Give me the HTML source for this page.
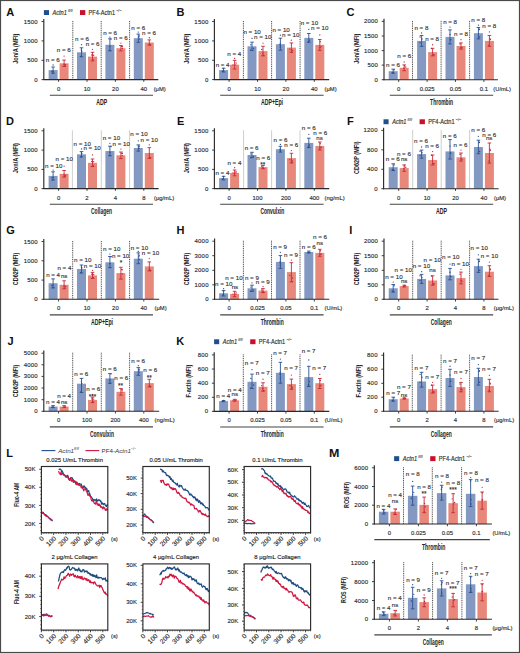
<!DOCTYPE html>
<html><head><meta charset="utf-8"><style>
html,body{margin:0;padding:0;background:#fff;}
svg{display:block;font-family:"Liberation Sans", sans-serif;}
</style></head><body>
<svg width="520" height="653" viewBox="0 0 520 653">
<rect x="0" y="0" width="520" height="653" fill="#fff"/>
<line x1="72.8" y1="21" x2="72.8" y2="79.6" stroke="#333" stroke-width="0.9" stroke-dasharray="1,0.8"/>
<line x1="101.2" y1="21" x2="101.2" y2="79.6" stroke="#333" stroke-width="0.9" stroke-dasharray="1,0.8"/>
<line x1="129.6" y1="21" x2="129.6" y2="79.6" stroke="#333" stroke-width="0.9" stroke-dasharray="1,0.8"/>
<rect x="48.6" y="70.1" width="9" height="9.5" fill="#8499c2"/>
<line x1="53.1" y1="67" x2="53.1" y2="73.2" stroke="#2a5193" stroke-width="0.9"/>
<line x1="51.3" y1="67" x2="54.9" y2="67" stroke="#2a5193" stroke-width="0.9"/>
<line x1="51.3" y1="73.2" x2="54.9" y2="73.2" stroke="#2a5193" stroke-width="0.9"/>
<circle cx="51.88" cy="71.57" r="0.7" fill="#2a5193"/>
<circle cx="52.68" cy="73.13" r="0.7" fill="#2a5193"/>
<circle cx="53.03" cy="71.27" r="0.7" fill="#2a5193"/>
<rect x="59.6" y="63.3" width="9" height="16.3" fill="#e8887a"/>
<line x1="64.1" y1="60.1" x2="64.1" y2="66.5" stroke="#c8283a" stroke-width="0.9"/>
<line x1="62.3" y1="60.1" x2="65.9" y2="60.1" stroke="#c8283a" stroke-width="0.9"/>
<line x1="62.3" y1="66.5" x2="65.9" y2="66.5" stroke="#c8283a" stroke-width="0.9"/>
<circle cx="65.03" cy="65.81" r="0.7" fill="#c8283a"/>
<circle cx="65.59" cy="64.69" r="0.7" fill="#c8283a"/>
<circle cx="64.11" cy="64.27" r="0.7" fill="#c8283a"/>
<rect x="77" y="52.3" width="9" height="27.3" fill="#8499c2"/>
<line x1="81.5" y1="47.8" x2="81.5" y2="56.8" stroke="#2a5193" stroke-width="0.9"/>
<line x1="79.7" y1="47.8" x2="83.3" y2="47.8" stroke="#2a5193" stroke-width="0.9"/>
<line x1="79.7" y1="56.8" x2="83.3" y2="56.8" stroke="#2a5193" stroke-width="0.9"/>
<circle cx="81.32" cy="50" r="0.7" fill="#2a5193"/>
<circle cx="81.84" cy="51.13" r="0.7" fill="#2a5193"/>
<circle cx="80.63" cy="56.39" r="0.7" fill="#2a5193"/>
<rect x="88" y="56.6" width="9" height="23" fill="#e8887a"/>
<line x1="92.5" y1="52.3" x2="92.5" y2="60.9" stroke="#c8283a" stroke-width="0.9"/>
<line x1="90.7" y1="52.3" x2="94.3" y2="52.3" stroke="#c8283a" stroke-width="0.9"/>
<line x1="90.7" y1="60.9" x2="94.3" y2="60.9" stroke="#c8283a" stroke-width="0.9"/>
<circle cx="93.65" cy="55.29" r="0.7" fill="#c8283a"/>
<circle cx="93.2" cy="59.62" r="0.7" fill="#c8283a"/>
<circle cx="91.74" cy="55" r="0.7" fill="#c8283a"/>
<rect x="105.4" y="44.8" width="9" height="34.8" fill="#8499c2"/>
<line x1="109.9" y1="38.8" x2="109.9" y2="50.8" stroke="#2a5193" stroke-width="0.9"/>
<line x1="108.1" y1="38.8" x2="111.7" y2="38.8" stroke="#2a5193" stroke-width="0.9"/>
<line x1="108.1" y1="50.8" x2="111.7" y2="50.8" stroke="#2a5193" stroke-width="0.9"/>
<circle cx="110.02" cy="50.46" r="0.7" fill="#2a5193"/>
<circle cx="110.98" cy="39.12" r="0.7" fill="#2a5193"/>
<circle cx="109.95" cy="46.6" r="0.7" fill="#2a5193"/>
<rect x="116.4" y="48.2" width="9" height="31.4" fill="#e8887a"/>
<line x1="120.9" y1="45.5" x2="120.9" y2="50.9" stroke="#c8283a" stroke-width="0.9"/>
<line x1="119.1" y1="45.5" x2="122.7" y2="45.5" stroke="#c8283a" stroke-width="0.9"/>
<line x1="119.1" y1="50.9" x2="122.7" y2="50.9" stroke="#c8283a" stroke-width="0.9"/>
<circle cx="121.67" cy="46.52" r="0.7" fill="#c8283a"/>
<circle cx="122.33" cy="48.43" r="0.7" fill="#c8283a"/>
<circle cx="122.34" cy="46.67" r="0.7" fill="#c8283a"/>
<rect x="133.8" y="38.2" width="9" height="41.4" fill="#8499c2"/>
<line x1="138.3" y1="34.1" x2="138.3" y2="42.3" stroke="#2a5193" stroke-width="0.9"/>
<line x1="136.5" y1="34.1" x2="140.1" y2="34.1" stroke="#2a5193" stroke-width="0.9"/>
<line x1="136.5" y1="42.3" x2="140.1" y2="42.3" stroke="#2a5193" stroke-width="0.9"/>
<circle cx="139.2" cy="35.88" r="0.7" fill="#2a5193"/>
<circle cx="139.23" cy="38.97" r="0.7" fill="#2a5193"/>
<circle cx="138.95" cy="36.95" r="0.7" fill="#2a5193"/>
<rect x="144.8" y="42.5" width="9" height="37.1" fill="#e8887a"/>
<line x1="149.3" y1="39.9" x2="149.3" y2="45.1" stroke="#c8283a" stroke-width="0.9"/>
<line x1="147.5" y1="39.9" x2="151.1" y2="39.9" stroke="#c8283a" stroke-width="0.9"/>
<line x1="147.5" y1="45.1" x2="151.1" y2="45.1" stroke="#c8283a" stroke-width="0.9"/>
<circle cx="150.09" cy="44.84" r="0.7" fill="#c8283a"/>
<circle cx="149.56" cy="44.47" r="0.7" fill="#c8283a"/>
<circle cx="150.68" cy="44.85" r="0.7" fill="#c8283a"/>
<text x="52.8" y="62.4" font-size="6.2" text-anchor="middle" fill="#333" stroke="#333" stroke-width="0.14">n = 6</text>
<circle cx="53.1" cy="65" r="0.65" fill="#2a5193"/>
<text x="63.8" y="51.5" font-size="6.2" text-anchor="middle" fill="#333" stroke="#333" stroke-width="0.14">n = 6</text>
<circle cx="64.1" cy="56.1" r="0.65" fill="#c8283a"/>
<text x="82" y="41" font-size="6.2" text-anchor="middle" fill="#333" stroke="#333" stroke-width="0.14">n = 6</text>
<circle cx="81.5" cy="44.7" r="0.65" fill="#2a5193"/>
<text x="92.6" y="45.7" font-size="6.2" text-anchor="middle" fill="#333" stroke="#333" stroke-width="0.14">n = 6</text>
<circle cx="92.5" cy="49.3" r="0.65" fill="#c8283a"/>
<text x="110.1" y="35" font-size="6.2" text-anchor="middle" fill="#333" stroke="#333" stroke-width="0.14">n = 6</text>
<circle cx="109.9" cy="37.2" r="0.65" fill="#2a5193"/>
<text x="120.7" y="40" font-size="6.2" text-anchor="middle" fill="#333" stroke="#333" stroke-width="0.14">n = 6</text>
<circle cx="120.9" cy="43.05" r="0.65" fill="#c8283a"/>
<text x="138.3" y="29.5" font-size="6.2" text-anchor="middle" fill="#333" stroke="#333" stroke-width="0.14">n = 6</text>
<circle cx="138.3" cy="32.1" r="0.65" fill="#2a5193"/>
<text x="149" y="35" font-size="6.2" text-anchor="middle" fill="#333" stroke="#333" stroke-width="0.14">n = 6</text>
<circle cx="149.3" cy="37.75" r="0.65" fill="#c8283a"/>
<line x1="43.8" y1="18.9" x2="43.8" y2="80.1" stroke="#2b2b2b" stroke-width="1.15"/>
<line x1="43.3" y1="79.6" x2="158.3" y2="79.6" stroke="#2b2b2b" stroke-width="1.1"/>
<line x1="41.5" y1="21.5" x2="43.8" y2="21.5" stroke="#2b2b2b" stroke-width="0.9"/>
<text x="37.9" y="23.5" font-size="6" text-anchor="end" fill="#2a2a2a" stroke="#2a2a2a" stroke-width="0.14" letter-spacing="0.2">1500</text>
<line x1="41.5" y1="40.9" x2="43.8" y2="40.9" stroke="#2b2b2b" stroke-width="0.9"/>
<text x="37.9" y="42.9" font-size="6" text-anchor="end" fill="#2a2a2a" stroke="#2a2a2a" stroke-width="0.14" letter-spacing="0.2">1000</text>
<line x1="41.5" y1="60.3" x2="43.8" y2="60.3" stroke="#2b2b2b" stroke-width="0.9"/>
<text x="37.9" y="62.3" font-size="6" text-anchor="end" fill="#2a2a2a" stroke="#2a2a2a" stroke-width="0.14" letter-spacing="0.2">500</text>
<line x1="41.5" y1="79.6" x2="43.8" y2="79.6" stroke="#2b2b2b" stroke-width="0.9"/>
<text x="37.9" y="81.6" font-size="6" text-anchor="end" fill="#2a2a2a" stroke="#2a2a2a" stroke-width="0.14" letter-spacing="0.2">0</text>
<line x1="58.6" y1="79.6" x2="58.6" y2="81.8" stroke="#2b2b2b" stroke-width="0.9"/>
<line x1="87" y1="79.6" x2="87" y2="81.8" stroke="#2b2b2b" stroke-width="0.9"/>
<line x1="115.4" y1="79.6" x2="115.4" y2="81.8" stroke="#2b2b2b" stroke-width="0.9"/>
<line x1="143.8" y1="79.6" x2="143.8" y2="81.8" stroke="#2b2b2b" stroke-width="0.9"/>
<text x="58.6" y="90.6" font-size="5.9" text-anchor="middle" fill="#2a2a2a" stroke="#2a2a2a" stroke-width="0.14">0</text>
<text x="87" y="90.6" font-size="5.9" text-anchor="middle" fill="#2a2a2a" stroke="#2a2a2a" stroke-width="0.14">10</text>
<text x="115.4" y="90.6" font-size="5.9" text-anchor="middle" fill="#2a2a2a" stroke="#2a2a2a" stroke-width="0.14">20</text>
<text x="143.8" y="90.6" font-size="5.9" text-anchor="middle" fill="#2a2a2a" stroke="#2a2a2a" stroke-width="0.14">40</text>
<text x="153.7" y="90.6" font-size="5.8" text-anchor="start" fill="#2a2a2a" stroke="#2a2a2a" stroke-width="0.14">(μM)</text>
<line x1="49.8" y1="95.2" x2="153" y2="95.2" stroke="#444" stroke-width="1.1"/>
<text x="101.8" y="105.2" font-size="8.6" text-anchor="middle" fill="#222" font-weight="bold" textLength="11" lengthAdjust="spacingAndGlyphs">ADP</text>
<text x="0" y="0" font-size="7.0" font-weight="bold" text-anchor="middle" fill="#222" textLength="30.2" lengthAdjust="spacingAndGlyphs" transform="translate(18,48.75) rotate(-90)">Jon/A (MFI)</text>
<text x="6.3" y="15.9" font-size="11" text-anchor="start" fill="#111" font-weight="bold">A</text>
<line x1="243.4" y1="21" x2="243.4" y2="79.6" stroke="#333" stroke-width="0.9" stroke-dasharray="1,0.8"/>
<line x1="271.6" y1="21" x2="271.6" y2="79.6" stroke="#333" stroke-width="0.9" stroke-dasharray="1,0.8"/>
<line x1="300.1" y1="21" x2="300.1" y2="79.6" stroke="#333" stroke-width="0.9" stroke-dasharray="1,0.8"/>
<rect x="219.1" y="70.1" width="9" height="9.5" fill="#8499c2"/>
<line x1="223.6" y1="68.2" x2="223.6" y2="72" stroke="#2a5193" stroke-width="0.9"/>
<line x1="221.8" y1="68.2" x2="225.4" y2="68.2" stroke="#2a5193" stroke-width="0.9"/>
<line x1="221.8" y1="72" x2="225.4" y2="72" stroke="#2a5193" stroke-width="0.9"/>
<circle cx="222.33" cy="71.36" r="0.7" fill="#2a5193"/>
<circle cx="223.48" cy="68.4" r="0.7" fill="#2a5193"/>
<circle cx="223.37" cy="70.48" r="0.7" fill="#2a5193"/>
<rect x="230.1" y="64.7" width="9" height="14.9" fill="#e8887a"/>
<line x1="234.6" y1="60.4" x2="234.6" y2="69" stroke="#c8283a" stroke-width="0.9"/>
<line x1="232.8" y1="60.4" x2="236.4" y2="60.4" stroke="#c8283a" stroke-width="0.9"/>
<line x1="232.8" y1="69" x2="236.4" y2="69" stroke="#c8283a" stroke-width="0.9"/>
<circle cx="236.08" cy="62.97" r="0.7" fill="#c8283a"/>
<circle cx="233.02" cy="64.89" r="0.7" fill="#c8283a"/>
<circle cx="235.82" cy="64.84" r="0.7" fill="#c8283a"/>
<rect x="247.5" y="46.3" width="9" height="33.3" fill="#8499c2"/>
<line x1="252" y1="42.2" x2="252" y2="50.4" stroke="#2a5193" stroke-width="0.9"/>
<line x1="250.2" y1="42.2" x2="253.8" y2="42.2" stroke="#2a5193" stroke-width="0.9"/>
<line x1="250.2" y1="50.4" x2="253.8" y2="50.4" stroke="#2a5193" stroke-width="0.9"/>
<circle cx="250.93" cy="44.72" r="0.7" fill="#2a5193"/>
<circle cx="250.73" cy="50.15" r="0.7" fill="#2a5193"/>
<circle cx="253.51" cy="48.39" r="0.7" fill="#2a5193"/>
<rect x="258.5" y="51.1" width="9" height="28.5" fill="#e8887a"/>
<line x1="263" y1="46.3" x2="263" y2="55.9" stroke="#c8283a" stroke-width="0.9"/>
<line x1="261.2" y1="46.3" x2="264.8" y2="46.3" stroke="#c8283a" stroke-width="0.9"/>
<line x1="261.2" y1="55.9" x2="264.8" y2="55.9" stroke="#c8283a" stroke-width="0.9"/>
<circle cx="263.72" cy="55.42" r="0.7" fill="#c8283a"/>
<circle cx="261.72" cy="49.53" r="0.7" fill="#c8283a"/>
<circle cx="262.78" cy="53.1" r="0.7" fill="#c8283a"/>
<rect x="275.9" y="44.2" width="9" height="35.4" fill="#8499c2"/>
<line x1="280.4" y1="38.2" x2="280.4" y2="50.2" stroke="#2a5193" stroke-width="0.9"/>
<line x1="278.6" y1="38.2" x2="282.2" y2="38.2" stroke="#2a5193" stroke-width="0.9"/>
<line x1="278.6" y1="50.2" x2="282.2" y2="50.2" stroke="#2a5193" stroke-width="0.9"/>
<circle cx="280.15" cy="44.02" r="0.7" fill="#2a5193"/>
<circle cx="280.07" cy="45.01" r="0.7" fill="#2a5193"/>
<circle cx="280.35" cy="47.23" r="0.7" fill="#2a5193"/>
<rect x="286.9" y="47.6" width="9" height="32" fill="#e8887a"/>
<line x1="291.4" y1="42.9" x2="291.4" y2="52.3" stroke="#c8283a" stroke-width="0.9"/>
<line x1="289.6" y1="42.9" x2="293.2" y2="42.9" stroke="#c8283a" stroke-width="0.9"/>
<line x1="289.6" y1="52.3" x2="293.2" y2="52.3" stroke="#c8283a" stroke-width="0.9"/>
<circle cx="289.81" cy="49.14" r="0.7" fill="#c8283a"/>
<circle cx="292.34" cy="50.4" r="0.7" fill="#c8283a"/>
<circle cx="292.04" cy="52.17" r="0.7" fill="#c8283a"/>
<rect x="304.3" y="37.9" width="9" height="41.7" fill="#8499c2"/>
<line x1="308.8" y1="33.5" x2="308.8" y2="42.3" stroke="#2a5193" stroke-width="0.9"/>
<line x1="307" y1="33.5" x2="310.6" y2="33.5" stroke="#2a5193" stroke-width="0.9"/>
<line x1="307" y1="42.3" x2="310.6" y2="42.3" stroke="#2a5193" stroke-width="0.9"/>
<circle cx="308.39" cy="41.93" r="0.7" fill="#2a5193"/>
<circle cx="308.52" cy="41.39" r="0.7" fill="#2a5193"/>
<circle cx="309.45" cy="40.16" r="0.7" fill="#2a5193"/>
<rect x="315.3" y="44.9" width="9" height="34.7" fill="#e8887a"/>
<line x1="319.8" y1="39.5" x2="319.8" y2="50.3" stroke="#c8283a" stroke-width="0.9"/>
<line x1="318" y1="39.5" x2="321.6" y2="39.5" stroke="#c8283a" stroke-width="0.9"/>
<line x1="318" y1="50.3" x2="321.6" y2="50.3" stroke="#c8283a" stroke-width="0.9"/>
<circle cx="320.29" cy="41.67" r="0.7" fill="#c8283a"/>
<circle cx="320.14" cy="47.56" r="0.7" fill="#c8283a"/>
<circle cx="321.22" cy="46.62" r="0.7" fill="#c8283a"/>
<text x="222.6" y="66.5" font-size="6.2" text-anchor="middle" fill="#333" stroke="#333" stroke-width="0.14">n = 4</text>
<text x="234.2" y="55.8" font-size="6.2" text-anchor="middle" fill="#333" stroke="#333" stroke-width="0.14">n = 4</text>
<circle cx="234.6" cy="58.4" r="0.65" fill="#c8283a"/>
<text x="252.1" y="34.1" font-size="6.2" text-anchor="middle" fill="#333" stroke="#333" stroke-width="0.14">n = 10</text>
<circle cx="252" cy="38.45" r="0.65" fill="#2a5193"/>
<text x="262.8" y="39.3" font-size="6.2" text-anchor="middle" fill="#333" stroke="#333" stroke-width="0.14">n = 10</text>
<circle cx="263" cy="43.1" r="0.65" fill="#c8283a"/>
<text x="281.1" y="31.5" font-size="6.2" text-anchor="middle" fill="#333" stroke="#333" stroke-width="0.14">n = 10</text>
<circle cx="280.4" cy="35.15" r="0.65" fill="#2a5193"/>
<text x="290.8" y="36.8" font-size="6.2" text-anchor="middle" fill="#333" stroke="#333" stroke-width="0.14">n = 10</text>
<circle cx="291.4" cy="40.15" r="0.65" fill="#c8283a"/>
<text x="309.4" y="24.7" font-size="6.2" text-anchor="middle" fill="#333" stroke="#333" stroke-width="0.14">n = 10</text>
<circle cx="308.8" cy="29.4" r="0.65" fill="#2a5193"/>
<text x="319.8" y="29.8" font-size="6.2" text-anchor="middle" fill="#333" stroke="#333" stroke-width="0.14">n = 10</text>
<circle cx="319.8" cy="34.95" r="0.65" fill="#c8283a"/>
<line x1="214.4" y1="18.9" x2="214.4" y2="80.1" stroke="#2b2b2b" stroke-width="1.15"/>
<line x1="213.9" y1="79.6" x2="329.2" y2="79.6" stroke="#2b2b2b" stroke-width="1.1"/>
<line x1="212.1" y1="21.5" x2="214.4" y2="21.5" stroke="#2b2b2b" stroke-width="0.9"/>
<text x="208.5" y="23.5" font-size="6" text-anchor="end" fill="#2a2a2a" stroke="#2a2a2a" stroke-width="0.14" letter-spacing="0.2">1500</text>
<line x1="212.1" y1="40.9" x2="214.4" y2="40.9" stroke="#2b2b2b" stroke-width="0.9"/>
<text x="208.5" y="42.9" font-size="6" text-anchor="end" fill="#2a2a2a" stroke="#2a2a2a" stroke-width="0.14" letter-spacing="0.2">1000</text>
<line x1="212.1" y1="60.3" x2="214.4" y2="60.3" stroke="#2b2b2b" stroke-width="0.9"/>
<text x="208.5" y="62.3" font-size="6" text-anchor="end" fill="#2a2a2a" stroke="#2a2a2a" stroke-width="0.14" letter-spacing="0.2">500</text>
<line x1="212.1" y1="79.6" x2="214.4" y2="79.6" stroke="#2b2b2b" stroke-width="0.9"/>
<text x="208.5" y="81.6" font-size="6" text-anchor="end" fill="#2a2a2a" stroke="#2a2a2a" stroke-width="0.14" letter-spacing="0.2">0</text>
<line x1="229.1" y1="79.6" x2="229.1" y2="81.8" stroke="#2b2b2b" stroke-width="0.9"/>
<line x1="257.5" y1="79.6" x2="257.5" y2="81.8" stroke="#2b2b2b" stroke-width="0.9"/>
<line x1="285.9" y1="79.6" x2="285.9" y2="81.8" stroke="#2b2b2b" stroke-width="0.9"/>
<line x1="314.3" y1="79.6" x2="314.3" y2="81.8" stroke="#2b2b2b" stroke-width="0.9"/>
<text x="229.1" y="90.6" font-size="5.9" text-anchor="middle" fill="#2a2a2a" stroke="#2a2a2a" stroke-width="0.14">0</text>
<text x="257.5" y="90.6" font-size="5.9" text-anchor="middle" fill="#2a2a2a" stroke="#2a2a2a" stroke-width="0.14">10</text>
<text x="285.9" y="90.6" font-size="5.9" text-anchor="middle" fill="#2a2a2a" stroke="#2a2a2a" stroke-width="0.14">20</text>
<text x="314.3" y="90.6" font-size="5.9" text-anchor="middle" fill="#2a2a2a" stroke="#2a2a2a" stroke-width="0.14">40</text>
<text x="324.6" y="90.6" font-size="5.8" text-anchor="start" fill="#2a2a2a" stroke="#2a2a2a" stroke-width="0.14">(μM)</text>
<line x1="220.2" y1="95.2" x2="323.6" y2="95.2" stroke="#444" stroke-width="1.1"/>
<text x="272" y="105.2" font-size="8.6" text-anchor="middle" fill="#222" font-weight="bold" textLength="22" lengthAdjust="spacingAndGlyphs">ADP+Epi</text>
<text x="0" y="0" font-size="7.0" font-weight="bold" text-anchor="middle" fill="#222" textLength="30.2" lengthAdjust="spacingAndGlyphs" transform="translate(188.5,48.75) rotate(-90)">Jon/A (MFI)</text>
<text x="176.6" y="15.9" font-size="11" text-anchor="start" fill="#111" font-weight="bold">B</text>
<line x1="412.5" y1="20.9" x2="412.5" y2="79.7" stroke="#333" stroke-width="0.9" stroke-dasharray="1,0.8"/>
<line x1="441.1" y1="20.9" x2="441.1" y2="79.7" stroke="#333" stroke-width="0.9" stroke-dasharray="1,0.8"/>
<line x1="469.6" y1="20.9" x2="469.6" y2="79.7" stroke="#333" stroke-width="0.9" stroke-dasharray="1,0.8"/>
<rect x="388.7" y="71.2" width="9" height="8.5" fill="#8499c2"/>
<line x1="393.2" y1="69.2" x2="393.2" y2="73.2" stroke="#2a5193" stroke-width="0.9"/>
<line x1="391.4" y1="69.2" x2="395" y2="69.2" stroke="#2a5193" stroke-width="0.9"/>
<line x1="391.4" y1="73.2" x2="395" y2="73.2" stroke="#2a5193" stroke-width="0.9"/>
<circle cx="392.36" cy="72.57" r="0.7" fill="#2a5193"/>
<circle cx="394.09" cy="69.86" r="0.7" fill="#2a5193"/>
<circle cx="393.2" cy="72.83" r="0.7" fill="#2a5193"/>
<rect x="399.7" y="67.8" width="9" height="11.9" fill="#e8887a"/>
<line x1="404.2" y1="64.9" x2="404.2" y2="70.7" stroke="#c8283a" stroke-width="0.9"/>
<line x1="402.4" y1="64.9" x2="406" y2="64.9" stroke="#c8283a" stroke-width="0.9"/>
<line x1="402.4" y1="70.7" x2="406" y2="70.7" stroke="#c8283a" stroke-width="0.9"/>
<circle cx="405.71" cy="67.04" r="0.7" fill="#c8283a"/>
<circle cx="403.64" cy="68.31" r="0.7" fill="#c8283a"/>
<circle cx="404.39" cy="65.67" r="0.7" fill="#c8283a"/>
<rect x="417.1" y="40.9" width="9" height="38.8" fill="#8499c2"/>
<line x1="421.6" y1="35.5" x2="421.6" y2="46.3" stroke="#2a5193" stroke-width="0.9"/>
<line x1="419.8" y1="35.5" x2="423.4" y2="35.5" stroke="#2a5193" stroke-width="0.9"/>
<line x1="419.8" y1="46.3" x2="423.4" y2="46.3" stroke="#2a5193" stroke-width="0.9"/>
<circle cx="420.06" cy="37.04" r="0.7" fill="#2a5193"/>
<circle cx="420.01" cy="42.73" r="0.7" fill="#2a5193"/>
<circle cx="421.96" cy="39.07" r="0.7" fill="#2a5193"/>
<rect x="428.1" y="52.1" width="9" height="27.6" fill="#e8887a"/>
<line x1="432.6" y1="48.3" x2="432.6" y2="55.9" stroke="#c8283a" stroke-width="0.9"/>
<line x1="430.8" y1="48.3" x2="434.4" y2="48.3" stroke="#c8283a" stroke-width="0.9"/>
<line x1="430.8" y1="55.9" x2="434.4" y2="55.9" stroke="#c8283a" stroke-width="0.9"/>
<circle cx="431.56" cy="48.5" r="0.7" fill="#c8283a"/>
<circle cx="434.16" cy="54.84" r="0.7" fill="#c8283a"/>
<circle cx="433.57" cy="54.88" r="0.7" fill="#c8283a"/>
<rect x="445.5" y="36.9" width="9" height="42.8" fill="#8499c2"/>
<line x1="450" y1="29.9" x2="450" y2="43.9" stroke="#2a5193" stroke-width="0.9"/>
<line x1="448.2" y1="29.9" x2="451.8" y2="29.9" stroke="#2a5193" stroke-width="0.9"/>
<line x1="448.2" y1="43.9" x2="451.8" y2="43.9" stroke="#2a5193" stroke-width="0.9"/>
<circle cx="450.61" cy="39.77" r="0.7" fill="#2a5193"/>
<circle cx="449.95" cy="34.57" r="0.7" fill="#2a5193"/>
<circle cx="450.7" cy="39.7" r="0.7" fill="#2a5193"/>
<rect x="456.5" y="46" width="9" height="33.7" fill="#e8887a"/>
<line x1="461" y1="42.9" x2="461" y2="49.1" stroke="#c8283a" stroke-width="0.9"/>
<line x1="459.2" y1="42.9" x2="462.8" y2="42.9" stroke="#c8283a" stroke-width="0.9"/>
<line x1="459.2" y1="49.1" x2="462.8" y2="49.1" stroke="#c8283a" stroke-width="0.9"/>
<circle cx="460" cy="44" r="0.7" fill="#c8283a"/>
<circle cx="462.05" cy="47.76" r="0.7" fill="#c8283a"/>
<circle cx="461.07" cy="47.37" r="0.7" fill="#c8283a"/>
<rect x="473.9" y="33.2" width="9" height="46.5" fill="#8499c2"/>
<line x1="478.4" y1="27.5" x2="478.4" y2="38.9" stroke="#2a5193" stroke-width="0.9"/>
<line x1="476.6" y1="27.5" x2="480.2" y2="27.5" stroke="#2a5193" stroke-width="0.9"/>
<line x1="476.6" y1="38.9" x2="480.2" y2="38.9" stroke="#2a5193" stroke-width="0.9"/>
<circle cx="479.22" cy="29.44" r="0.7" fill="#2a5193"/>
<circle cx="479.37" cy="29.14" r="0.7" fill="#2a5193"/>
<circle cx="479.61" cy="36.99" r="0.7" fill="#2a5193"/>
<rect x="484.9" y="40.9" width="9" height="38.8" fill="#e8887a"/>
<line x1="489.4" y1="35.5" x2="489.4" y2="46.3" stroke="#c8283a" stroke-width="0.9"/>
<line x1="487.6" y1="35.5" x2="491.2" y2="35.5" stroke="#c8283a" stroke-width="0.9"/>
<line x1="487.6" y1="46.3" x2="491.2" y2="46.3" stroke="#c8283a" stroke-width="0.9"/>
<circle cx="489" cy="45.2" r="0.7" fill="#c8283a"/>
<circle cx="490.38" cy="39.49" r="0.7" fill="#c8283a"/>
<circle cx="490.04" cy="38.85" r="0.7" fill="#c8283a"/>
<text x="393" y="67.2" font-size="6.2" text-anchor="middle" fill="#333" stroke="#333" stroke-width="0.14">n = 6</text>
<text x="404.2" y="58.4" font-size="6.2" text-anchor="middle" fill="#333" stroke="#333" stroke-width="0.14">n = 6</text>
<circle cx="404.2" cy="61.95" r="0.65" fill="#c8283a"/>
<text x="421.4" y="29.9" font-size="6.2" text-anchor="middle" fill="#333" stroke="#333" stroke-width="0.14">n = 8</text>
<circle cx="421.6" cy="33" r="0.65" fill="#2a5193"/>
<text x="432.1" y="40.6" font-size="6.2" text-anchor="middle" fill="#333" stroke="#333" stroke-width="0.14">n = 8</text>
<circle cx="432.6" cy="44.75" r="0.65" fill="#c8283a"/>
<text x="450.1" y="23.7" font-size="6.2" text-anchor="middle" fill="#333" stroke="#333" stroke-width="0.14">n = 8</text>
<circle cx="450" cy="27.1" r="0.65" fill="#2a5193"/>
<text x="461" y="35.8" font-size="6.2" text-anchor="middle" fill="#333" stroke="#333" stroke-width="0.14">n = 8</text>
<circle cx="461" cy="39.65" r="0.65" fill="#c8283a"/>
<text x="478.2" y="22.3" font-size="6.2" text-anchor="middle" fill="#333" stroke="#333" stroke-width="0.14">n = 8</text>
<circle cx="478.4" cy="25.2" r="0.65" fill="#2a5193"/>
<text x="489.2" y="27.7" font-size="6.2" text-anchor="middle" fill="#333" stroke="#333" stroke-width="0.14">n = 8</text>
<circle cx="489.4" cy="31.9" r="0.65" fill="#c8283a"/>
<line x1="384" y1="18.8" x2="384" y2="80.2" stroke="#2b2b2b" stroke-width="1.15"/>
<line x1="383.5" y1="79.7" x2="497.9" y2="79.7" stroke="#2b2b2b" stroke-width="1.1"/>
<line x1="381.7" y1="21.4" x2="384" y2="21.4" stroke="#2b2b2b" stroke-width="0.9"/>
<text x="378.1" y="23.4" font-size="6" text-anchor="end" fill="#2a2a2a" stroke="#2a2a2a" stroke-width="0.14" letter-spacing="0.2">2000</text>
<line x1="381.7" y1="36" x2="384" y2="36" stroke="#2b2b2b" stroke-width="0.9"/>
<text x="378.1" y="38" font-size="6" text-anchor="end" fill="#2a2a2a" stroke="#2a2a2a" stroke-width="0.14" letter-spacing="0.2">1500</text>
<line x1="381.7" y1="50.6" x2="384" y2="50.6" stroke="#2b2b2b" stroke-width="0.9"/>
<text x="378.1" y="52.6" font-size="6" text-anchor="end" fill="#2a2a2a" stroke="#2a2a2a" stroke-width="0.14" letter-spacing="0.2">1000</text>
<line x1="381.7" y1="65.1" x2="384" y2="65.1" stroke="#2b2b2b" stroke-width="0.9"/>
<text x="378.1" y="67.1" font-size="6" text-anchor="end" fill="#2a2a2a" stroke="#2a2a2a" stroke-width="0.14" letter-spacing="0.2">500</text>
<line x1="381.7" y1="79.7" x2="384" y2="79.7" stroke="#2b2b2b" stroke-width="0.9"/>
<text x="378.1" y="81.7" font-size="6" text-anchor="end" fill="#2a2a2a" stroke="#2a2a2a" stroke-width="0.14" letter-spacing="0.2">0</text>
<line x1="398.7" y1="79.7" x2="398.7" y2="81.9" stroke="#2b2b2b" stroke-width="0.9"/>
<line x1="427.1" y1="79.7" x2="427.1" y2="81.9" stroke="#2b2b2b" stroke-width="0.9"/>
<line x1="455.5" y1="79.7" x2="455.5" y2="81.9" stroke="#2b2b2b" stroke-width="0.9"/>
<line x1="483.9" y1="79.7" x2="483.9" y2="81.9" stroke="#2b2b2b" stroke-width="0.9"/>
<text x="398.7" y="90.7" font-size="5.9" text-anchor="middle" fill="#2a2a2a" stroke="#2a2a2a" stroke-width="0.14">0</text>
<text x="427.1" y="90.7" font-size="5.9" text-anchor="middle" fill="#2a2a2a" stroke="#2a2a2a" stroke-width="0.14">0.025</text>
<text x="455.5" y="90.7" font-size="5.9" text-anchor="middle" fill="#2a2a2a" stroke="#2a2a2a" stroke-width="0.14">0.05</text>
<text x="483.9" y="90.7" font-size="5.9" text-anchor="middle" fill="#2a2a2a" stroke="#2a2a2a" stroke-width="0.14">0.1</text>
<text x="493.3" y="90.7" font-size="5.8" text-anchor="start" fill="#2a2a2a" stroke="#2a2a2a" stroke-width="0.14">(U/mL)</text>
<line x1="389.8" y1="95.3" x2="493.2" y2="95.3" stroke="#444" stroke-width="1.1"/>
<text x="441.6" y="105.3" font-size="8.6" text-anchor="middle" fill="#222" font-weight="bold" textLength="23" lengthAdjust="spacingAndGlyphs">Thrombin</text>
<text x="0" y="0" font-size="7.0" font-weight="bold" text-anchor="middle" fill="#222" textLength="30.2" lengthAdjust="spacingAndGlyphs" transform="translate(358.5,48.75) rotate(-90)">Jon/A (MFI)</text>
<text x="346.5" y="15.9" font-size="11" text-anchor="start" fill="#111" font-weight="bold">C</text>
<line x1="72.4" y1="130.3" x2="72.4" y2="188.6" stroke="#b9b9b9" stroke-width="0.7"/>
<line x1="101.3" y1="130.3" x2="101.3" y2="188.6" stroke="#b9b9b9" stroke-width="0.7"/>
<line x1="129.6" y1="130.3" x2="129.6" y2="188.6" stroke="#b9b9b9" stroke-width="0.7"/>
<rect x="48.6" y="175.9" width="9" height="12.7" fill="#8499c2"/>
<line x1="53.1" y1="171.8" x2="53.1" y2="180" stroke="#2a5193" stroke-width="0.9"/>
<line x1="51.3" y1="171.8" x2="54.9" y2="171.8" stroke="#2a5193" stroke-width="0.9"/>
<line x1="51.3" y1="180" x2="54.9" y2="180" stroke="#2a5193" stroke-width="0.9"/>
<circle cx="51.88" cy="177.85" r="0.7" fill="#2a5193"/>
<circle cx="52.68" cy="179.91" r="0.7" fill="#2a5193"/>
<circle cx="53.03" cy="177.44" r="0.7" fill="#2a5193"/>
<rect x="59.6" y="173.8" width="9" height="14.8" fill="#e8887a"/>
<line x1="64.1" y1="170.5" x2="64.1" y2="177.1" stroke="#c8283a" stroke-width="0.9"/>
<line x1="62.3" y1="170.5" x2="65.9" y2="170.5" stroke="#c8283a" stroke-width="0.9"/>
<line x1="62.3" y1="177.1" x2="65.9" y2="177.1" stroke="#c8283a" stroke-width="0.9"/>
<circle cx="65.03" cy="176.39" r="0.7" fill="#c8283a"/>
<circle cx="65.59" cy="175.23" r="0.7" fill="#c8283a"/>
<circle cx="64.11" cy="174.8" r="0.7" fill="#c8283a"/>
<rect x="77" y="154.3" width="9" height="34.3" fill="#8499c2"/>
<line x1="81.5" y1="151.6" x2="81.5" y2="157" stroke="#2a5193" stroke-width="0.9"/>
<line x1="79.7" y1="151.6" x2="83.3" y2="151.6" stroke="#2a5193" stroke-width="0.9"/>
<line x1="79.7" y1="157" x2="83.3" y2="157" stroke="#2a5193" stroke-width="0.9"/>
<circle cx="81.32" cy="152.92" r="0.7" fill="#2a5193"/>
<circle cx="81.84" cy="153.6" r="0.7" fill="#2a5193"/>
<circle cx="80.63" cy="156.75" r="0.7" fill="#2a5193"/>
<rect x="88" y="162.8" width="9" height="25.8" fill="#e8887a"/>
<line x1="92.5" y1="159" x2="92.5" y2="166.6" stroke="#c8283a" stroke-width="0.9"/>
<line x1="90.7" y1="159" x2="94.3" y2="159" stroke="#c8283a" stroke-width="0.9"/>
<line x1="90.7" y1="166.6" x2="94.3" y2="166.6" stroke="#c8283a" stroke-width="0.9"/>
<circle cx="93.65" cy="161.64" r="0.7" fill="#c8283a"/>
<circle cx="93.2" cy="165.47" r="0.7" fill="#c8283a"/>
<circle cx="91.74" cy="161.38" r="0.7" fill="#c8283a"/>
<rect x="105.4" y="151" width="9" height="37.6" fill="#8499c2"/>
<line x1="109.9" y1="146.2" x2="109.9" y2="155.8" stroke="#2a5193" stroke-width="0.9"/>
<line x1="108.1" y1="146.2" x2="111.7" y2="146.2" stroke="#2a5193" stroke-width="0.9"/>
<line x1="108.1" y1="155.8" x2="111.7" y2="155.8" stroke="#2a5193" stroke-width="0.9"/>
<circle cx="110.02" cy="155.53" r="0.7" fill="#2a5193"/>
<circle cx="110.98" cy="146.45" r="0.7" fill="#2a5193"/>
<circle cx="109.95" cy="152.44" r="0.7" fill="#2a5193"/>
<rect x="116.4" y="155.3" width="9" height="33.3" fill="#e8887a"/>
<line x1="120.9" y1="152" x2="120.9" y2="158.6" stroke="#c8283a" stroke-width="0.9"/>
<line x1="119.1" y1="152" x2="122.7" y2="152" stroke="#c8283a" stroke-width="0.9"/>
<line x1="119.1" y1="158.6" x2="122.7" y2="158.6" stroke="#c8283a" stroke-width="0.9"/>
<circle cx="121.67" cy="153.25" r="0.7" fill="#c8283a"/>
<circle cx="122.33" cy="155.58" r="0.7" fill="#c8283a"/>
<circle cx="122.34" cy="153.43" r="0.7" fill="#c8283a"/>
<rect x="133.8" y="148" width="9" height="40.6" fill="#8499c2"/>
<line x1="138.3" y1="144.9" x2="138.3" y2="151.1" stroke="#2a5193" stroke-width="0.9"/>
<line x1="136.5" y1="144.9" x2="140.1" y2="144.9" stroke="#2a5193" stroke-width="0.9"/>
<line x1="136.5" y1="151.1" x2="140.1" y2="151.1" stroke="#2a5193" stroke-width="0.9"/>
<circle cx="139.2" cy="146.24" r="0.7" fill="#2a5193"/>
<circle cx="139.23" cy="148.58" r="0.7" fill="#2a5193"/>
<circle cx="138.95" cy="147.05" r="0.7" fill="#2a5193"/>
<rect x="144.8" y="153" width="9" height="35.6" fill="#e8887a"/>
<line x1="149.3" y1="147.6" x2="149.3" y2="158.4" stroke="#c8283a" stroke-width="0.9"/>
<line x1="147.5" y1="147.6" x2="151.1" y2="147.6" stroke="#c8283a" stroke-width="0.9"/>
<line x1="147.5" y1="158.4" x2="151.1" y2="158.4" stroke="#c8283a" stroke-width="0.9"/>
<circle cx="150.09" cy="157.87" r="0.7" fill="#c8283a"/>
<circle cx="149.56" cy="157.09" r="0.7" fill="#c8283a"/>
<circle cx="150.68" cy="157.87" r="0.7" fill="#c8283a"/>
<text x="53.8" y="167.8" font-size="6.2" text-anchor="middle" fill="#333" stroke="#333" stroke-width="0.14">n = 10</text>
<circle cx="53.1" cy="170.1" r="0.65" fill="#2a5193"/>
<text x="64.2" y="161" font-size="6.2" text-anchor="middle" fill="#333" stroke="#333" stroke-width="0.14">n = 10</text>
<circle cx="64.1" cy="166.05" r="0.65" fill="#c8283a"/>
<text x="82.3" y="145.6" font-size="6.2" text-anchor="middle" fill="#333" stroke="#333" stroke-width="0.14">n = 10</text>
<circle cx="81.5" cy="148.9" r="0.65" fill="#2a5193"/>
<text x="92.1" y="150.3" font-size="6.2" text-anchor="middle" fill="#333" stroke="#333" stroke-width="0.14">n = 10</text>
<circle cx="92.5" cy="154.95" r="0.65" fill="#c8283a"/>
<text x="111.4" y="139.9" font-size="6.2" text-anchor="middle" fill="#333" stroke="#333" stroke-width="0.14">n = 10</text>
<circle cx="109.9" cy="143.35" r="0.65" fill="#2a5193"/>
<text x="121.2" y="145.6" font-size="6.2" text-anchor="middle" fill="#333" stroke="#333" stroke-width="0.14">n = 10</text>
<circle cx="120.9" cy="149.1" r="0.65" fill="#c8283a"/>
<text x="139" y="136.2" font-size="6.2" text-anchor="middle" fill="#333" stroke="#333" stroke-width="0.14">n = 10</text>
<circle cx="138.3" cy="140.85" r="0.65" fill="#2a5193"/>
<text x="149.3" y="141.5" font-size="6.2" text-anchor="middle" fill="#333" stroke="#333" stroke-width="0.14">n = 10</text>
<circle cx="149.3" cy="144.85" r="0.65" fill="#c8283a"/>
<line x1="43.8" y1="128.2" x2="43.8" y2="189.1" stroke="#2b2b2b" stroke-width="1.15"/>
<line x1="43.3" y1="188.6" x2="158.6" y2="188.6" stroke="#2b2b2b" stroke-width="1.1"/>
<line x1="41.5" y1="130.8" x2="43.8" y2="130.8" stroke="#2b2b2b" stroke-width="0.9"/>
<text x="37.9" y="132.8" font-size="6" text-anchor="end" fill="#2a2a2a" stroke="#2a2a2a" stroke-width="0.14" letter-spacing="0.2">1500</text>
<line x1="41.5" y1="150.1" x2="43.8" y2="150.1" stroke="#2b2b2b" stroke-width="0.9"/>
<text x="37.9" y="152.1" font-size="6" text-anchor="end" fill="#2a2a2a" stroke="#2a2a2a" stroke-width="0.14" letter-spacing="0.2">1000</text>
<line x1="41.5" y1="169.4" x2="43.8" y2="169.4" stroke="#2b2b2b" stroke-width="0.9"/>
<text x="37.9" y="171.4" font-size="6" text-anchor="end" fill="#2a2a2a" stroke="#2a2a2a" stroke-width="0.14" letter-spacing="0.2">500</text>
<line x1="41.5" y1="188.6" x2="43.8" y2="188.6" stroke="#2b2b2b" stroke-width="0.9"/>
<text x="37.9" y="190.6" font-size="6" text-anchor="end" fill="#2a2a2a" stroke="#2a2a2a" stroke-width="0.14" letter-spacing="0.2">0</text>
<line x1="58.6" y1="188.6" x2="58.6" y2="190.8" stroke="#2b2b2b" stroke-width="0.9"/>
<line x1="87" y1="188.6" x2="87" y2="190.8" stroke="#2b2b2b" stroke-width="0.9"/>
<line x1="115.4" y1="188.6" x2="115.4" y2="190.8" stroke="#2b2b2b" stroke-width="0.9"/>
<line x1="143.8" y1="188.6" x2="143.8" y2="190.8" stroke="#2b2b2b" stroke-width="0.9"/>
<text x="58.6" y="199.6" font-size="5.9" text-anchor="middle" fill="#2a2a2a" stroke="#2a2a2a" stroke-width="0.14">0</text>
<text x="87" y="199.6" font-size="5.9" text-anchor="middle" fill="#2a2a2a" stroke="#2a2a2a" stroke-width="0.14">2</text>
<text x="115.4" y="199.6" font-size="5.9" text-anchor="middle" fill="#2a2a2a" stroke="#2a2a2a" stroke-width="0.14">4</text>
<text x="143.8" y="199.6" font-size="5.9" text-anchor="middle" fill="#2a2a2a" stroke="#2a2a2a" stroke-width="0.14">8</text>
<text x="154" y="199.6" font-size="5.8" text-anchor="start" fill="#2a2a2a" stroke="#2a2a2a" stroke-width="0.14">(μg/mL)</text>
<line x1="49.8" y1="204.2" x2="153" y2="204.2" stroke="#444" stroke-width="1.1"/>
<text x="101.5" y="214.2" font-size="8.6" text-anchor="middle" fill="#222" font-weight="bold" textLength="21" lengthAdjust="spacingAndGlyphs">Collagen</text>
<text x="0" y="0" font-size="7.0" font-weight="bold" text-anchor="middle" fill="#222" textLength="30.2" lengthAdjust="spacingAndGlyphs" transform="translate(18,158.15) rotate(-90)">Jon/A (MFI)</text>
<text x="6" y="125" font-size="11" text-anchor="start" fill="#111" font-weight="bold">D</text>
<line x1="243.6" y1="130.3" x2="243.6" y2="188.6" stroke="#b9b9b9" stroke-width="0.7"/>
<line x1="271.6" y1="130.3" x2="271.6" y2="188.6" stroke="#b9b9b9" stroke-width="0.7"/>
<line x1="300" y1="130.3" x2="300" y2="188.6" stroke="#b9b9b9" stroke-width="0.7"/>
<rect x="219.1" y="178.1" width="9" height="10.5" fill="#8499c2"/>
<line x1="223.6" y1="176.3" x2="223.6" y2="179.9" stroke="#2a5193" stroke-width="0.9"/>
<line x1="221.8" y1="176.3" x2="225.4" y2="176.3" stroke="#2a5193" stroke-width="0.9"/>
<line x1="221.8" y1="179.9" x2="225.4" y2="179.9" stroke="#2a5193" stroke-width="0.9"/>
<circle cx="222.33" cy="179.29" r="0.7" fill="#2a5193"/>
<circle cx="223.48" cy="176.49" r="0.7" fill="#2a5193"/>
<circle cx="223.37" cy="178.46" r="0.7" fill="#2a5193"/>
<rect x="230.1" y="172.9" width="9" height="15.7" fill="#e8887a"/>
<line x1="234.6" y1="170" x2="234.6" y2="175.8" stroke="#c8283a" stroke-width="0.9"/>
<line x1="232.8" y1="170" x2="236.4" y2="170" stroke="#c8283a" stroke-width="0.9"/>
<line x1="232.8" y1="175.8" x2="236.4" y2="175.8" stroke="#c8283a" stroke-width="0.9"/>
<circle cx="236.08" cy="171.74" r="0.7" fill="#c8283a"/>
<circle cx="233.02" cy="173.03" r="0.7" fill="#c8283a"/>
<circle cx="235.82" cy="173" r="0.7" fill="#c8283a"/>
<rect x="247.5" y="155" width="9" height="33.6" fill="#8499c2"/>
<line x1="252" y1="152.3" x2="252" y2="157.7" stroke="#2a5193" stroke-width="0.9"/>
<line x1="250.2" y1="152.3" x2="253.8" y2="152.3" stroke="#2a5193" stroke-width="0.9"/>
<line x1="250.2" y1="157.7" x2="253.8" y2="157.7" stroke="#2a5193" stroke-width="0.9"/>
<circle cx="250.93" cy="153.96" r="0.7" fill="#2a5193"/>
<circle cx="250.73" cy="157.54" r="0.7" fill="#2a5193"/>
<circle cx="253.51" cy="156.37" r="0.7" fill="#2a5193"/>
<rect x="258.5" y="167.1" width="9" height="21.5" fill="#e8887a"/>
<line x1="263" y1="165.5" x2="263" y2="168.7" stroke="#c8283a" stroke-width="0.9"/>
<line x1="261.2" y1="165.5" x2="264.8" y2="165.5" stroke="#c8283a" stroke-width="0.9"/>
<line x1="261.2" y1="168.7" x2="264.8" y2="168.7" stroke="#c8283a" stroke-width="0.9"/>
<circle cx="263.72" cy="168.54" r="0.7" fill="#c8283a"/>
<circle cx="261.72" cy="166.58" r="0.7" fill="#c8283a"/>
<circle cx="262.78" cy="167.77" r="0.7" fill="#c8283a"/>
<rect x="275.9" y="149.2" width="9" height="39.4" fill="#8499c2"/>
<line x1="280.4" y1="146.3" x2="280.4" y2="152.1" stroke="#2a5193" stroke-width="0.9"/>
<line x1="278.6" y1="146.3" x2="282.2" y2="146.3" stroke="#2a5193" stroke-width="0.9"/>
<line x1="278.6" y1="152.1" x2="282.2" y2="152.1" stroke="#2a5193" stroke-width="0.9"/>
<circle cx="280.15" cy="149.11" r="0.7" fill="#2a5193"/>
<circle cx="280.07" cy="149.59" r="0.7" fill="#2a5193"/>
<circle cx="280.35" cy="150.67" r="0.7" fill="#2a5193"/>
<rect x="286.9" y="158.1" width="9" height="30.5" fill="#e8887a"/>
<line x1="291.4" y1="153.3" x2="291.4" y2="162.9" stroke="#c8283a" stroke-width="0.9"/>
<line x1="289.6" y1="153.3" x2="293.2" y2="153.3" stroke="#c8283a" stroke-width="0.9"/>
<line x1="289.6" y1="162.9" x2="293.2" y2="162.9" stroke="#c8283a" stroke-width="0.9"/>
<circle cx="289.81" cy="159.68" r="0.7" fill="#c8283a"/>
<circle cx="292.34" cy="160.96" r="0.7" fill="#c8283a"/>
<circle cx="292.04" cy="162.77" r="0.7" fill="#c8283a"/>
<rect x="304.3" y="142.9" width="9" height="45.7" fill="#8499c2"/>
<line x1="308.8" y1="138.2" x2="308.8" y2="147.6" stroke="#2a5193" stroke-width="0.9"/>
<line x1="307" y1="138.2" x2="310.6" y2="138.2" stroke="#2a5193" stroke-width="0.9"/>
<line x1="307" y1="147.6" x2="310.6" y2="147.6" stroke="#2a5193" stroke-width="0.9"/>
<circle cx="308.39" cy="147.21" r="0.7" fill="#2a5193"/>
<circle cx="308.52" cy="146.63" r="0.7" fill="#2a5193"/>
<circle cx="309.45" cy="145.32" r="0.7" fill="#2a5193"/>
<rect x="315.3" y="146" width="9" height="42.6" fill="#e8887a"/>
<line x1="319.8" y1="142" x2="319.8" y2="150" stroke="#c8283a" stroke-width="0.9"/>
<line x1="318" y1="142" x2="321.6" y2="142" stroke="#c8283a" stroke-width="0.9"/>
<line x1="318" y1="150" x2="321.6" y2="150" stroke="#c8283a" stroke-width="0.9"/>
<circle cx="320.29" cy="143.61" r="0.7" fill="#c8283a"/>
<circle cx="320.14" cy="147.97" r="0.7" fill="#c8283a"/>
<circle cx="321.22" cy="147.28" r="0.7" fill="#c8283a"/>
<text x="222.4" y="174.5" font-size="6.2" text-anchor="middle" fill="#333" stroke="#333" stroke-width="0.14">n = 4</text>
<text x="234.4" y="164.7" font-size="6.2" text-anchor="middle" fill="#333" stroke="#333" stroke-width="0.14">n = 4</text>
<circle cx="234.6" cy="167.65" r="0.65" fill="#c8283a"/>
<text x="251.6" y="149.9" font-size="6.2" text-anchor="middle" fill="#333" stroke="#333" stroke-width="0.14">n = 6</text>
<text x="263.2" y="160.4" font-size="6.2" text-anchor="middle" fill="#333" stroke="#333" stroke-width="0.14">n = 6</text>
<text x="280.5" y="142" font-size="6.2" text-anchor="middle" fill="#333" stroke="#333" stroke-width="0.14">n = 6</text>
<circle cx="280.4" cy="144.45" r="0.65" fill="#2a5193"/>
<text x="291.3" y="147.3" font-size="6.2" text-anchor="middle" fill="#333" stroke="#333" stroke-width="0.14">n = 6</text>
<circle cx="291.4" cy="150.6" r="0.65" fill="#c8283a"/>
<text x="308.7" y="129.8" font-size="6.2" text-anchor="middle" fill="#333" stroke="#333" stroke-width="0.14">n = 6</text>
<circle cx="308.8" cy="134.3" r="0.65" fill="#2a5193"/>
<text x="320.2" y="135.2" font-size="6.2" text-anchor="middle" fill="#333" stroke="#333" stroke-width="0.14">n = 6</text>
<text x="262.8" y="166.8" font-size="6.4" text-anchor="middle" fill="#333" stroke="#333" stroke-width="0.14">**</text>
<text x="319.5" y="139.6" font-size="6.1" text-anchor="middle" fill="#333" stroke="#333" stroke-width="0.14">ns</text>
<line x1="214.4" y1="128.2" x2="214.4" y2="189.1" stroke="#2b2b2b" stroke-width="1.15"/>
<line x1="213.9" y1="188.6" x2="329.2" y2="188.6" stroke="#2b2b2b" stroke-width="1.1"/>
<line x1="212.1" y1="130.8" x2="214.4" y2="130.8" stroke="#2b2b2b" stroke-width="0.9"/>
<text x="208.5" y="132.8" font-size="6" text-anchor="end" fill="#2a2a2a" stroke="#2a2a2a" stroke-width="0.14" letter-spacing="0.2">1500</text>
<line x1="212.1" y1="150.1" x2="214.4" y2="150.1" stroke="#2b2b2b" stroke-width="0.9"/>
<text x="208.5" y="152.1" font-size="6" text-anchor="end" fill="#2a2a2a" stroke="#2a2a2a" stroke-width="0.14" letter-spacing="0.2">1000</text>
<line x1="212.1" y1="169.4" x2="214.4" y2="169.4" stroke="#2b2b2b" stroke-width="0.9"/>
<text x="208.5" y="171.4" font-size="6" text-anchor="end" fill="#2a2a2a" stroke="#2a2a2a" stroke-width="0.14" letter-spacing="0.2">500</text>
<line x1="212.1" y1="188.6" x2="214.4" y2="188.6" stroke="#2b2b2b" stroke-width="0.9"/>
<text x="208.5" y="190.6" font-size="6" text-anchor="end" fill="#2a2a2a" stroke="#2a2a2a" stroke-width="0.14" letter-spacing="0.2">0</text>
<line x1="229.1" y1="188.6" x2="229.1" y2="190.8" stroke="#2b2b2b" stroke-width="0.9"/>
<line x1="257.5" y1="188.6" x2="257.5" y2="190.8" stroke="#2b2b2b" stroke-width="0.9"/>
<line x1="285.9" y1="188.6" x2="285.9" y2="190.8" stroke="#2b2b2b" stroke-width="0.9"/>
<line x1="314.3" y1="188.6" x2="314.3" y2="190.8" stroke="#2b2b2b" stroke-width="0.9"/>
<text x="229.1" y="199.6" font-size="5.9" text-anchor="middle" fill="#2a2a2a" stroke="#2a2a2a" stroke-width="0.14">0</text>
<text x="257.5" y="199.6" font-size="5.9" text-anchor="middle" fill="#2a2a2a" stroke="#2a2a2a" stroke-width="0.14">100</text>
<text x="285.9" y="199.6" font-size="5.9" text-anchor="middle" fill="#2a2a2a" stroke="#2a2a2a" stroke-width="0.14">200</text>
<text x="314.3" y="199.6" font-size="5.9" text-anchor="middle" fill="#2a2a2a" stroke="#2a2a2a" stroke-width="0.14">400</text>
<text x="324.6" y="199.6" font-size="5.8" text-anchor="start" fill="#2a2a2a" stroke="#2a2a2a" stroke-width="0.14">(ng/mL)</text>
<line x1="220.2" y1="204.2" x2="323.6" y2="204.2" stroke="#444" stroke-width="1.1"/>
<text x="272.4" y="214.2" font-size="8.6" text-anchor="middle" fill="#222" font-weight="bold" textLength="24" lengthAdjust="spacingAndGlyphs">Convulxin</text>
<text x="0" y="0" font-size="7.0" font-weight="bold" text-anchor="middle" fill="#222" textLength="30.2" lengthAdjust="spacingAndGlyphs" transform="translate(188.5,158.15) rotate(-90)">Jon/A (MFI)</text>
<text x="177.1" y="125" font-size="11" text-anchor="start" fill="#111" font-weight="bold">E</text>
<line x1="412.7" y1="129.9" x2="412.7" y2="188.7" stroke="#b9b9b9" stroke-width="0.7"/>
<line x1="441.2" y1="129.9" x2="441.2" y2="188.7" stroke="#b9b9b9" stroke-width="0.7"/>
<line x1="469.6" y1="129.9" x2="469.6" y2="188.7" stroke="#b9b9b9" stroke-width="0.7"/>
<rect x="388.7" y="167.2" width="9" height="21.5" fill="#8499c2"/>
<line x1="393.2" y1="163.8" x2="393.2" y2="170.6" stroke="#2a5193" stroke-width="0.9"/>
<line x1="391.4" y1="163.8" x2="395" y2="163.8" stroke="#2a5193" stroke-width="0.9"/>
<line x1="391.4" y1="170.6" x2="395" y2="170.6" stroke="#2a5193" stroke-width="0.9"/>
<circle cx="392.36" cy="169.53" r="0.7" fill="#2a5193"/>
<circle cx="394.09" cy="164.92" r="0.7" fill="#2a5193"/>
<circle cx="393.2" cy="169.98" r="0.7" fill="#2a5193"/>
<rect x="399.7" y="168.1" width="9" height="20.6" fill="#e8887a"/>
<line x1="404.2" y1="164.9" x2="404.2" y2="171.3" stroke="#c8283a" stroke-width="0.9"/>
<line x1="402.4" y1="164.9" x2="406" y2="164.9" stroke="#c8283a" stroke-width="0.9"/>
<line x1="402.4" y1="171.3" x2="406" y2="171.3" stroke="#c8283a" stroke-width="0.9"/>
<circle cx="405.71" cy="167.27" r="0.7" fill="#c8283a"/>
<circle cx="403.64" cy="168.66" r="0.7" fill="#c8283a"/>
<circle cx="404.39" cy="165.75" r="0.7" fill="#c8283a"/>
<rect x="417.1" y="154.1" width="9" height="34.6" fill="#8499c2"/>
<line x1="421.6" y1="150.1" x2="421.6" y2="158.1" stroke="#2a5193" stroke-width="0.9"/>
<line x1="419.8" y1="150.1" x2="423.4" y2="150.1" stroke="#2a5193" stroke-width="0.9"/>
<line x1="419.8" y1="158.1" x2="423.4" y2="158.1" stroke="#2a5193" stroke-width="0.9"/>
<circle cx="420.06" cy="151.24" r="0.7" fill="#2a5193"/>
<circle cx="420.01" cy="155.46" r="0.7" fill="#2a5193"/>
<circle cx="421.96" cy="152.74" r="0.7" fill="#2a5193"/>
<rect x="428.1" y="160" width="9" height="28.7" fill="#e8887a"/>
<line x1="432.6" y1="155" x2="432.6" y2="165" stroke="#c8283a" stroke-width="0.9"/>
<line x1="430.8" y1="155" x2="434.4" y2="155" stroke="#c8283a" stroke-width="0.9"/>
<line x1="430.8" y1="165" x2="434.4" y2="165" stroke="#c8283a" stroke-width="0.9"/>
<circle cx="431.56" cy="155.26" r="0.7" fill="#c8283a"/>
<circle cx="434.16" cy="163.61" r="0.7" fill="#c8283a"/>
<circle cx="433.57" cy="163.65" r="0.7" fill="#c8283a"/>
<rect x="445.5" y="151.4" width="9" height="37.3" fill="#8499c2"/>
<line x1="450" y1="139.6" x2="450" y2="159" stroke="#2a5193" stroke-width="0.9"/>
<line x1="448.2" y1="139.6" x2="451.8" y2="139.6" stroke="#2a5193" stroke-width="0.9"/>
<line x1="448.2" y1="159" x2="451.8" y2="159" stroke="#2a5193" stroke-width="0.9"/>
<circle cx="450.61" cy="153.28" r="0.7" fill="#2a5193"/>
<circle cx="449.95" cy="146.08" r="0.7" fill="#2a5193"/>
<circle cx="450.7" cy="153.18" r="0.7" fill="#2a5193"/>
<rect x="456.5" y="157.3" width="9" height="31.4" fill="#e8887a"/>
<line x1="461" y1="153" x2="461" y2="161.1" stroke="#c8283a" stroke-width="0.9"/>
<line x1="459.2" y1="153" x2="462.8" y2="153" stroke="#c8283a" stroke-width="0.9"/>
<line x1="459.2" y1="161.1" x2="462.8" y2="161.1" stroke="#c8283a" stroke-width="0.9"/>
<circle cx="460" cy="154.44" r="0.7" fill="#c8283a"/>
<circle cx="462.05" cy="159.35" r="0.7" fill="#c8283a"/>
<circle cx="461.07" cy="158.84" r="0.7" fill="#c8283a"/>
<rect x="473.9" y="147" width="9" height="41.7" fill="#8499c2"/>
<line x1="478.4" y1="140.2" x2="478.4" y2="153.7" stroke="#2a5193" stroke-width="0.9"/>
<line x1="476.6" y1="140.2" x2="480.2" y2="140.2" stroke="#2a5193" stroke-width="0.9"/>
<line x1="476.6" y1="153.7" x2="480.2" y2="153.7" stroke="#2a5193" stroke-width="0.9"/>
<circle cx="479.22" cy="142.5" r="0.7" fill="#2a5193"/>
<circle cx="479.37" cy="142.14" r="0.7" fill="#2a5193"/>
<circle cx="479.61" cy="151.44" r="0.7" fill="#2a5193"/>
<rect x="484.9" y="153" width="9" height="35.7" fill="#e8887a"/>
<line x1="489.4" y1="143" x2="489.4" y2="163.1" stroke="#c8283a" stroke-width="0.9"/>
<line x1="487.6" y1="143" x2="491.2" y2="143" stroke="#c8283a" stroke-width="0.9"/>
<line x1="487.6" y1="163.1" x2="491.2" y2="163.1" stroke="#c8283a" stroke-width="0.9"/>
<circle cx="489" cy="161.05" r="0.7" fill="#c8283a"/>
<circle cx="490.38" cy="150.42" r="0.7" fill="#c8283a"/>
<circle cx="490.04" cy="149.23" r="0.7" fill="#c8283a"/>
<text x="392.7" y="160.8" font-size="6.2" text-anchor="middle" fill="#333" stroke="#333" stroke-width="0.14">n = 6</text>
<text x="403.9" y="155.5" font-size="6.2" text-anchor="middle" fill="#333" stroke="#333" stroke-width="0.14">n = 6</text>
<text x="421" y="143.3" font-size="6.2" text-anchor="middle" fill="#333" stroke="#333" stroke-width="0.14">n = 6</text>
<circle cx="421.6" cy="147" r="0.65" fill="#2a5193"/>
<text x="432.1" y="147.6" font-size="6.2" text-anchor="middle" fill="#333" stroke="#333" stroke-width="0.14">n = 6</text>
<circle cx="432.6" cy="151.6" r="0.65" fill="#c8283a"/>
<text x="449.8" y="138" font-size="6.2" text-anchor="middle" fill="#333" stroke="#333" stroke-width="0.14">n = 6</text>
<text x="460.5" y="146.6" font-size="6.2" text-anchor="middle" fill="#333" stroke="#333" stroke-width="0.14">n = 6</text>
<circle cx="461" cy="150.1" r="0.65" fill="#c8283a"/>
<text x="478.2" y="131.8" font-size="6.2" text-anchor="middle" fill="#333" stroke="#333" stroke-width="0.14">n = 6</text>
<circle cx="478.4" cy="136.3" r="0.65" fill="#2a5193"/>
<text x="489.2" y="136.6" font-size="6.2" text-anchor="middle" fill="#333" stroke="#333" stroke-width="0.14">n = 6</text>
<text x="404.2" y="160.6" font-size="6.1" text-anchor="middle" fill="#333" stroke="#333" stroke-width="0.14">ns</text>
<text x="489.2" y="140.3" font-size="6.1" text-anchor="middle" fill="#333" stroke="#333" stroke-width="0.14">ns</text>
<line x1="383.6" y1="127.8" x2="383.6" y2="189.2" stroke="#2b2b2b" stroke-width="1.15"/>
<line x1="383.1" y1="188.7" x2="498.6" y2="188.7" stroke="#2b2b2b" stroke-width="1.1"/>
<line x1="381.3" y1="130.4" x2="383.6" y2="130.4" stroke="#2b2b2b" stroke-width="0.9"/>
<text x="377.7" y="132.4" font-size="6" text-anchor="end" fill="#2a2a2a" stroke="#2a2a2a" stroke-width="0.14" letter-spacing="0.2">1200</text>
<line x1="381.3" y1="149.8" x2="383.6" y2="149.8" stroke="#2b2b2b" stroke-width="0.9"/>
<text x="377.7" y="151.8" font-size="6" text-anchor="end" fill="#2a2a2a" stroke="#2a2a2a" stroke-width="0.14" letter-spacing="0.2">800</text>
<line x1="381.3" y1="169.3" x2="383.6" y2="169.3" stroke="#2b2b2b" stroke-width="0.9"/>
<text x="377.7" y="171.3" font-size="6" text-anchor="end" fill="#2a2a2a" stroke="#2a2a2a" stroke-width="0.14" letter-spacing="0.2">400</text>
<line x1="381.3" y1="188.7" x2="383.6" y2="188.7" stroke="#2b2b2b" stroke-width="0.9"/>
<text x="377.7" y="190.7" font-size="6" text-anchor="end" fill="#2a2a2a" stroke="#2a2a2a" stroke-width="0.14" letter-spacing="0.2">0</text>
<line x1="398.7" y1="188.7" x2="398.7" y2="190.9" stroke="#2b2b2b" stroke-width="0.9"/>
<line x1="427.1" y1="188.7" x2="427.1" y2="190.9" stroke="#2b2b2b" stroke-width="0.9"/>
<line x1="455.5" y1="188.7" x2="455.5" y2="190.9" stroke="#2b2b2b" stroke-width="0.9"/>
<line x1="483.9" y1="188.7" x2="483.9" y2="190.9" stroke="#2b2b2b" stroke-width="0.9"/>
<text x="398.7" y="199.7" font-size="5.9" text-anchor="middle" fill="#2a2a2a" stroke="#2a2a2a" stroke-width="0.14">0</text>
<text x="427.1" y="199.7" font-size="5.9" text-anchor="middle" fill="#2a2a2a" stroke="#2a2a2a" stroke-width="0.14">10</text>
<text x="455.5" y="199.7" font-size="5.9" text-anchor="middle" fill="#2a2a2a" stroke="#2a2a2a" stroke-width="0.14">20</text>
<text x="483.9" y="199.7" font-size="5.9" text-anchor="middle" fill="#2a2a2a" stroke="#2a2a2a" stroke-width="0.14">40</text>
<text x="494" y="199.7" font-size="5.8" text-anchor="start" fill="#2a2a2a" stroke="#2a2a2a" stroke-width="0.14">(μM)</text>
<line x1="389.8" y1="204.3" x2="493.2" y2="204.3" stroke="#444" stroke-width="1.1"/>
<text x="441.6" y="214.3" font-size="8.6" text-anchor="middle" fill="#222" font-weight="bold" textLength="11" lengthAdjust="spacingAndGlyphs">ADP</text>
<text x="0" y="0" font-size="7.0" font-weight="bold" text-anchor="middle" fill="#222" textLength="32.5" lengthAdjust="spacingAndGlyphs" transform="translate(358.9,157.7) rotate(-90)">CD62P (MFI)</text>
<text x="346.9" y="125" font-size="11" text-anchor="start" fill="#111" font-weight="bold">F</text>
<line x1="72.7" y1="241" x2="72.7" y2="299.3" stroke="#333" stroke-width="0.9" stroke-dasharray="1,0.8"/>
<line x1="101.3" y1="241" x2="101.3" y2="299.3" stroke="#333" stroke-width="0.9" stroke-dasharray="1,0.8"/>
<line x1="129.6" y1="241" x2="129.6" y2="299.3" stroke="#333" stroke-width="0.9" stroke-dasharray="1,0.8"/>
<rect x="48.6" y="283.2" width="9" height="16.1" fill="#8499c2"/>
<line x1="53.1" y1="278.9" x2="53.1" y2="287.9" stroke="#2a5193" stroke-width="0.9"/>
<line x1="51.3" y1="278.9" x2="54.9" y2="278.9" stroke="#2a5193" stroke-width="0.9"/>
<line x1="51.3" y1="287.9" x2="54.9" y2="287.9" stroke="#2a5193" stroke-width="0.9"/>
<circle cx="51.88" cy="285.54" r="0.7" fill="#2a5193"/>
<circle cx="52.68" cy="287.8" r="0.7" fill="#2a5193"/>
<circle cx="53.03" cy="285.09" r="0.7" fill="#2a5193"/>
<rect x="59.6" y="284.8" width="9" height="14.5" fill="#e8887a"/>
<line x1="64.1" y1="280.8" x2="64.1" y2="288.8" stroke="#c8283a" stroke-width="0.9"/>
<line x1="62.3" y1="280.8" x2="65.9" y2="280.8" stroke="#c8283a" stroke-width="0.9"/>
<line x1="62.3" y1="288.8" x2="65.9" y2="288.8" stroke="#c8283a" stroke-width="0.9"/>
<circle cx="65.03" cy="287.94" r="0.7" fill="#c8283a"/>
<circle cx="65.59" cy="286.54" r="0.7" fill="#c8283a"/>
<circle cx="64.11" cy="286.01" r="0.7" fill="#c8283a"/>
<rect x="77" y="269" width="9" height="30.3" fill="#8499c2"/>
<line x1="81.5" y1="265" x2="81.5" y2="273" stroke="#2a5193" stroke-width="0.9"/>
<line x1="79.7" y1="265" x2="83.3" y2="265" stroke="#2a5193" stroke-width="0.9"/>
<line x1="79.7" y1="273" x2="83.3" y2="273" stroke="#2a5193" stroke-width="0.9"/>
<circle cx="81.32" cy="266.96" r="0.7" fill="#2a5193"/>
<circle cx="81.84" cy="267.96" r="0.7" fill="#2a5193"/>
<circle cx="80.63" cy="272.63" r="0.7" fill="#2a5193"/>
<rect x="88" y="275.4" width="9" height="23.9" fill="#e8887a"/>
<line x1="92.5" y1="272.4" x2="92.5" y2="278.4" stroke="#c8283a" stroke-width="0.9"/>
<line x1="90.7" y1="272.4" x2="94.3" y2="272.4" stroke="#c8283a" stroke-width="0.9"/>
<line x1="90.7" y1="278.4" x2="94.3" y2="278.4" stroke="#c8283a" stroke-width="0.9"/>
<circle cx="93.65" cy="274.49" r="0.7" fill="#c8283a"/>
<circle cx="93.2" cy="277.5" r="0.7" fill="#c8283a"/>
<circle cx="91.74" cy="274.28" r="0.7" fill="#c8283a"/>
<rect x="105.4" y="262.3" width="9" height="37" fill="#8499c2"/>
<line x1="109.9" y1="256.5" x2="109.9" y2="267.7" stroke="#2a5193" stroke-width="0.9"/>
<line x1="108.1" y1="256.5" x2="111.7" y2="256.5" stroke="#2a5193" stroke-width="0.9"/>
<line x1="108.1" y1="267.7" x2="111.7" y2="267.7" stroke="#2a5193" stroke-width="0.9"/>
<circle cx="110.02" cy="267.38" r="0.7" fill="#2a5193"/>
<circle cx="110.98" cy="256.8" r="0.7" fill="#2a5193"/>
<circle cx="109.95" cy="263.78" r="0.7" fill="#2a5193"/>
<rect x="116.4" y="273.1" width="9" height="26.2" fill="#e8887a"/>
<line x1="120.9" y1="267.3" x2="120.9" y2="279.1" stroke="#c8283a" stroke-width="0.9"/>
<line x1="119.1" y1="267.3" x2="122.7" y2="267.3" stroke="#c8283a" stroke-width="0.9"/>
<line x1="119.1" y1="279.1" x2="122.7" y2="279.1" stroke="#c8283a" stroke-width="0.9"/>
<circle cx="121.67" cy="269.53" r="0.7" fill="#c8283a"/>
<circle cx="122.33" cy="273.7" r="0.7" fill="#c8283a"/>
<circle cx="122.34" cy="269.85" r="0.7" fill="#c8283a"/>
<rect x="133.8" y="258.7" width="9" height="40.6" fill="#8499c2"/>
<line x1="138.3" y1="252.9" x2="138.3" y2="263.7" stroke="#2a5193" stroke-width="0.9"/>
<line x1="136.5" y1="252.9" x2="140.1" y2="252.9" stroke="#2a5193" stroke-width="0.9"/>
<line x1="136.5" y1="263.7" x2="140.1" y2="263.7" stroke="#2a5193" stroke-width="0.9"/>
<circle cx="139.2" cy="255.24" r="0.7" fill="#2a5193"/>
<circle cx="139.23" cy="259.31" r="0.7" fill="#2a5193"/>
<circle cx="138.95" cy="256.65" r="0.7" fill="#2a5193"/>
<rect x="144.8" y="266.4" width="9" height="32.9" fill="#e8887a"/>
<line x1="149.3" y1="261.9" x2="149.3" y2="270.9" stroke="#c8283a" stroke-width="0.9"/>
<line x1="147.5" y1="261.9" x2="151.1" y2="261.9" stroke="#c8283a" stroke-width="0.9"/>
<line x1="147.5" y1="270.9" x2="151.1" y2="270.9" stroke="#c8283a" stroke-width="0.9"/>
<circle cx="150.09" cy="270.46" r="0.7" fill="#c8283a"/>
<circle cx="149.56" cy="269.81" r="0.7" fill="#c8283a"/>
<circle cx="150.68" cy="270.46" r="0.7" fill="#c8283a"/>
<text x="53.1" y="276.7" font-size="6.2" text-anchor="middle" fill="#333" stroke="#333" stroke-width="0.14">n = 4</text>
<text x="64.4" y="270" font-size="6.2" text-anchor="middle" fill="#333" stroke="#333" stroke-width="0.14">n = 4</text>
<text x="82.7" y="262.3" font-size="6.2" text-anchor="middle" fill="#333" stroke="#333" stroke-width="0.14">n = 10</text>
<text x="92.5" y="267.7" font-size="6.2" text-anchor="middle" fill="#333" stroke="#333" stroke-width="0.14">n = 10</text>
<circle cx="92.5" cy="270.35" r="0.65" fill="#c8283a"/>
<text x="111.8" y="251.1" font-size="6.2" text-anchor="middle" fill="#333" stroke="#333" stroke-width="0.14">n = 10</text>
<circle cx="109.9" cy="254.1" r="0.65" fill="#2a5193"/>
<text x="120.6" y="258.3" font-size="6.2" text-anchor="middle" fill="#333" stroke="#333" stroke-width="0.14">n = 10</text>
<text x="139.4" y="249.5" font-size="6.2" text-anchor="middle" fill="#333" stroke="#333" stroke-width="0.14">n = 10</text>
<circle cx="138.3" cy="251.5" r="0.65" fill="#2a5193"/>
<text x="150.5" y="254.6" font-size="6.2" text-anchor="middle" fill="#333" stroke="#333" stroke-width="0.14">n = 10</text>
<circle cx="149.3" cy="258.55" r="0.65" fill="#c8283a"/>
<text x="64.2" y="278.3" font-size="6.1" text-anchor="middle" fill="#333" stroke="#333" stroke-width="0.14">ns</text>
<text x="121.1" y="265.1" font-size="6.4" text-anchor="middle" fill="#333" stroke="#333" stroke-width="0.14">*</text>
<line x1="43.8" y1="238.9" x2="43.8" y2="299.8" stroke="#2b2b2b" stroke-width="1.15"/>
<line x1="43.3" y1="299.3" x2="159.2" y2="299.3" stroke="#2b2b2b" stroke-width="1.1"/>
<line x1="41.5" y1="241.5" x2="43.8" y2="241.5" stroke="#2b2b2b" stroke-width="0.9"/>
<text x="37.9" y="243.5" font-size="6" text-anchor="end" fill="#2a2a2a" stroke="#2a2a2a" stroke-width="0.14" letter-spacing="0.2">1500</text>
<line x1="41.5" y1="260.8" x2="43.8" y2="260.8" stroke="#2b2b2b" stroke-width="0.9"/>
<text x="37.9" y="262.8" font-size="6" text-anchor="end" fill="#2a2a2a" stroke="#2a2a2a" stroke-width="0.14" letter-spacing="0.2">1000</text>
<line x1="41.5" y1="280.1" x2="43.8" y2="280.1" stroke="#2b2b2b" stroke-width="0.9"/>
<text x="37.9" y="282.1" font-size="6" text-anchor="end" fill="#2a2a2a" stroke="#2a2a2a" stroke-width="0.14" letter-spacing="0.2">500</text>
<line x1="41.5" y1="299.3" x2="43.8" y2="299.3" stroke="#2b2b2b" stroke-width="0.9"/>
<text x="37.9" y="301.3" font-size="6" text-anchor="end" fill="#2a2a2a" stroke="#2a2a2a" stroke-width="0.14" letter-spacing="0.2">0</text>
<line x1="58.6" y1="299.3" x2="58.6" y2="301.5" stroke="#2b2b2b" stroke-width="0.9"/>
<line x1="87" y1="299.3" x2="87" y2="301.5" stroke="#2b2b2b" stroke-width="0.9"/>
<line x1="115.4" y1="299.3" x2="115.4" y2="301.5" stroke="#2b2b2b" stroke-width="0.9"/>
<line x1="143.8" y1="299.3" x2="143.8" y2="301.5" stroke="#2b2b2b" stroke-width="0.9"/>
<text x="58.6" y="310.3" font-size="5.9" text-anchor="middle" fill="#2a2a2a" stroke="#2a2a2a" stroke-width="0.14">0</text>
<text x="87" y="310.3" font-size="5.9" text-anchor="middle" fill="#2a2a2a" stroke="#2a2a2a" stroke-width="0.14">10</text>
<text x="115.4" y="310.3" font-size="5.9" text-anchor="middle" fill="#2a2a2a" stroke="#2a2a2a" stroke-width="0.14">20</text>
<text x="143.8" y="310.3" font-size="5.9" text-anchor="middle" fill="#2a2a2a" stroke="#2a2a2a" stroke-width="0.14">40</text>
<text x="154.6" y="310.3" font-size="5.8" text-anchor="start" fill="#2a2a2a" stroke="#2a2a2a" stroke-width="0.14">(μM)</text>
<line x1="49.8" y1="314.9" x2="153" y2="314.9" stroke="#444" stroke-width="1.1"/>
<text x="102" y="324.9" font-size="8.6" text-anchor="middle" fill="#222" font-weight="bold" textLength="22" lengthAdjust="spacingAndGlyphs">ADP+Epi</text>
<text x="0" y="0" font-size="7.0" font-weight="bold" text-anchor="middle" fill="#222" textLength="32.5" lengthAdjust="spacingAndGlyphs" transform="translate(18.4,269) rotate(-90)">CD62P (MFI)</text>
<text x="6.3" y="233.8" font-size="11" text-anchor="start" fill="#111" font-weight="bold">G</text>
<line x1="243.4" y1="240.7" x2="243.4" y2="299.3" stroke="#333" stroke-width="0.9" stroke-dasharray="1,0.8"/>
<line x1="271.5" y1="240.7" x2="271.5" y2="299.3" stroke="#333" stroke-width="0.9" stroke-dasharray="1,0.8"/>
<line x1="300" y1="240.7" x2="300" y2="299.3" stroke="#333" stroke-width="0.9" stroke-dasharray="1,0.8"/>
<rect x="219.1" y="293.3" width="9" height="6" fill="#8499c2"/>
<line x1="223.6" y1="290.6" x2="223.6" y2="296" stroke="#2a5193" stroke-width="0.9"/>
<line x1="221.8" y1="290.6" x2="225.4" y2="290.6" stroke="#2a5193" stroke-width="0.9"/>
<line x1="221.8" y1="296" x2="225.4" y2="296" stroke="#2a5193" stroke-width="0.9"/>
<circle cx="222.33" cy="295.09" r="0.7" fill="#2a5193"/>
<circle cx="223.48" cy="290.88" r="0.7" fill="#2a5193"/>
<circle cx="223.37" cy="293.83" r="0.7" fill="#2a5193"/>
<rect x="230.1" y="294" width="9" height="5.3" fill="#e8887a"/>
<line x1="234.6" y1="291.3" x2="234.6" y2="296.7" stroke="#c8283a" stroke-width="0.9"/>
<line x1="232.8" y1="291.3" x2="236.4" y2="291.3" stroke="#c8283a" stroke-width="0.9"/>
<line x1="232.8" y1="296.7" x2="236.4" y2="296.7" stroke="#c8283a" stroke-width="0.9"/>
<circle cx="236.08" cy="292.92" r="0.7" fill="#c8283a"/>
<circle cx="233.02" cy="294.12" r="0.7" fill="#c8283a"/>
<circle cx="235.82" cy="294.09" r="0.7" fill="#c8283a"/>
<rect x="247.5" y="288.3" width="9" height="11" fill="#8499c2"/>
<line x1="252" y1="285.2" x2="252" y2="291.4" stroke="#2a5193" stroke-width="0.9"/>
<line x1="250.2" y1="285.2" x2="253.8" y2="285.2" stroke="#2a5193" stroke-width="0.9"/>
<line x1="250.2" y1="291.4" x2="253.8" y2="291.4" stroke="#2a5193" stroke-width="0.9"/>
<circle cx="250.93" cy="287.11" r="0.7" fill="#2a5193"/>
<circle cx="250.73" cy="291.21" r="0.7" fill="#2a5193"/>
<circle cx="253.51" cy="289.88" r="0.7" fill="#2a5193"/>
<rect x="258.5" y="290.6" width="9" height="8.7" fill="#e8887a"/>
<line x1="263" y1="288.6" x2="263" y2="292.6" stroke="#c8283a" stroke-width="0.9"/>
<line x1="261.2" y1="288.6" x2="264.8" y2="288.6" stroke="#c8283a" stroke-width="0.9"/>
<line x1="261.2" y1="292.6" x2="264.8" y2="292.6" stroke="#c8283a" stroke-width="0.9"/>
<circle cx="263.72" cy="292.4" r="0.7" fill="#c8283a"/>
<circle cx="261.72" cy="289.95" r="0.7" fill="#c8283a"/>
<circle cx="262.78" cy="291.43" r="0.7" fill="#c8283a"/>
<rect x="275.9" y="261.9" width="9" height="37.4" fill="#8499c2"/>
<line x1="280.4" y1="255.6" x2="280.4" y2="268.4" stroke="#2a5193" stroke-width="0.9"/>
<line x1="278.6" y1="255.6" x2="282.2" y2="255.6" stroke="#2a5193" stroke-width="0.9"/>
<line x1="278.6" y1="268.4" x2="282.2" y2="268.4" stroke="#2a5193" stroke-width="0.9"/>
<circle cx="280.15" cy="261.8" r="0.7" fill="#2a5193"/>
<circle cx="280.07" cy="262.86" r="0.7" fill="#2a5193"/>
<circle cx="280.35" cy="265.24" r="0.7" fill="#2a5193"/>
<rect x="286.9" y="272.1" width="9" height="27.2" fill="#e8887a"/>
<line x1="291.4" y1="262.7" x2="291.4" y2="281.8" stroke="#c8283a" stroke-width="0.9"/>
<line x1="289.6" y1="262.7" x2="293.2" y2="262.7" stroke="#c8283a" stroke-width="0.9"/>
<line x1="289.6" y1="281.8" x2="293.2" y2="281.8" stroke="#c8283a" stroke-width="0.9"/>
<circle cx="289.81" cy="275.39" r="0.7" fill="#c8283a"/>
<circle cx="292.34" cy="277.95" r="0.7" fill="#c8283a"/>
<circle cx="292.04" cy="281.54" r="0.7" fill="#c8283a"/>
<rect x="304.3" y="252" width="9" height="47.3" fill="#8499c2"/>
<line x1="308.8" y1="251.1" x2="308.8" y2="252.9" stroke="#2a5193" stroke-width="0.9"/>
<line x1="307" y1="251.1" x2="310.6" y2="251.1" stroke="#2a5193" stroke-width="0.9"/>
<line x1="307" y1="252.9" x2="310.6" y2="252.9" stroke="#2a5193" stroke-width="0.9"/>
<circle cx="308.39" cy="252.82" r="0.7" fill="#2a5193"/>
<circle cx="308.52" cy="252.71" r="0.7" fill="#2a5193"/>
<circle cx="309.45" cy="252.46" r="0.7" fill="#2a5193"/>
<rect x="315.3" y="252.9" width="9" height="46.4" fill="#e8887a"/>
<line x1="319.8" y1="249.3" x2="319.8" y2="256.3" stroke="#c8283a" stroke-width="0.9"/>
<line x1="318" y1="249.3" x2="321.6" y2="249.3" stroke="#c8283a" stroke-width="0.9"/>
<line x1="318" y1="256.3" x2="321.6" y2="256.3" stroke="#c8283a" stroke-width="0.9"/>
<circle cx="320.29" cy="250.71" r="0.7" fill="#c8283a"/>
<circle cx="320.14" cy="254.53" r="0.7" fill="#c8283a"/>
<circle cx="321.22" cy="253.92" r="0.7" fill="#c8283a"/>
<text x="223.8" y="286.1" font-size="6.2" text-anchor="middle" fill="#333" stroke="#333" stroke-width="0.14">n = 10</text>
<circle cx="223.6" cy="288.65" r="0.65" fill="#2a5193"/>
<text x="233.9" y="279.8" font-size="6.2" text-anchor="middle" fill="#333" stroke="#333" stroke-width="0.14">n = 10</text>
<text x="251.9" y="279.8" font-size="6.2" text-anchor="middle" fill="#333" stroke="#333" stroke-width="0.14">n = 9</text>
<circle cx="252" cy="282.8" r="0.65" fill="#2a5193"/>
<text x="262.8" y="283.9" font-size="6.2" text-anchor="middle" fill="#333" stroke="#333" stroke-width="0.14">n = 9</text>
<circle cx="263" cy="286.55" r="0.65" fill="#c8283a"/>
<text x="280.1" y="248.5" font-size="6.2" text-anchor="middle" fill="#333" stroke="#333" stroke-width="0.14">n = 9</text>
<circle cx="280.4" cy="252.35" r="0.65" fill="#2a5193"/>
<text x="291" y="256.9" font-size="6.2" text-anchor="middle" fill="#333" stroke="#333" stroke-width="0.14">n = 9</text>
<circle cx="291.4" cy="260.1" r="0.65" fill="#c8283a"/>
<text x="308.8" y="248.9" font-size="6.2" text-anchor="middle" fill="#333" stroke="#333" stroke-width="0.14">n = 6</text>
<text x="320" y="239.4" font-size="6.2" text-anchor="middle" fill="#333" stroke="#333" stroke-width="0.14">n = 6</text>
<text x="234.9" y="289.4" font-size="6.1" text-anchor="middle" fill="#333" stroke="#333" stroke-width="0.14">ns</text>
<text x="319.8" y="245.4" font-size="6.1" text-anchor="middle" fill="#333" stroke="#333" stroke-width="0.14">ns</text>
<line x1="214.6" y1="238.6" x2="214.6" y2="299.8" stroke="#2b2b2b" stroke-width="1.15"/>
<line x1="214.1" y1="299.3" x2="329.2" y2="299.3" stroke="#2b2b2b" stroke-width="1.1"/>
<line x1="212.3" y1="241.2" x2="214.6" y2="241.2" stroke="#2b2b2b" stroke-width="0.9"/>
<text x="208.7" y="243.2" font-size="6" text-anchor="end" fill="#2a2a2a" stroke="#2a2a2a" stroke-width="0.14" letter-spacing="0.2">4000</text>
<line x1="212.3" y1="255.7" x2="214.6" y2="255.7" stroke="#2b2b2b" stroke-width="0.9"/>
<text x="208.7" y="257.7" font-size="6" text-anchor="end" fill="#2a2a2a" stroke="#2a2a2a" stroke-width="0.14" letter-spacing="0.2">3000</text>
<line x1="212.3" y1="270.3" x2="214.6" y2="270.3" stroke="#2b2b2b" stroke-width="0.9"/>
<text x="208.7" y="272.3" font-size="6" text-anchor="end" fill="#2a2a2a" stroke="#2a2a2a" stroke-width="0.14" letter-spacing="0.2">2000</text>
<line x1="212.3" y1="284.8" x2="214.6" y2="284.8" stroke="#2b2b2b" stroke-width="0.9"/>
<text x="208.7" y="286.8" font-size="6" text-anchor="end" fill="#2a2a2a" stroke="#2a2a2a" stroke-width="0.14" letter-spacing="0.2">1000</text>
<line x1="212.3" y1="299.3" x2="214.6" y2="299.3" stroke="#2b2b2b" stroke-width="0.9"/>
<text x="208.7" y="301.3" font-size="6" text-anchor="end" fill="#2a2a2a" stroke="#2a2a2a" stroke-width="0.14" letter-spacing="0.2">0</text>
<line x1="229.1" y1="299.3" x2="229.1" y2="301.5" stroke="#2b2b2b" stroke-width="0.9"/>
<line x1="257.5" y1="299.3" x2="257.5" y2="301.5" stroke="#2b2b2b" stroke-width="0.9"/>
<line x1="285.9" y1="299.3" x2="285.9" y2="301.5" stroke="#2b2b2b" stroke-width="0.9"/>
<line x1="314.3" y1="299.3" x2="314.3" y2="301.5" stroke="#2b2b2b" stroke-width="0.9"/>
<text x="229.1" y="310.3" font-size="5.9" text-anchor="middle" fill="#2a2a2a" stroke="#2a2a2a" stroke-width="0.14">0</text>
<text x="257.5" y="310.3" font-size="5.9" text-anchor="middle" fill="#2a2a2a" stroke="#2a2a2a" stroke-width="0.14">0.025</text>
<text x="285.9" y="310.3" font-size="5.9" text-anchor="middle" fill="#2a2a2a" stroke="#2a2a2a" stroke-width="0.14">0.05</text>
<text x="314.3" y="310.3" font-size="5.9" text-anchor="middle" fill="#2a2a2a" stroke="#2a2a2a" stroke-width="0.14">0.1</text>
<text x="324.6" y="310.3" font-size="5.8" text-anchor="start" fill="#2a2a2a" stroke="#2a2a2a" stroke-width="0.14">(U/mL)</text>
<line x1="220.2" y1="314.9" x2="323.6" y2="314.9" stroke="#444" stroke-width="1.1"/>
<text x="272.2" y="324.9" font-size="8.6" text-anchor="middle" fill="#222" font-weight="bold" textLength="23" lengthAdjust="spacingAndGlyphs">Thrombin</text>
<text x="0" y="0" font-size="7.0" font-weight="bold" text-anchor="middle" fill="#222" textLength="32.5" lengthAdjust="spacingAndGlyphs" transform="translate(188.9,269) rotate(-90)">CD62P (MFI)</text>
<text x="176.6" y="233.8" font-size="11" text-anchor="start" fill="#111" font-weight="bold">H</text>
<line x1="412.7" y1="240.7" x2="412.7" y2="299.3" stroke="#333" stroke-width="0.9" stroke-dasharray="1,0.8"/>
<line x1="441.2" y1="240.7" x2="441.2" y2="299.3" stroke="#333" stroke-width="0.9" stroke-dasharray="1,0.8"/>
<line x1="469.6" y1="240.7" x2="469.6" y2="299.3" stroke="#333" stroke-width="0.9" stroke-dasharray="1,0.8"/>
<rect x="388.7" y="288.3" width="9" height="11" fill="#8499c2"/>
<line x1="393.2" y1="284.5" x2="393.2" y2="292.1" stroke="#2a5193" stroke-width="0.9"/>
<line x1="391.4" y1="284.5" x2="395" y2="284.5" stroke="#2a5193" stroke-width="0.9"/>
<line x1="391.4" y1="292.1" x2="395" y2="292.1" stroke="#2a5193" stroke-width="0.9"/>
<circle cx="392.36" cy="290.9" r="0.7" fill="#2a5193"/>
<circle cx="394.09" cy="285.75" r="0.7" fill="#2a5193"/>
<circle cx="393.2" cy="291.4" r="0.7" fill="#2a5193"/>
<rect x="399.7" y="286.1" width="9" height="13.2" fill="#e8887a"/>
<line x1="404.2" y1="285.2" x2="404.2" y2="287" stroke="#c8283a" stroke-width="0.9"/>
<line x1="402.4" y1="285.2" x2="406" y2="285.2" stroke="#c8283a" stroke-width="0.9"/>
<line x1="402.4" y1="287" x2="406" y2="287" stroke="#c8283a" stroke-width="0.9"/>
<circle cx="405.71" cy="285.87" r="0.7" fill="#c8283a"/>
<circle cx="403.64" cy="286.26" r="0.7" fill="#c8283a"/>
<circle cx="404.39" cy="285.44" r="0.7" fill="#c8283a"/>
<rect x="417.1" y="278.9" width="9" height="20.4" fill="#8499c2"/>
<line x1="421.6" y1="274.4" x2="421.6" y2="283.4" stroke="#2a5193" stroke-width="0.9"/>
<line x1="419.8" y1="274.4" x2="423.4" y2="274.4" stroke="#2a5193" stroke-width="0.9"/>
<line x1="419.8" y1="283.4" x2="423.4" y2="283.4" stroke="#2a5193" stroke-width="0.9"/>
<circle cx="420.06" cy="275.69" r="0.7" fill="#2a5193"/>
<circle cx="420.01" cy="280.43" r="0.7" fill="#2a5193"/>
<circle cx="421.96" cy="277.37" r="0.7" fill="#2a5193"/>
<rect x="428.1" y="280.5" width="9" height="18.8" fill="#e8887a"/>
<line x1="432.6" y1="275.8" x2="432.6" y2="285.2" stroke="#c8283a" stroke-width="0.9"/>
<line x1="430.8" y1="275.8" x2="434.4" y2="275.8" stroke="#c8283a" stroke-width="0.9"/>
<line x1="430.8" y1="285.2" x2="434.4" y2="285.2" stroke="#c8283a" stroke-width="0.9"/>
<circle cx="431.56" cy="276.05" r="0.7" fill="#c8283a"/>
<circle cx="434.16" cy="283.89" r="0.7" fill="#c8283a"/>
<circle cx="433.57" cy="283.93" r="0.7" fill="#c8283a"/>
<rect x="445.5" y="275.4" width="9" height="23.9" fill="#8499c2"/>
<line x1="450" y1="268.4" x2="450" y2="279.8" stroke="#2a5193" stroke-width="0.9"/>
<line x1="448.2" y1="268.4" x2="451.8" y2="268.4" stroke="#2a5193" stroke-width="0.9"/>
<line x1="448.2" y1="279.8" x2="451.8" y2="279.8" stroke="#2a5193" stroke-width="0.9"/>
<circle cx="450.61" cy="276.44" r="0.7" fill="#2a5193"/>
<circle cx="449.95" cy="272.21" r="0.7" fill="#2a5193"/>
<circle cx="450.7" cy="276.38" r="0.7" fill="#2a5193"/>
<rect x="456.5" y="278.1" width="9" height="21.2" fill="#e8887a"/>
<line x1="461" y1="272.1" x2="461" y2="283.9" stroke="#c8283a" stroke-width="0.9"/>
<line x1="459.2" y1="272.1" x2="462.8" y2="272.1" stroke="#c8283a" stroke-width="0.9"/>
<line x1="459.2" y1="283.9" x2="462.8" y2="283.9" stroke="#c8283a" stroke-width="0.9"/>
<circle cx="460" cy="274.19" r="0.7" fill="#c8283a"/>
<circle cx="462.05" cy="281.36" r="0.7" fill="#c8283a"/>
<circle cx="461.07" cy="280.61" r="0.7" fill="#c8283a"/>
<rect x="473.9" y="266.1" width="9" height="33.2" fill="#8499c2"/>
<line x1="478.4" y1="259.2" x2="478.4" y2="272.4" stroke="#2a5193" stroke-width="0.9"/>
<line x1="476.6" y1="259.2" x2="480.2" y2="259.2" stroke="#2a5193" stroke-width="0.9"/>
<line x1="476.6" y1="272.4" x2="480.2" y2="272.4" stroke="#2a5193" stroke-width="0.9"/>
<circle cx="479.22" cy="261.44" r="0.7" fill="#2a5193"/>
<circle cx="479.37" cy="261.1" r="0.7" fill="#2a5193"/>
<circle cx="479.61" cy="270.19" r="0.7" fill="#2a5193"/>
<rect x="484.9" y="271.7" width="9" height="27.6" fill="#e8887a"/>
<line x1="489.4" y1="265.7" x2="489.4" y2="276.5" stroke="#c8283a" stroke-width="0.9"/>
<line x1="487.6" y1="265.7" x2="491.2" y2="265.7" stroke="#c8283a" stroke-width="0.9"/>
<line x1="487.6" y1="276.5" x2="491.2" y2="276.5" stroke="#c8283a" stroke-width="0.9"/>
<circle cx="489" cy="275.4" r="0.7" fill="#c8283a"/>
<circle cx="490.38" cy="269.69" r="0.7" fill="#c8283a"/>
<circle cx="490.04" cy="269.05" r="0.7" fill="#c8283a"/>
<text x="393.9" y="279.1" font-size="6.2" text-anchor="middle" fill="#333" stroke="#333" stroke-width="0.14">n = 10</text>
<circle cx="393.2" cy="282.1" r="0.65" fill="#2a5193"/>
<text x="403.2" y="272.1" font-size="6.2" text-anchor="middle" fill="#333" stroke="#333" stroke-width="0.14">n = 10</text>
<text x="421.4" y="268.4" font-size="6.2" text-anchor="middle" fill="#333" stroke="#333" stroke-width="0.14">n = 10</text>
<circle cx="421.6" cy="271.7" r="0.65" fill="#2a5193"/>
<text x="432.2" y="262.3" font-size="6.2" text-anchor="middle" fill="#333" stroke="#333" stroke-width="0.14">n = 10</text>
<text x="450.8" y="259.2" font-size="6.2" text-anchor="middle" fill="#333" stroke="#333" stroke-width="0.14">n = 10</text>
<circle cx="450" cy="264.1" r="0.65" fill="#2a5193"/>
<text x="460.3" y="266" font-size="6.2" text-anchor="middle" fill="#333" stroke="#333" stroke-width="0.14">n = 10</text>
<circle cx="461" cy="269.35" r="0.65" fill="#c8283a"/>
<text x="479.2" y="249.8" font-size="6.2" text-anchor="middle" fill="#333" stroke="#333" stroke-width="0.14">n = 10</text>
<circle cx="478.4" cy="254.8" r="0.65" fill="#2a5193"/>
<text x="489.4" y="257.9" font-size="6.2" text-anchor="middle" fill="#333" stroke="#333" stroke-width="0.14">n = 10</text>
<circle cx="489.4" cy="262.1" r="0.65" fill="#c8283a"/>
<text x="404.1" y="282.7" font-size="6.1" text-anchor="middle" fill="#333" stroke="#333" stroke-width="0.14">ns</text>
<text x="432.5" y="271.5" font-size="6.1" text-anchor="middle" fill="#333" stroke="#333" stroke-width="0.14">ns</text>
<line x1="384" y1="238.6" x2="384" y2="299.8" stroke="#2b2b2b" stroke-width="1.15"/>
<line x1="383.5" y1="299.3" x2="498.4" y2="299.3" stroke="#2b2b2b" stroke-width="1.1"/>
<line x1="381.7" y1="241.2" x2="384" y2="241.2" stroke="#2b2b2b" stroke-width="0.9"/>
<text x="378.1" y="243.2" font-size="6" text-anchor="end" fill="#2a2a2a" stroke="#2a2a2a" stroke-width="0.14" letter-spacing="0.2">2000</text>
<line x1="381.7" y1="255.7" x2="384" y2="255.7" stroke="#2b2b2b" stroke-width="0.9"/>
<text x="378.1" y="257.7" font-size="6" text-anchor="end" fill="#2a2a2a" stroke="#2a2a2a" stroke-width="0.14" letter-spacing="0.2">1500</text>
<line x1="381.7" y1="270.3" x2="384" y2="270.3" stroke="#2b2b2b" stroke-width="0.9"/>
<text x="378.1" y="272.3" font-size="6" text-anchor="end" fill="#2a2a2a" stroke="#2a2a2a" stroke-width="0.14" letter-spacing="0.2">1000</text>
<line x1="381.7" y1="284.8" x2="384" y2="284.8" stroke="#2b2b2b" stroke-width="0.9"/>
<text x="378.1" y="286.8" font-size="6" text-anchor="end" fill="#2a2a2a" stroke="#2a2a2a" stroke-width="0.14" letter-spacing="0.2">500</text>
<line x1="381.7" y1="299.3" x2="384" y2="299.3" stroke="#2b2b2b" stroke-width="0.9"/>
<text x="378.1" y="301.3" font-size="6" text-anchor="end" fill="#2a2a2a" stroke="#2a2a2a" stroke-width="0.14" letter-spacing="0.2">0</text>
<line x1="398.7" y1="299.3" x2="398.7" y2="301.5" stroke="#2b2b2b" stroke-width="0.9"/>
<line x1="427.1" y1="299.3" x2="427.1" y2="301.5" stroke="#2b2b2b" stroke-width="0.9"/>
<line x1="455.5" y1="299.3" x2="455.5" y2="301.5" stroke="#2b2b2b" stroke-width="0.9"/>
<line x1="483.9" y1="299.3" x2="483.9" y2="301.5" stroke="#2b2b2b" stroke-width="0.9"/>
<text x="398.7" y="310.3" font-size="5.9" text-anchor="middle" fill="#2a2a2a" stroke="#2a2a2a" stroke-width="0.14">0</text>
<text x="427.1" y="310.3" font-size="5.9" text-anchor="middle" fill="#2a2a2a" stroke="#2a2a2a" stroke-width="0.14">2</text>
<text x="455.5" y="310.3" font-size="5.9" text-anchor="middle" fill="#2a2a2a" stroke="#2a2a2a" stroke-width="0.14">4</text>
<text x="483.9" y="310.3" font-size="5.9" text-anchor="middle" fill="#2a2a2a" stroke="#2a2a2a" stroke-width="0.14">8</text>
<text x="493.8" y="310.3" font-size="5.8" text-anchor="start" fill="#2a2a2a" stroke="#2a2a2a" stroke-width="0.14">(μg/mL)</text>
<line x1="389.8" y1="314.9" x2="493.2" y2="314.9" stroke="#444" stroke-width="1.1"/>
<text x="441.2" y="324.9" font-size="8.6" text-anchor="middle" fill="#222" font-weight="bold" textLength="21" lengthAdjust="spacingAndGlyphs">Collagen</text>
<text x="0" y="0" font-size="7.0" font-weight="bold" text-anchor="middle" fill="#222" textLength="32.5" lengthAdjust="spacingAndGlyphs" transform="translate(358.9,269) rotate(-90)">CD62P (MFI)</text>
<text x="349.2" y="233.8" font-size="11" text-anchor="start" fill="#111" font-weight="bold">I</text>
<line x1="72.7" y1="352.7" x2="72.7" y2="411.3" stroke="#333" stroke-width="0.9" stroke-dasharray="1,0.8"/>
<line x1="101.3" y1="352.7" x2="101.3" y2="411.3" stroke="#333" stroke-width="0.9" stroke-dasharray="1,0.8"/>
<line x1="129.6" y1="352.7" x2="129.6" y2="411.3" stroke="#333" stroke-width="0.9" stroke-dasharray="1,0.8"/>
<rect x="48.6" y="406.6" width="9" height="4.7" fill="#8499c2"/>
<line x1="53.1" y1="405.6" x2="53.1" y2="407.6" stroke="#2a5193" stroke-width="0.9"/>
<line x1="51.3" y1="405.6" x2="54.9" y2="405.6" stroke="#2a5193" stroke-width="0.9"/>
<line x1="51.3" y1="407.6" x2="54.9" y2="407.6" stroke="#2a5193" stroke-width="0.9"/>
<circle cx="51.88" cy="407.08" r="0.7" fill="#2a5193"/>
<circle cx="52.68" cy="407.58" r="0.7" fill="#2a5193"/>
<circle cx="53.03" cy="406.98" r="0.7" fill="#2a5193"/>
<rect x="59.6" y="406.6" width="9" height="4.7" fill="#e8887a"/>
<line x1="64.1" y1="405.6" x2="64.1" y2="407.6" stroke="#c8283a" stroke-width="0.9"/>
<line x1="62.3" y1="405.6" x2="65.9" y2="405.6" stroke="#c8283a" stroke-width="0.9"/>
<line x1="62.3" y1="407.6" x2="65.9" y2="407.6" stroke="#c8283a" stroke-width="0.9"/>
<circle cx="65.03" cy="407.38" r="0.7" fill="#c8283a"/>
<circle cx="65.59" cy="407.03" r="0.7" fill="#c8283a"/>
<circle cx="64.11" cy="406.9" r="0.7" fill="#c8283a"/>
<rect x="77" y="383.7" width="9" height="27.6" fill="#8499c2"/>
<line x1="81.5" y1="378.4" x2="81.5" y2="392.5" stroke="#2a5193" stroke-width="0.9"/>
<line x1="79.7" y1="378.4" x2="83.3" y2="378.4" stroke="#2a5193" stroke-width="0.9"/>
<line x1="79.7" y1="392.5" x2="83.3" y2="392.5" stroke="#2a5193" stroke-width="0.9"/>
<circle cx="81.32" cy="381.85" r="0.7" fill="#2a5193"/>
<circle cx="81.84" cy="383.62" r="0.7" fill="#2a5193"/>
<circle cx="80.63" cy="391.85" r="0.7" fill="#2a5193"/>
<rect x="88" y="399.9" width="9" height="11.4" fill="#e8887a"/>
<line x1="92.5" y1="397.2" x2="92.5" y2="402.6" stroke="#c8283a" stroke-width="0.9"/>
<line x1="90.7" y1="397.2" x2="94.3" y2="397.2" stroke="#c8283a" stroke-width="0.9"/>
<line x1="90.7" y1="402.6" x2="94.3" y2="402.6" stroke="#c8283a" stroke-width="0.9"/>
<circle cx="93.65" cy="399.08" r="0.7" fill="#c8283a"/>
<circle cx="93.2" cy="401.79" r="0.7" fill="#c8283a"/>
<circle cx="91.74" cy="398.89" r="0.7" fill="#c8283a"/>
<rect x="105.4" y="378.4" width="9" height="32.9" fill="#8499c2"/>
<line x1="109.9" y1="373.6" x2="109.9" y2="383.3" stroke="#2a5193" stroke-width="0.9"/>
<line x1="108.1" y1="373.6" x2="111.7" y2="373.6" stroke="#2a5193" stroke-width="0.9"/>
<line x1="108.1" y1="383.3" x2="111.7" y2="383.3" stroke="#2a5193" stroke-width="0.9"/>
<circle cx="110.02" cy="383.03" r="0.7" fill="#2a5193"/>
<circle cx="110.98" cy="373.86" r="0.7" fill="#2a5193"/>
<circle cx="109.95" cy="379.9" r="0.7" fill="#2a5193"/>
<rect x="116.4" y="391.8" width="9" height="19.5" fill="#e8887a"/>
<line x1="120.9" y1="388.5" x2="120.9" y2="395.1" stroke="#c8283a" stroke-width="0.9"/>
<line x1="119.1" y1="388.5" x2="122.7" y2="388.5" stroke="#c8283a" stroke-width="0.9"/>
<line x1="119.1" y1="395.1" x2="122.7" y2="395.1" stroke="#c8283a" stroke-width="0.9"/>
<circle cx="121.67" cy="389.75" r="0.7" fill="#c8283a"/>
<circle cx="122.33" cy="392.08" r="0.7" fill="#c8283a"/>
<circle cx="122.34" cy="389.93" r="0.7" fill="#c8283a"/>
<rect x="133.8" y="371.2" width="9" height="40.1" fill="#8499c2"/>
<line x1="138.3" y1="367.6" x2="138.3" y2="375.3" stroke="#2a5193" stroke-width="0.9"/>
<line x1="136.5" y1="367.6" x2="140.1" y2="367.6" stroke="#2a5193" stroke-width="0.9"/>
<line x1="136.5" y1="375.3" x2="140.1" y2="375.3" stroke="#2a5193" stroke-width="0.9"/>
<circle cx="139.2" cy="369.27" r="0.7" fill="#2a5193"/>
<circle cx="139.23" cy="372.17" r="0.7" fill="#2a5193"/>
<circle cx="138.95" cy="370.27" r="0.7" fill="#2a5193"/>
<rect x="144.8" y="383.1" width="9" height="28.2" fill="#e8887a"/>
<line x1="149.3" y1="379.3" x2="149.3" y2="386.9" stroke="#c8283a" stroke-width="0.9"/>
<line x1="147.5" y1="379.3" x2="151.1" y2="379.3" stroke="#c8283a" stroke-width="0.9"/>
<line x1="147.5" y1="386.9" x2="151.1" y2="386.9" stroke="#c8283a" stroke-width="0.9"/>
<circle cx="150.09" cy="386.52" r="0.7" fill="#c8283a"/>
<circle cx="149.56" cy="385.98" r="0.7" fill="#c8283a"/>
<circle cx="150.68" cy="386.53" r="0.7" fill="#c8283a"/>
<text x="53" y="403.9" font-size="6.2" text-anchor="middle" fill="#333" stroke="#333" stroke-width="0.14">n = 4</text>
<text x="64.1" y="398.1" font-size="6.2" text-anchor="middle" fill="#333" stroke="#333" stroke-width="0.14">n = 4</text>
<text x="81.3" y="375.7" font-size="6.2" text-anchor="middle" fill="#333" stroke="#333" stroke-width="0.14">n = 6</text>
<text x="93.2" y="390.9" font-size="6.2" text-anchor="middle" fill="#333" stroke="#333" stroke-width="0.14">n = 6</text>
<circle cx="92.5" cy="394.35" r="0.65" fill="#c8283a"/>
<text x="109.8" y="371" font-size="6.2" text-anchor="middle" fill="#333" stroke="#333" stroke-width="0.14">n = 6</text>
<text x="121.3" y="379.7" font-size="6.2" text-anchor="middle" fill="#333" stroke="#333" stroke-width="0.14">n = 6</text>
<text x="138.1" y="363.1" font-size="6.2" text-anchor="middle" fill="#333" stroke="#333" stroke-width="0.14">n = 6</text>
<circle cx="138.3" cy="365.65" r="0.65" fill="#2a5193"/>
<text x="150.2" y="371.6" font-size="6.2" text-anchor="middle" fill="#333" stroke="#333" stroke-width="0.14">n = 6</text>
<text x="64.1" y="404.4" font-size="6.1" text-anchor="middle" fill="#333" stroke="#333" stroke-width="0.14">ns</text>
<text x="92.5" y="399" font-size="6.4" text-anchor="middle" fill="#333" stroke="#333" stroke-width="0.14">***</text>
<text x="120.6" y="388" font-size="6.4" text-anchor="middle" fill="#333" stroke="#333" stroke-width="0.14">**</text>
<text x="149.2" y="380" font-size="6.4" text-anchor="middle" fill="#333" stroke="#333" stroke-width="0.14">**</text>
<line x1="43.8" y1="350.6" x2="43.8" y2="411.8" stroke="#2b2b2b" stroke-width="1.15"/>
<line x1="43.3" y1="411.3" x2="159.2" y2="411.3" stroke="#2b2b2b" stroke-width="1.1"/>
<line x1="41.5" y1="353.2" x2="43.8" y2="353.2" stroke="#2b2b2b" stroke-width="0.9"/>
<text x="37.9" y="355.2" font-size="6" text-anchor="end" fill="#2a2a2a" stroke="#2a2a2a" stroke-width="0.14" letter-spacing="0.2">5000</text>
<line x1="41.5" y1="364.8" x2="43.8" y2="364.8" stroke="#2b2b2b" stroke-width="0.9"/>
<text x="37.9" y="366.8" font-size="6" text-anchor="end" fill="#2a2a2a" stroke="#2a2a2a" stroke-width="0.14" letter-spacing="0.2">4000</text>
<line x1="41.5" y1="376.4" x2="43.8" y2="376.4" stroke="#2b2b2b" stroke-width="0.9"/>
<text x="37.9" y="378.4" font-size="6" text-anchor="end" fill="#2a2a2a" stroke="#2a2a2a" stroke-width="0.14" letter-spacing="0.2">3000</text>
<line x1="41.5" y1="388" x2="43.8" y2="388" stroke="#2b2b2b" stroke-width="0.9"/>
<text x="37.9" y="390" font-size="6" text-anchor="end" fill="#2a2a2a" stroke="#2a2a2a" stroke-width="0.14" letter-spacing="0.2">2000</text>
<line x1="41.5" y1="399.7" x2="43.8" y2="399.7" stroke="#2b2b2b" stroke-width="0.9"/>
<text x="37.9" y="401.7" font-size="6" text-anchor="end" fill="#2a2a2a" stroke="#2a2a2a" stroke-width="0.14" letter-spacing="0.2">1000</text>
<line x1="41.5" y1="411.3" x2="43.8" y2="411.3" stroke="#2b2b2b" stroke-width="0.9"/>
<text x="37.9" y="413.3" font-size="6" text-anchor="end" fill="#2a2a2a" stroke="#2a2a2a" stroke-width="0.14" letter-spacing="0.2">0</text>
<line x1="58.6" y1="411.3" x2="58.6" y2="413.5" stroke="#2b2b2b" stroke-width="0.9"/>
<line x1="87" y1="411.3" x2="87" y2="413.5" stroke="#2b2b2b" stroke-width="0.9"/>
<line x1="115.4" y1="411.3" x2="115.4" y2="413.5" stroke="#2b2b2b" stroke-width="0.9"/>
<line x1="143.8" y1="411.3" x2="143.8" y2="413.5" stroke="#2b2b2b" stroke-width="0.9"/>
<text x="58.6" y="422.3" font-size="5.9" text-anchor="middle" fill="#2a2a2a" stroke="#2a2a2a" stroke-width="0.14">0</text>
<text x="87" y="422.3" font-size="5.9" text-anchor="middle" fill="#2a2a2a" stroke="#2a2a2a" stroke-width="0.14">100</text>
<text x="115.4" y="422.3" font-size="5.9" text-anchor="middle" fill="#2a2a2a" stroke="#2a2a2a" stroke-width="0.14">200</text>
<text x="143.8" y="422.3" font-size="5.9" text-anchor="middle" fill="#2a2a2a" stroke="#2a2a2a" stroke-width="0.14">400</text>
<text x="154.6" y="422.3" font-size="5.8" text-anchor="start" fill="#2a2a2a" stroke="#2a2a2a" stroke-width="0.14">(ng/mL)</text>
<line x1="49.8" y1="426.9" x2="153" y2="426.9" stroke="#444" stroke-width="1.1"/>
<text x="102" y="436.9" font-size="8.6" text-anchor="middle" fill="#222" font-weight="bold" textLength="24" lengthAdjust="spacingAndGlyphs">Convulxin</text>
<text x="0" y="0" font-size="7.0" font-weight="bold" text-anchor="middle" fill="#222" textLength="32.5" lengthAdjust="spacingAndGlyphs" transform="translate(18.4,380.9) rotate(-90)">CD62P (MFI)</text>
<text x="7.6" y="344.6" font-size="11" text-anchor="start" fill="#111" font-weight="bold">J</text>
<line x1="243.3" y1="354.4" x2="243.3" y2="411.4" stroke="#333" stroke-width="0.9" stroke-dasharray="1,0.8"/>
<line x1="271.6" y1="354.4" x2="271.6" y2="411.4" stroke="#333" stroke-width="0.9" stroke-dasharray="1,0.8"/>
<line x1="300" y1="354.4" x2="300" y2="411.4" stroke="#333" stroke-width="0.9" stroke-dasharray="1,0.8"/>
<rect x="219.1" y="401.1" width="9" height="10.3" fill="#8499c2"/>
<line x1="223.6" y1="400.5" x2="223.6" y2="401.7" stroke="#2a5193" stroke-width="0.9"/>
<line x1="221.8" y1="400.5" x2="225.4" y2="400.5" stroke="#2a5193" stroke-width="0.9"/>
<line x1="221.8" y1="401.7" x2="225.4" y2="401.7" stroke="#2a5193" stroke-width="0.9"/>
<circle cx="222.33" cy="401.5" r="0.7" fill="#2a5193"/>
<circle cx="223.48" cy="400.56" r="0.7" fill="#2a5193"/>
<circle cx="223.37" cy="401.22" r="0.7" fill="#2a5193"/>
<rect x="230.1" y="400.3" width="9" height="11.1" fill="#e8887a"/>
<line x1="234.6" y1="399.3" x2="234.6" y2="401.3" stroke="#c8283a" stroke-width="0.9"/>
<line x1="232.8" y1="399.3" x2="236.4" y2="399.3" stroke="#c8283a" stroke-width="0.9"/>
<line x1="232.8" y1="401.3" x2="236.4" y2="401.3" stroke="#c8283a" stroke-width="0.9"/>
<circle cx="236.08" cy="399.9" r="0.7" fill="#c8283a"/>
<circle cx="233.02" cy="400.34" r="0.7" fill="#c8283a"/>
<circle cx="235.82" cy="400.33" r="0.7" fill="#c8283a"/>
<rect x="247.5" y="381.8" width="9" height="29.6" fill="#8499c2"/>
<line x1="252" y1="374.1" x2="252" y2="388.5" stroke="#2a5193" stroke-width="0.9"/>
<line x1="250.2" y1="374.1" x2="253.8" y2="374.1" stroke="#2a5193" stroke-width="0.9"/>
<line x1="250.2" y1="388.5" x2="253.8" y2="388.5" stroke="#2a5193" stroke-width="0.9"/>
<circle cx="250.93" cy="378.53" r="0.7" fill="#2a5193"/>
<circle cx="250.73" cy="388.07" r="0.7" fill="#2a5193"/>
<circle cx="253.51" cy="384.96" r="0.7" fill="#2a5193"/>
<rect x="258.5" y="386.8" width="9" height="24.6" fill="#e8887a"/>
<line x1="263" y1="382.8" x2="263" y2="391.2" stroke="#c8283a" stroke-width="0.9"/>
<line x1="261.2" y1="382.8" x2="264.8" y2="382.8" stroke="#c8283a" stroke-width="0.9"/>
<line x1="261.2" y1="391.2" x2="264.8" y2="391.2" stroke="#c8283a" stroke-width="0.9"/>
<circle cx="263.72" cy="390.78" r="0.7" fill="#c8283a"/>
<circle cx="261.72" cy="385.63" r="0.7" fill="#c8283a"/>
<circle cx="262.78" cy="388.75" r="0.7" fill="#c8283a"/>
<rect x="275.9" y="372.8" width="9" height="38.6" fill="#8499c2"/>
<line x1="280.4" y1="362.3" x2="280.4" y2="383.2" stroke="#2a5193" stroke-width="0.9"/>
<line x1="278.6" y1="362.3" x2="282.2" y2="362.3" stroke="#2a5193" stroke-width="0.9"/>
<line x1="278.6" y1="383.2" x2="282.2" y2="383.2" stroke="#2a5193" stroke-width="0.9"/>
<circle cx="280.15" cy="372.43" r="0.7" fill="#2a5193"/>
<circle cx="280.07" cy="374.16" r="0.7" fill="#2a5193"/>
<circle cx="280.35" cy="378.03" r="0.7" fill="#2a5193"/>
<rect x="286.9" y="384.1" width="9" height="27.3" fill="#e8887a"/>
<line x1="291.4" y1="379.1" x2="291.4" y2="389.2" stroke="#c8283a" stroke-width="0.9"/>
<line x1="289.6" y1="379.1" x2="293.2" y2="379.1" stroke="#c8283a" stroke-width="0.9"/>
<line x1="289.6" y1="389.2" x2="293.2" y2="389.2" stroke="#c8283a" stroke-width="0.9"/>
<circle cx="289.81" cy="385.81" r="0.7" fill="#c8283a"/>
<circle cx="292.34" cy="387.16" r="0.7" fill="#c8283a"/>
<circle cx="292.04" cy="389.06" r="0.7" fill="#c8283a"/>
<rect x="304.3" y="377.1" width="9" height="34.3" fill="#8499c2"/>
<line x1="308.8" y1="366.3" x2="308.8" y2="386.5" stroke="#2a5193" stroke-width="0.9"/>
<line x1="307" y1="366.3" x2="310.6" y2="366.3" stroke="#2a5193" stroke-width="0.9"/>
<line x1="307" y1="386.5" x2="310.6" y2="386.5" stroke="#2a5193" stroke-width="0.9"/>
<circle cx="308.39" cy="385.65" r="0.7" fill="#2a5193"/>
<circle cx="308.52" cy="384.41" r="0.7" fill="#2a5193"/>
<circle cx="309.45" cy="381.6" r="0.7" fill="#2a5193"/>
<rect x="315.3" y="383.2" width="9" height="28.2" fill="#e8887a"/>
<line x1="319.8" y1="378.5" x2="319.8" y2="388.5" stroke="#c8283a" stroke-width="0.9"/>
<line x1="318" y1="378.5" x2="321.6" y2="378.5" stroke="#c8283a" stroke-width="0.9"/>
<line x1="318" y1="388.5" x2="321.6" y2="388.5" stroke="#c8283a" stroke-width="0.9"/>
<circle cx="320.29" cy="380.51" r="0.7" fill="#c8283a"/>
<circle cx="320.14" cy="385.97" r="0.7" fill="#c8283a"/>
<circle cx="321.22" cy="385.1" r="0.7" fill="#c8283a"/>
<text x="223.2" y="398.4" font-size="6.2" text-anchor="middle" fill="#333" stroke="#333" stroke-width="0.14">n = 4</text>
<text x="234.8" y="391.9" font-size="6.2" text-anchor="middle" fill="#333" stroke="#333" stroke-width="0.14">n = 4</text>
<text x="251.7" y="364.7" font-size="6.2" text-anchor="middle" fill="#333" stroke="#333" stroke-width="0.14">n = 7</text>
<circle cx="252" cy="369.7" r="0.65" fill="#2a5193"/>
<text x="262.7" y="375.1" font-size="6.2" text-anchor="middle" fill="#333" stroke="#333" stroke-width="0.14">n = 7</text>
<circle cx="263" cy="379.25" r="0.65" fill="#c8283a"/>
<text x="280.1" y="355.3" font-size="6.2" text-anchor="middle" fill="#333" stroke="#333" stroke-width="0.14">n = 7</text>
<circle cx="280.4" cy="359.1" r="0.65" fill="#2a5193"/>
<text x="291.1" y="370.4" font-size="6.2" text-anchor="middle" fill="#333" stroke="#333" stroke-width="0.14">n = 7</text>
<circle cx="291.4" cy="375.05" r="0.65" fill="#c8283a"/>
<text x="308.6" y="353.1" font-size="6.2" text-anchor="middle" fill="#333" stroke="#333" stroke-width="0.14">n = 7</text>
<circle cx="308.8" cy="360" r="0.65" fill="#2a5193"/>
<text x="319.3" y="369.7" font-size="6.2" text-anchor="middle" fill="#333" stroke="#333" stroke-width="0.14">n = 7</text>
<circle cx="319.8" cy="374.4" r="0.65" fill="#c8283a"/>
<text x="234.8" y="396.4" font-size="6.1" text-anchor="middle" fill="#333" stroke="#333" stroke-width="0.14">ns</text>
<line x1="214.2" y1="352.3" x2="214.2" y2="411.9" stroke="#2b2b2b" stroke-width="1.15"/>
<line x1="213.7" y1="411.4" x2="329.3" y2="411.4" stroke="#2b2b2b" stroke-width="1.1"/>
<line x1="211.9" y1="354.9" x2="214.2" y2="354.9" stroke="#2b2b2b" stroke-width="0.9"/>
<text x="208.3" y="356.9" font-size="6" text-anchor="end" fill="#2a2a2a" stroke="#2a2a2a" stroke-width="0.14" letter-spacing="0.2">800</text>
<line x1="211.9" y1="369" x2="214.2" y2="369" stroke="#2b2b2b" stroke-width="0.9"/>
<text x="208.3" y="371" font-size="6" text-anchor="end" fill="#2a2a2a" stroke="#2a2a2a" stroke-width="0.14" letter-spacing="0.2">600</text>
<line x1="211.9" y1="383.2" x2="214.2" y2="383.2" stroke="#2b2b2b" stroke-width="0.9"/>
<text x="208.3" y="385.2" font-size="6" text-anchor="end" fill="#2a2a2a" stroke="#2a2a2a" stroke-width="0.14" letter-spacing="0.2">400</text>
<line x1="211.9" y1="397.3" x2="214.2" y2="397.3" stroke="#2b2b2b" stroke-width="0.9"/>
<text x="208.3" y="399.3" font-size="6" text-anchor="end" fill="#2a2a2a" stroke="#2a2a2a" stroke-width="0.14" letter-spacing="0.2">200</text>
<line x1="211.9" y1="411.4" x2="214.2" y2="411.4" stroke="#2b2b2b" stroke-width="0.9"/>
<text x="208.3" y="413.4" font-size="6" text-anchor="end" fill="#2a2a2a" stroke="#2a2a2a" stroke-width="0.14" letter-spacing="0.2">0</text>
<line x1="229.1" y1="411.4" x2="229.1" y2="413.6" stroke="#2b2b2b" stroke-width="0.9"/>
<line x1="257.5" y1="411.4" x2="257.5" y2="413.6" stroke="#2b2b2b" stroke-width="0.9"/>
<line x1="285.9" y1="411.4" x2="285.9" y2="413.6" stroke="#2b2b2b" stroke-width="0.9"/>
<line x1="314.3" y1="411.4" x2="314.3" y2="413.6" stroke="#2b2b2b" stroke-width="0.9"/>
<text x="229.1" y="422.4" font-size="5.9" text-anchor="middle" fill="#2a2a2a" stroke="#2a2a2a" stroke-width="0.14">0</text>
<text x="257.5" y="422.4" font-size="5.9" text-anchor="middle" fill="#2a2a2a" stroke="#2a2a2a" stroke-width="0.14">0.025</text>
<text x="285.9" y="422.4" font-size="5.9" text-anchor="middle" fill="#2a2a2a" stroke="#2a2a2a" stroke-width="0.14">0.05</text>
<text x="314.3" y="422.4" font-size="5.9" text-anchor="middle" fill="#2a2a2a" stroke="#2a2a2a" stroke-width="0.14">0.1</text>
<text x="324.7" y="422.4" font-size="5.8" text-anchor="start" fill="#2a2a2a" stroke="#2a2a2a" stroke-width="0.14">(U/mL)</text>
<line x1="220.2" y1="427" x2="323.6" y2="427" stroke="#444" stroke-width="1.1"/>
<text x="272.2" y="437" font-size="8.6" text-anchor="middle" fill="#222" font-weight="bold" textLength="23" lengthAdjust="spacingAndGlyphs">Thrombin</text>
<text x="0" y="0" font-size="7.0" font-weight="bold" text-anchor="middle" fill="#222" textLength="33" lengthAdjust="spacingAndGlyphs" transform="translate(191.3,381.1) rotate(-90)">F-actin (MFI)</text>
<text x="176.3" y="345" font-size="11" text-anchor="start" fill="#111" font-weight="bold">K</text>
<line x1="412.3" y1="354.7" x2="412.3" y2="411.3" stroke="#333" stroke-width="0.9" stroke-dasharray="1,0.8"/>
<line x1="441.1" y1="354.7" x2="441.1" y2="411.3" stroke="#333" stroke-width="0.9" stroke-dasharray="1,0.8"/>
<line x1="469.6" y1="354.7" x2="469.6" y2="411.3" stroke="#333" stroke-width="0.9" stroke-dasharray="1,0.8"/>
<rect x="388.7" y="399.2" width="9" height="12.1" fill="#8499c2"/>
<line x1="393.2" y1="397.2" x2="393.2" y2="401.2" stroke="#2a5193" stroke-width="0.9"/>
<line x1="391.4" y1="397.2" x2="395" y2="397.2" stroke="#2a5193" stroke-width="0.9"/>
<line x1="391.4" y1="401.2" x2="395" y2="401.2" stroke="#2a5193" stroke-width="0.9"/>
<circle cx="392.36" cy="400.57" r="0.7" fill="#2a5193"/>
<circle cx="394.09" cy="397.86" r="0.7" fill="#2a5193"/>
<circle cx="393.2" cy="400.83" r="0.7" fill="#2a5193"/>
<rect x="399.7" y="398.5" width="9" height="12.8" fill="#e8887a"/>
<line x1="404.2" y1="397.9" x2="404.2" y2="399.1" stroke="#c8283a" stroke-width="0.9"/>
<line x1="402.4" y1="397.9" x2="406" y2="397.9" stroke="#c8283a" stroke-width="0.9"/>
<line x1="402.4" y1="399.1" x2="406" y2="399.1" stroke="#c8283a" stroke-width="0.9"/>
<circle cx="405.71" cy="398.34" r="0.7" fill="#c8283a"/>
<circle cx="403.64" cy="398.61" r="0.7" fill="#c8283a"/>
<circle cx="404.39" cy="398.06" r="0.7" fill="#c8283a"/>
<rect x="417.1" y="381.5" width="9" height="29.8" fill="#8499c2"/>
<line x1="421.6" y1="372.3" x2="421.6" y2="387.1" stroke="#2a5193" stroke-width="0.9"/>
<line x1="419.8" y1="372.3" x2="423.4" y2="372.3" stroke="#2a5193" stroke-width="0.9"/>
<line x1="419.8" y1="387.1" x2="423.4" y2="387.1" stroke="#2a5193" stroke-width="0.9"/>
<circle cx="420.06" cy="374.41" r="0.7" fill="#2a5193"/>
<circle cx="420.01" cy="382.21" r="0.7" fill="#2a5193"/>
<circle cx="421.96" cy="377.19" r="0.7" fill="#2a5193"/>
<rect x="428.1" y="389.1" width="9" height="22.2" fill="#e8887a"/>
<line x1="432.6" y1="385.1" x2="432.6" y2="393.1" stroke="#c8283a" stroke-width="0.9"/>
<line x1="430.8" y1="385.1" x2="434.4" y2="385.1" stroke="#c8283a" stroke-width="0.9"/>
<line x1="430.8" y1="393.1" x2="434.4" y2="393.1" stroke="#c8283a" stroke-width="0.9"/>
<circle cx="431.56" cy="385.31" r="0.7" fill="#c8283a"/>
<circle cx="434.16" cy="391.99" r="0.7" fill="#c8283a"/>
<circle cx="433.57" cy="392.02" r="0.7" fill="#c8283a"/>
<rect x="445.5" y="378" width="9" height="33.3" fill="#8499c2"/>
<line x1="450" y1="369.3" x2="450" y2="386.4" stroke="#2a5193" stroke-width="0.9"/>
<line x1="448.2" y1="369.3" x2="451.8" y2="369.3" stroke="#2a5193" stroke-width="0.9"/>
<line x1="448.2" y1="386.4" x2="451.8" y2="386.4" stroke="#2a5193" stroke-width="0.9"/>
<circle cx="450.61" cy="381.36" r="0.7" fill="#2a5193"/>
<circle cx="449.95" cy="375.01" r="0.7" fill="#2a5193"/>
<circle cx="450.7" cy="381.27" r="0.7" fill="#2a5193"/>
<rect x="456.5" y="387.1" width="9" height="24.2" fill="#e8887a"/>
<line x1="461" y1="382.4" x2="461" y2="391.8" stroke="#c8283a" stroke-width="0.9"/>
<line x1="459.2" y1="382.4" x2="462.8" y2="382.4" stroke="#c8283a" stroke-width="0.9"/>
<line x1="459.2" y1="391.8" x2="462.8" y2="391.8" stroke="#c8283a" stroke-width="0.9"/>
<circle cx="460" cy="384.07" r="0.7" fill="#c8283a"/>
<circle cx="462.05" cy="389.77" r="0.7" fill="#c8283a"/>
<circle cx="461.07" cy="389.18" r="0.7" fill="#c8283a"/>
<rect x="473.9" y="377" width="9" height="34.3" fill="#8499c2"/>
<line x1="478.4" y1="368.3" x2="478.4" y2="385.1" stroke="#2a5193" stroke-width="0.9"/>
<line x1="476.6" y1="368.3" x2="480.2" y2="368.3" stroke="#2a5193" stroke-width="0.9"/>
<line x1="476.6" y1="385.1" x2="480.2" y2="385.1" stroke="#2a5193" stroke-width="0.9"/>
<circle cx="479.22" cy="371.16" r="0.7" fill="#2a5193"/>
<circle cx="479.37" cy="370.72" r="0.7" fill="#2a5193"/>
<circle cx="479.61" cy="382.29" r="0.7" fill="#2a5193"/>
<rect x="484.9" y="386" width="9" height="25.3" fill="#e8887a"/>
<line x1="489.4" y1="379.3" x2="489.4" y2="391.8" stroke="#c8283a" stroke-width="0.9"/>
<line x1="487.6" y1="379.3" x2="491.2" y2="379.3" stroke="#c8283a" stroke-width="0.9"/>
<line x1="487.6" y1="391.8" x2="491.2" y2="391.8" stroke="#c8283a" stroke-width="0.9"/>
<circle cx="489" cy="390.53" r="0.7" fill="#c8283a"/>
<circle cx="490.38" cy="383.92" r="0.7" fill="#c8283a"/>
<circle cx="490.04" cy="383.18" r="0.7" fill="#c8283a"/>
<text x="393.2" y="394.5" font-size="6.2" text-anchor="middle" fill="#333" stroke="#333" stroke-width="0.14">n = 7</text>
<text x="403.9" y="388.5" font-size="6.2" text-anchor="middle" fill="#333" stroke="#333" stroke-width="0.14">n = 7</text>
<text x="421.4" y="370.3" font-size="6.2" text-anchor="middle" fill="#333" stroke="#333" stroke-width="0.14">n = 7</text>
<text x="432.2" y="379" font-size="6.2" text-anchor="middle" fill="#333" stroke="#333" stroke-width="0.14">n = 7</text>
<circle cx="432.6" cy="382.35" r="0.65" fill="#c8283a"/>
<text x="450" y="362.6" font-size="6.2" text-anchor="middle" fill="#333" stroke="#333" stroke-width="0.14">n = 7</text>
<circle cx="450" cy="366.25" r="0.65" fill="#2a5193"/>
<text x="460.9" y="373.9" font-size="6.2" text-anchor="middle" fill="#333" stroke="#333" stroke-width="0.14">n = 7</text>
<circle cx="461" cy="378.45" r="0.65" fill="#c8283a"/>
<text x="478.2" y="360.2" font-size="6.2" text-anchor="middle" fill="#333" stroke="#333" stroke-width="0.14">n = 7</text>
<circle cx="478.4" cy="364.55" r="0.65" fill="#2a5193"/>
<text x="488.9" y="370.7" font-size="6.2" text-anchor="middle" fill="#333" stroke="#333" stroke-width="0.14">n = 7</text>
<circle cx="489.4" cy="375.3" r="0.65" fill="#c8283a"/>
<text x="404" y="396.6" font-size="6.1" text-anchor="middle" fill="#333" stroke="#333" stroke-width="0.14">ns</text>
<line x1="383.6" y1="352.6" x2="383.6" y2="411.8" stroke="#2b2b2b" stroke-width="1.15"/>
<line x1="383.1" y1="411.3" x2="498.6" y2="411.3" stroke="#2b2b2b" stroke-width="1.1"/>
<line x1="381.3" y1="355.2" x2="383.6" y2="355.2" stroke="#2b2b2b" stroke-width="0.9"/>
<text x="377.7" y="357.2" font-size="6" text-anchor="end" fill="#2a2a2a" stroke="#2a2a2a" stroke-width="0.14" letter-spacing="0.2">800</text>
<line x1="381.3" y1="369.2" x2="383.6" y2="369.2" stroke="#2b2b2b" stroke-width="0.9"/>
<text x="377.7" y="371.2" font-size="6" text-anchor="end" fill="#2a2a2a" stroke="#2a2a2a" stroke-width="0.14" letter-spacing="0.2">600</text>
<line x1="381.3" y1="383.3" x2="383.6" y2="383.3" stroke="#2b2b2b" stroke-width="0.9"/>
<text x="377.7" y="385.3" font-size="6" text-anchor="end" fill="#2a2a2a" stroke="#2a2a2a" stroke-width="0.14" letter-spacing="0.2">400</text>
<line x1="381.3" y1="397.2" x2="383.6" y2="397.2" stroke="#2b2b2b" stroke-width="0.9"/>
<text x="377.7" y="399.2" font-size="6" text-anchor="end" fill="#2a2a2a" stroke="#2a2a2a" stroke-width="0.14" letter-spacing="0.2">200</text>
<line x1="381.3" y1="411.3" x2="383.6" y2="411.3" stroke="#2b2b2b" stroke-width="0.9"/>
<text x="377.7" y="413.3" font-size="6" text-anchor="end" fill="#2a2a2a" stroke="#2a2a2a" stroke-width="0.14" letter-spacing="0.2">0</text>
<line x1="398.7" y1="411.3" x2="398.7" y2="413.5" stroke="#2b2b2b" stroke-width="0.9"/>
<line x1="427.1" y1="411.3" x2="427.1" y2="413.5" stroke="#2b2b2b" stroke-width="0.9"/>
<line x1="455.5" y1="411.3" x2="455.5" y2="413.5" stroke="#2b2b2b" stroke-width="0.9"/>
<line x1="483.9" y1="411.3" x2="483.9" y2="413.5" stroke="#2b2b2b" stroke-width="0.9"/>
<text x="398.7" y="422.3" font-size="5.9" text-anchor="middle" fill="#2a2a2a" stroke="#2a2a2a" stroke-width="0.14">0</text>
<text x="427.1" y="422.3" font-size="5.9" text-anchor="middle" fill="#2a2a2a" stroke="#2a2a2a" stroke-width="0.14">2</text>
<text x="455.5" y="422.3" font-size="5.9" text-anchor="middle" fill="#2a2a2a" stroke="#2a2a2a" stroke-width="0.14">4</text>
<text x="483.9" y="422.3" font-size="5.9" text-anchor="middle" fill="#2a2a2a" stroke="#2a2a2a" stroke-width="0.14">8</text>
<text x="494" y="422.3" font-size="5.8" text-anchor="start" fill="#2a2a2a" stroke="#2a2a2a" stroke-width="0.14">(μg/mL)</text>
<line x1="389.8" y1="426.9" x2="493.2" y2="426.9" stroke="#444" stroke-width="1.1"/>
<text x="441.2" y="436.9" font-size="8.6" text-anchor="middle" fill="#222" font-weight="bold" textLength="21" lengthAdjust="spacingAndGlyphs">Collagen</text>
<text x="0" y="0" font-size="7.0" font-weight="bold" text-anchor="middle" fill="#222" textLength="33" lengthAdjust="spacingAndGlyphs" transform="translate(361.3,381.1) rotate(-90)">F-actin (MFI)</text>
<line x1="403.5" y1="467.3" x2="403.5" y2="524" stroke="#333" stroke-width="0.9" stroke-dasharray="1,0.8"/>
<line x1="432.3" y1="467.3" x2="432.3" y2="524" stroke="#333" stroke-width="0.9" stroke-dasharray="1,0.8"/>
<line x1="461.6" y1="467.3" x2="461.6" y2="524" stroke="#333" stroke-width="0.9" stroke-dasharray="1,0.8"/>
<rect x="378.9" y="511.7" width="9.5" height="12.3" fill="#8499c2"/>
<line x1="383.65" y1="509.4" x2="383.65" y2="514" stroke="#2a5193" stroke-width="0.9"/>
<line x1="381.85" y1="509.4" x2="385.45" y2="509.4" stroke="#2a5193" stroke-width="0.9"/>
<line x1="381.85" y1="514" x2="385.45" y2="514" stroke="#2a5193" stroke-width="0.9"/>
<circle cx="383.97" cy="510.84" r="0.7" fill="#2a5193"/>
<circle cx="384.92" cy="512.67" r="0.7" fill="#2a5193"/>
<circle cx="382.86" cy="509.55" r="0.7" fill="#2a5193"/>
<rect x="390.4" y="511.7" width="9.5" height="12.3" fill="#e8887a"/>
<line x1="395.15" y1="508.9" x2="395.15" y2="514.5" stroke="#c8283a" stroke-width="0.9"/>
<line x1="393.35" y1="508.9" x2="396.95" y2="508.9" stroke="#c8283a" stroke-width="0.9"/>
<line x1="393.35" y1="514.5" x2="396.95" y2="514.5" stroke="#c8283a" stroke-width="0.9"/>
<circle cx="394.04" cy="512.84" r="0.7" fill="#c8283a"/>
<circle cx="396.27" cy="509.36" r="0.7" fill="#c8283a"/>
<circle cx="395.22" cy="513.59" r="0.7" fill="#c8283a"/>
<rect x="407.9" y="495.8" width="9.5" height="28.2" fill="#8499c2"/>
<line x1="412.65" y1="486.1" x2="412.65" y2="505.2" stroke="#2a5193" stroke-width="0.9"/>
<line x1="410.85" y1="486.1" x2="414.45" y2="486.1" stroke="#2a5193" stroke-width="0.9"/>
<line x1="410.85" y1="505.2" x2="414.45" y2="505.2" stroke="#2a5193" stroke-width="0.9"/>
<circle cx="411.28" cy="498.21" r="0.7" fill="#2a5193"/>
<circle cx="412.63" cy="494.35" r="0.7" fill="#2a5193"/>
<circle cx="413.75" cy="492.35" r="0.7" fill="#2a5193"/>
<rect x="419.4" y="504.9" width="9.5" height="19.1" fill="#e8887a"/>
<line x1="424.15" y1="497.1" x2="424.15" y2="512.7" stroke="#c8283a" stroke-width="0.9"/>
<line x1="422.35" y1="497.1" x2="425.95" y2="497.1" stroke="#c8283a" stroke-width="0.9"/>
<line x1="422.35" y1="512.7" x2="425.95" y2="512.7" stroke="#c8283a" stroke-width="0.9"/>
<circle cx="425.17" cy="506.69" r="0.7" fill="#c8283a"/>
<circle cx="424.3" cy="511.86" r="0.7" fill="#c8283a"/>
<circle cx="424.52" cy="503.38" r="0.7" fill="#c8283a"/>
<rect x="436.9" y="493.1" width="9.5" height="30.9" fill="#8499c2"/>
<line x1="441.65" y1="485.3" x2="441.65" y2="500.1" stroke="#2a5193" stroke-width="0.9"/>
<line x1="439.85" y1="485.3" x2="443.45" y2="485.3" stroke="#2a5193" stroke-width="0.9"/>
<line x1="439.85" y1="500.1" x2="443.45" y2="500.1" stroke="#2a5193" stroke-width="0.9"/>
<circle cx="442.14" cy="487.14" r="0.7" fill="#2a5193"/>
<circle cx="441.76" cy="497.37" r="0.7" fill="#2a5193"/>
<circle cx="441.34" cy="489.18" r="0.7" fill="#2a5193"/>
<rect x="448.4" y="503.2" width="9.5" height="20.8" fill="#e8887a"/>
<line x1="453.15" y1="493.7" x2="453.15" y2="512.7" stroke="#c8283a" stroke-width="0.9"/>
<line x1="451.35" y1="493.7" x2="454.95" y2="493.7" stroke="#c8283a" stroke-width="0.9"/>
<line x1="451.35" y1="512.7" x2="454.95" y2="512.7" stroke="#c8283a" stroke-width="0.9"/>
<circle cx="452.25" cy="498.86" r="0.7" fill="#c8283a"/>
<circle cx="454.65" cy="502.46" r="0.7" fill="#c8283a"/>
<circle cx="453.87" cy="503.92" r="0.7" fill="#c8283a"/>
<rect x="465.9" y="493.8" width="9.5" height="30.2" fill="#8499c2"/>
<line x1="470.65" y1="479.6" x2="470.65" y2="506.5" stroke="#2a5193" stroke-width="0.9"/>
<line x1="468.85" y1="479.6" x2="472.45" y2="479.6" stroke="#2a5193" stroke-width="0.9"/>
<line x1="468.85" y1="506.5" x2="472.45" y2="506.5" stroke="#2a5193" stroke-width="0.9"/>
<circle cx="471.01" cy="499.81" r="0.7" fill="#2a5193"/>
<circle cx="470.61" cy="480.99" r="0.7" fill="#2a5193"/>
<circle cx="471.02" cy="503.98" r="0.7" fill="#2a5193"/>
<rect x="477.4" y="500.7" width="9.5" height="23.3" fill="#e8887a"/>
<line x1="482.15" y1="492" x2="482.15" y2="509.2" stroke="#c8283a" stroke-width="0.9"/>
<line x1="480.35" y1="492" x2="483.95" y2="492" stroke="#c8283a" stroke-width="0.9"/>
<line x1="480.35" y1="509.2" x2="483.95" y2="509.2" stroke="#c8283a" stroke-width="0.9"/>
<circle cx="482.47" cy="499.82" r="0.7" fill="#c8283a"/>
<circle cx="482.15" cy="492.76" r="0.7" fill="#c8283a"/>
<circle cx="482.11" cy="500.02" r="0.7" fill="#c8283a"/>
<text x="383.4" y="507.8" font-size="6.2" text-anchor="middle" fill="#333" stroke="#333" stroke-width="0.14">n = 4</text>
<text x="395.1" y="496.6" font-size="6.2" text-anchor="middle" fill="#333" stroke="#333" stroke-width="0.14">n = 4</text>
<text x="412.8" y="476.2" font-size="6.2" text-anchor="middle" fill="#333" stroke="#333" stroke-width="0.14">n = 8</text>
<circle cx="412.65" cy="481.45" r="0.65" fill="#2a5193"/>
<text x="424.1" y="489" font-size="6.2" text-anchor="middle" fill="#333" stroke="#333" stroke-width="0.14">n = 8</text>
<text x="442" y="478.3" font-size="6.2" text-anchor="middle" fill="#333" stroke="#333" stroke-width="0.14">n = 8</text>
<circle cx="441.65" cy="482.1" r="0.65" fill="#2a5193"/>
<text x="453.2" y="485" font-size="6.2" text-anchor="middle" fill="#333" stroke="#333" stroke-width="0.14">n = 8</text>
<text x="470.9" y="475" font-size="6.2" text-anchor="middle" fill="#333" stroke="#333" stroke-width="0.14">n = 8</text>
<circle cx="470.65" cy="477.6" r="0.65" fill="#2a5193"/>
<text x="481.9" y="482" font-size="6.2" text-anchor="middle" fill="#333" stroke="#333" stroke-width="0.14">n = 8</text>
<circle cx="482.15" cy="487.3" r="0.65" fill="#c8283a"/>
<text x="395" y="502.6" font-size="6.1" text-anchor="middle" fill="#333" stroke="#333" stroke-width="0.14">ns</text>
<text x="424" y="495.8" font-size="6.4" text-anchor="middle" fill="#333" stroke="#333" stroke-width="0.14">**</text>
<text x="453" y="492.4" font-size="6.4" text-anchor="middle" fill="#333" stroke="#333" stroke-width="0.14">***</text>
<line x1="374.3" y1="465.2" x2="374.3" y2="524.5" stroke="#2b2b2b" stroke-width="1.15"/>
<line x1="373.8" y1="524" x2="491.9" y2="524" stroke="#2b2b2b" stroke-width="1.1"/>
<line x1="372" y1="467.8" x2="374.3" y2="467.8" stroke="#2b2b2b" stroke-width="0.9"/>
<text x="368.4" y="469.8" font-size="6" text-anchor="end" fill="#2a2a2a" stroke="#2a2a2a" stroke-width="0.14" letter-spacing="0.2">6000</text>
<line x1="372" y1="486.5" x2="374.3" y2="486.5" stroke="#2b2b2b" stroke-width="0.9"/>
<text x="368.4" y="488.5" font-size="6" text-anchor="end" fill="#2a2a2a" stroke="#2a2a2a" stroke-width="0.14" letter-spacing="0.2">4000</text>
<line x1="372" y1="505.2" x2="374.3" y2="505.2" stroke="#2b2b2b" stroke-width="0.9"/>
<text x="368.4" y="507.2" font-size="6" text-anchor="end" fill="#2a2a2a" stroke="#2a2a2a" stroke-width="0.14" letter-spacing="0.2">2000</text>
<line x1="372" y1="524" x2="374.3" y2="524" stroke="#2b2b2b" stroke-width="0.9"/>
<text x="368.4" y="526" font-size="6" text-anchor="end" fill="#2a2a2a" stroke="#2a2a2a" stroke-width="0.14" letter-spacing="0.2">0</text>
<line x1="389.4" y1="524" x2="389.4" y2="526.2" stroke="#2b2b2b" stroke-width="0.9"/>
<line x1="418.4" y1="524" x2="418.4" y2="526.2" stroke="#2b2b2b" stroke-width="0.9"/>
<line x1="447.4" y1="524" x2="447.4" y2="526.2" stroke="#2b2b2b" stroke-width="0.9"/>
<line x1="476.4" y1="524" x2="476.4" y2="526.2" stroke="#2b2b2b" stroke-width="0.9"/>
<text x="389.4" y="535" font-size="5.9" text-anchor="middle" fill="#2a2a2a" stroke="#2a2a2a" stroke-width="0.14">0</text>
<text x="418.4" y="535" font-size="5.9" text-anchor="middle" fill="#2a2a2a" stroke="#2a2a2a" stroke-width="0.14">0.025</text>
<text x="447.4" y="535" font-size="5.9" text-anchor="middle" fill="#2a2a2a" stroke="#2a2a2a" stroke-width="0.14">0.05</text>
<text x="476.4" y="535" font-size="5.9" text-anchor="middle" fill="#2a2a2a" stroke="#2a2a2a" stroke-width="0.14">0.1</text>
<text x="492.4" y="535" font-size="5.8" text-anchor="start" fill="#2a2a2a" stroke="#2a2a2a" stroke-width="0.14">(U/mL)</text>
<line x1="374.3" y1="539.6" x2="489.8" y2="539.6" stroke="#444" stroke-width="1.1"/>
<text x="433.7" y="549.6" font-size="8.6" text-anchor="middle" fill="#222" font-weight="bold" textLength="23.5" lengthAdjust="spacingAndGlyphs">Thrombin</text>
<text x="0" y="0" font-size="7.0" font-weight="bold" text-anchor="middle" fill="#222" textLength="26" lengthAdjust="spacingAndGlyphs" transform="translate(348.5,495) rotate(-90)">ROS (MFI)</text>
<text x="329" y="457" font-size="11" text-anchor="start" fill="#111" font-weight="bold" textLength="10.4" lengthAdjust="spacingAndGlyphs">M</text>
<line x1="403.7" y1="562.2" x2="403.7" y2="619.3" stroke="#333" stroke-width="0.9" stroke-dasharray="1,0.8"/>
<line x1="432.6" y1="562.2" x2="432.6" y2="619.3" stroke="#333" stroke-width="0.9" stroke-dasharray="1,0.8"/>
<line x1="461.9" y1="562.2" x2="461.9" y2="619.3" stroke="#333" stroke-width="0.9" stroke-dasharray="1,0.8"/>
<rect x="378.9" y="613.8" width="9.5" height="5.5" fill="#8499c2"/>
<line x1="383.65" y1="611.9" x2="383.65" y2="615.7" stroke="#2a5193" stroke-width="0.9"/>
<line x1="381.85" y1="611.9" x2="385.45" y2="611.9" stroke="#2a5193" stroke-width="0.9"/>
<line x1="381.85" y1="615.7" x2="385.45" y2="615.7" stroke="#2a5193" stroke-width="0.9"/>
<circle cx="383.97" cy="613.09" r="0.7" fill="#2a5193"/>
<circle cx="384.92" cy="614.6" r="0.7" fill="#2a5193"/>
<circle cx="382.86" cy="612.03" r="0.7" fill="#2a5193"/>
<rect x="390.4" y="613.2" width="9.5" height="6.1" fill="#e8887a"/>
<line x1="395.15" y1="610.4" x2="395.15" y2="616" stroke="#c8283a" stroke-width="0.9"/>
<line x1="393.35" y1="610.4" x2="396.95" y2="610.4" stroke="#c8283a" stroke-width="0.9"/>
<line x1="393.35" y1="616" x2="396.95" y2="616" stroke="#c8283a" stroke-width="0.9"/>
<circle cx="394.04" cy="614.34" r="0.7" fill="#c8283a"/>
<circle cx="396.27" cy="610.86" r="0.7" fill="#c8283a"/>
<circle cx="395.22" cy="615.09" r="0.7" fill="#c8283a"/>
<rect x="407.9" y="597.8" width="9.5" height="21.5" fill="#8499c2"/>
<line x1="412.65" y1="587.3" x2="412.65" y2="608.8" stroke="#2a5193" stroke-width="0.9"/>
<line x1="410.85" y1="587.3" x2="414.45" y2="587.3" stroke="#2a5193" stroke-width="0.9"/>
<line x1="410.85" y1="608.8" x2="414.45" y2="608.8" stroke="#2a5193" stroke-width="0.9"/>
<circle cx="411.28" cy="600.93" r="0.7" fill="#2a5193"/>
<circle cx="412.63" cy="596.59" r="0.7" fill="#2a5193"/>
<circle cx="413.75" cy="594.34" r="0.7" fill="#2a5193"/>
<rect x="419.4" y="602.1" width="9.5" height="17.2" fill="#e8887a"/>
<line x1="424.15" y1="597.8" x2="424.15" y2="606.8" stroke="#c8283a" stroke-width="0.9"/>
<line x1="422.35" y1="597.8" x2="425.95" y2="597.8" stroke="#c8283a" stroke-width="0.9"/>
<line x1="422.35" y1="606.8" x2="425.95" y2="606.8" stroke="#c8283a" stroke-width="0.9"/>
<circle cx="425.17" cy="603.33" r="0.7" fill="#c8283a"/>
<circle cx="424.3" cy="606.32" r="0.7" fill="#c8283a"/>
<circle cx="424.52" cy="601.42" r="0.7" fill="#c8283a"/>
<rect x="436.9" y="588.4" width="9.5" height="30.9" fill="#8499c2"/>
<line x1="441.65" y1="580.8" x2="441.65" y2="596" stroke="#2a5193" stroke-width="0.9"/>
<line x1="439.85" y1="580.8" x2="443.45" y2="580.8" stroke="#2a5193" stroke-width="0.9"/>
<line x1="439.85" y1="596" x2="443.45" y2="596" stroke="#2a5193" stroke-width="0.9"/>
<circle cx="442.14" cy="582.69" r="0.7" fill="#2a5193"/>
<circle cx="441.76" cy="593.19" r="0.7" fill="#2a5193"/>
<circle cx="441.34" cy="584.79" r="0.7" fill="#2a5193"/>
<rect x="448.4" y="599.1" width="9.5" height="20.2" fill="#e8887a"/>
<line x1="453.15" y1="593.4" x2="453.15" y2="606.8" stroke="#c8283a" stroke-width="0.9"/>
<line x1="451.35" y1="593.4" x2="454.95" y2="593.4" stroke="#c8283a" stroke-width="0.9"/>
<line x1="451.35" y1="606.8" x2="454.95" y2="606.8" stroke="#c8283a" stroke-width="0.9"/>
<circle cx="452.25" cy="597.04" r="0.7" fill="#c8283a"/>
<circle cx="454.65" cy="599.58" r="0.7" fill="#c8283a"/>
<circle cx="453.87" cy="600.61" r="0.7" fill="#c8283a"/>
<rect x="465.9" y="584.3" width="9.5" height="35" fill="#8499c2"/>
<line x1="470.65" y1="576.3" x2="470.65" y2="592.5" stroke="#2a5193" stroke-width="0.9"/>
<line x1="468.85" y1="576.3" x2="472.45" y2="576.3" stroke="#2a5193" stroke-width="0.9"/>
<line x1="468.85" y1="592.5" x2="472.45" y2="592.5" stroke="#2a5193" stroke-width="0.9"/>
<circle cx="471.01" cy="588.47" r="0.7" fill="#2a5193"/>
<circle cx="470.61" cy="577.14" r="0.7" fill="#2a5193"/>
<circle cx="471.02" cy="590.98" r="0.7" fill="#2a5193"/>
<rect x="477.4" y="592.5" width="9.5" height="26.8" fill="#e8887a"/>
<line x1="482.15" y1="583.8" x2="482.15" y2="600.8" stroke="#c8283a" stroke-width="0.9"/>
<line x1="480.35" y1="583.8" x2="483.95" y2="583.8" stroke="#c8283a" stroke-width="0.9"/>
<line x1="480.35" y1="600.8" x2="483.95" y2="600.8" stroke="#c8283a" stroke-width="0.9"/>
<circle cx="482.47" cy="591.53" r="0.7" fill="#c8283a"/>
<circle cx="482.15" cy="584.56" r="0.7" fill="#c8283a"/>
<circle cx="482.11" cy="591.73" r="0.7" fill="#c8283a"/>
<text x="383.6" y="610.1" font-size="6.2" text-anchor="middle" fill="#333" stroke="#333" stroke-width="0.14">n = 4</text>
<text x="394.8" y="599.6" font-size="6.2" text-anchor="middle" fill="#333" stroke="#333" stroke-width="0.14">n = 4</text>
<text x="413.1" y="581.6" font-size="6.2" text-anchor="middle" fill="#333" stroke="#333" stroke-width="0.14">n = 9</text>
<circle cx="412.65" cy="584.75" r="0.65" fill="#2a5193"/>
<text x="423.7" y="591.6" font-size="6.2" text-anchor="middle" fill="#333" stroke="#333" stroke-width="0.14">n = 9</text>
<circle cx="424.15" cy="595" r="0.65" fill="#c8283a"/>
<text x="441.6" y="575.2" font-size="6.2" text-anchor="middle" fill="#333" stroke="#333" stroke-width="0.14">n = 7</text>
<circle cx="441.65" cy="578.3" r="0.65" fill="#2a5193"/>
<text x="452.6" y="584.9" font-size="6.2" text-anchor="middle" fill="#333" stroke="#333" stroke-width="0.14">n = 7</text>
<text x="470.7" y="570.3" font-size="6.2" text-anchor="middle" fill="#333" stroke="#333" stroke-width="0.14">n = 7</text>
<circle cx="470.65" cy="573.6" r="0.65" fill="#2a5193"/>
<text x="481.8" y="576.3" font-size="6.2" text-anchor="middle" fill="#333" stroke="#333" stroke-width="0.14">n = 7</text>
<circle cx="482.15" cy="580.35" r="0.65" fill="#c8283a"/>
<text x="395" y="606.6" font-size="6.1" text-anchor="middle" fill="#333" stroke="#333" stroke-width="0.14">ns</text>
<text x="453" y="591.2" font-size="6.4" text-anchor="middle" fill="#333" stroke="#333" stroke-width="0.14">***</text>
<line x1="374.3" y1="560.1" x2="374.3" y2="619.8" stroke="#2b2b2b" stroke-width="1.15"/>
<line x1="373.8" y1="619.3" x2="491.9" y2="619.3" stroke="#2b2b2b" stroke-width="1.1"/>
<line x1="372" y1="562.7" x2="374.3" y2="562.7" stroke="#2b2b2b" stroke-width="0.9"/>
<text x="368.4" y="564.7" font-size="6" text-anchor="end" fill="#2a2a2a" stroke="#2a2a2a" stroke-width="0.14" letter-spacing="0.2">12000</text>
<line x1="372" y1="581.6" x2="374.3" y2="581.6" stroke="#2b2b2b" stroke-width="0.9"/>
<text x="368.4" y="583.6" font-size="6" text-anchor="end" fill="#2a2a2a" stroke="#2a2a2a" stroke-width="0.14" letter-spacing="0.2">8000</text>
<line x1="372" y1="600.5" x2="374.3" y2="600.5" stroke="#2b2b2b" stroke-width="0.9"/>
<text x="368.4" y="602.5" font-size="6" text-anchor="end" fill="#2a2a2a" stroke="#2a2a2a" stroke-width="0.14" letter-spacing="0.2">4000</text>
<line x1="372" y1="619.3" x2="374.3" y2="619.3" stroke="#2b2b2b" stroke-width="0.9"/>
<text x="368.4" y="621.3" font-size="6" text-anchor="end" fill="#2a2a2a" stroke="#2a2a2a" stroke-width="0.14" letter-spacing="0.2">0</text>
<line x1="389.4" y1="619.3" x2="389.4" y2="621.5" stroke="#2b2b2b" stroke-width="0.9"/>
<line x1="418.4" y1="619.3" x2="418.4" y2="621.5" stroke="#2b2b2b" stroke-width="0.9"/>
<line x1="447.4" y1="619.3" x2="447.4" y2="621.5" stroke="#2b2b2b" stroke-width="0.9"/>
<line x1="476.4" y1="619.3" x2="476.4" y2="621.5" stroke="#2b2b2b" stroke-width="0.9"/>
<text x="389.4" y="630.3" font-size="5.9" text-anchor="middle" fill="#2a2a2a" stroke="#2a2a2a" stroke-width="0.14">0</text>
<text x="418.4" y="630.3" font-size="5.9" text-anchor="middle" fill="#2a2a2a" stroke="#2a2a2a" stroke-width="0.14">2</text>
<text x="447.4" y="630.3" font-size="5.9" text-anchor="middle" fill="#2a2a2a" stroke="#2a2a2a" stroke-width="0.14">4</text>
<text x="476.4" y="630.3" font-size="5.9" text-anchor="middle" fill="#2a2a2a" stroke="#2a2a2a" stroke-width="0.14">8</text>
<text x="492.4" y="630.3" font-size="5.8" text-anchor="start" fill="#2a2a2a" stroke="#2a2a2a" stroke-width="0.14">(μg/mL)</text>
<line x1="374.3" y1="634.9" x2="491.8" y2="634.9" stroke="#444" stroke-width="1.1"/>
<text x="433.2" y="644.9" font-size="8.6" text-anchor="middle" fill="#222" font-weight="bold" textLength="21" lengthAdjust="spacingAndGlyphs">Collagen</text>
<text x="0" y="0" font-size="7.0" font-weight="bold" text-anchor="middle" fill="#222" textLength="26" lengthAdjust="spacingAndGlyphs" transform="translate(345.5,590) rotate(-90)">ROS (MFI)</text>
<rect x="43.9" y="10.1" width="5.1" height="4.9" fill="#1f4e8c"/>
<text x="52.6" y="14.9" font-size="6.4" text-anchor="start" fill="#2a2a2a" stroke="#2a2a2a" stroke-width="0.14" font-style="italic" textLength="14.2" lengthAdjust="spacingAndGlyphs">Actn1</text>
<text x="68" y="12" font-size="3.8" text-anchor="start" fill="#555" stroke="#555" stroke-width="0.14" font-style="italic" textLength="4.4" lengthAdjust="spacingAndGlyphs">fl/fl</text>
<rect x="80" y="10.1" width="5.3" height="4.9" fill="#c8102e"/>
<text x="88.6" y="14.9" font-size="6.4" text-anchor="start" fill="#2a2a2a" stroke="#2a2a2a" stroke-width="0.14" textLength="26.4" lengthAdjust="spacingAndGlyphs">PF4-Actn1</text>
<text x="116.2" y="12" font-size="3.8" text-anchor="start" fill="#555" stroke="#555" stroke-width="0.14" textLength="5.4" lengthAdjust="spacingAndGlyphs">−/−</text>
<rect x="383.5" y="119.3" width="5.1" height="4.9" fill="#1f4e8c"/>
<text x="392.2" y="124.1" font-size="6.4" text-anchor="start" fill="#2a2a2a" stroke="#2a2a2a" stroke-width="0.14" font-style="italic" textLength="14.2" lengthAdjust="spacingAndGlyphs">Actn1</text>
<text x="407.6" y="121.2" font-size="3.8" text-anchor="start" fill="#555" stroke="#555" stroke-width="0.14" font-style="italic" textLength="4.4" lengthAdjust="spacingAndGlyphs">fl/fl</text>
<rect x="419.6" y="119.3" width="5.3" height="4.9" fill="#c8102e"/>
<text x="428.2" y="124.1" font-size="6.4" text-anchor="start" fill="#2a2a2a" stroke="#2a2a2a" stroke-width="0.14" textLength="26.4" lengthAdjust="spacingAndGlyphs">PF4-Actn1</text>
<text x="455.8" y="121.2" font-size="3.8" text-anchor="start" fill="#555" stroke="#555" stroke-width="0.14" textLength="5.4" lengthAdjust="spacingAndGlyphs">−/−</text>
<rect x="214.1" y="339.3" width="5.1" height="4.9" fill="#1f4e8c"/>
<text x="222.8" y="344.1" font-size="6.4" text-anchor="start" fill="#2a2a2a" stroke="#2a2a2a" stroke-width="0.14" font-style="italic" textLength="14.2" lengthAdjust="spacingAndGlyphs">Actn1</text>
<text x="238.2" y="341.2" font-size="3.8" text-anchor="start" fill="#555" stroke="#555" stroke-width="0.14" font-style="italic" textLength="4.4" lengthAdjust="spacingAndGlyphs">fl/fl</text>
<rect x="250.2" y="339.3" width="5.3" height="4.9" fill="#c8102e"/>
<text x="258.8" y="344.1" font-size="6.4" text-anchor="start" fill="#2a2a2a" stroke="#2a2a2a" stroke-width="0.14" textLength="26.4" lengthAdjust="spacingAndGlyphs">PF4-Actn1</text>
<text x="286.4" y="341.2" font-size="3.8" text-anchor="start" fill="#555" stroke="#555" stroke-width="0.14" textLength="5.4" lengthAdjust="spacingAndGlyphs">−/−</text>
<rect x="394.1" y="456.2" width="5.1" height="4.9" fill="#1f4e8c"/>
<text x="402.8" y="461" font-size="6.4" text-anchor="start" fill="#2a2a2a" stroke="#2a2a2a" stroke-width="0.14" font-style="italic" textLength="14.2" lengthAdjust="spacingAndGlyphs">Actn1</text>
<text x="418.2" y="458.1" font-size="3.8" text-anchor="start" fill="#555" stroke="#555" stroke-width="0.14" font-style="italic" textLength="4.4" lengthAdjust="spacingAndGlyphs">fl/fl</text>
<rect x="430.2" y="456.2" width="5.3" height="4.9" fill="#c8102e"/>
<text x="438.8" y="461" font-size="6.4" text-anchor="start" fill="#2a2a2a" stroke="#2a2a2a" stroke-width="0.14" textLength="26.4" lengthAdjust="spacingAndGlyphs">PF4-Actn1</text>
<text x="466.4" y="458.1" font-size="3.8" text-anchor="start" fill="#555" stroke="#555" stroke-width="0.14" textLength="5.4" lengthAdjust="spacingAndGlyphs">−/−</text>
<path d="M41.4,512.97 L42.01,512.51 L42.63,512.2 L43.24,512.61 L43.86,513.65 L44.47,514 L45.08,514.75 L45.7,514.61 L46.31,515.12 L46.93,515.75 L47.54,516.36 L48.15,516.78 L48.77,517.93 L49.38,518.24 L50,519.06 L50.61,518.72 L51.22,520.1 L51.84,519.88 L52.45,521.16" fill="none" stroke="#1d4c82" stroke-width="1.15" stroke-linejoin="round"/>
<path d="M41.4,513.03 L42.01,512.69 L42.63,513.34 L43.24,512.38 L43.86,513.91 L44.47,514.23 L45.08,515.58 L45.7,515.38 L46.31,516.46 L46.93,516.38 L47.54,516.7 L48.15,517.09 L48.77,517.96 L49.38,518 L50,518.22 L50.61,519.73 L51.22,519.97 L51.84,519.83 L52.45,520.43" fill="none" stroke="#cf1540" stroke-width="1.15" stroke-linejoin="round"/>
<path d="M58.59,469.2 L59.21,469.51 L59.82,469.1 L60.43,469.2 L61.05,469.67 L61.66,471.96 L62.28,470.93 L62.89,472.86 L63.5,474.14 L64.12,475.58 L64.73,474.91 L65.35,476.36 L65.96,476.7 L66.57,475.9 L67.19,475.43 L67.8,475.69 L68.42,478.33 L69.03,479.37 L69.64,479.26 L70.26,478.52 L70.87,477.64 L71.49,477.85 L72.1,477.74 L72.71,479.19 L73.33,479.69 L73.94,481.29 L74.56,481.91 L75.17,482.73 L75.78,482.1 L76.4,482 L77.01,482.38 L77.63,483.39 L78.24,483.83 L78.85,484.84 L79.47,483.45 L80.08,484.2 L80.7,484.1 L81.31,484.16 L81.92,486.29 L82.54,487.68 L83.15,487.76 L83.77,485.93 L84.38,486.17 L84.99,487.84 L85.61,487.29 L86.22,489.37 L86.84,488.71 L87.45,491.82 L88.06,490.99 L88.68,490.58 L89.29,493.02 L89.91,494.11 L90.52,496.13 L91.13,496.77 L91.75,497.69 L92.36,498.32 L92.98,499.88 L93.59,499.61 L94.2,500.47 L94.82,499.49 L95.43,499.91 L96.05,500.88 L96.66,498.92 L97.27,500.86 L97.89,500.83 L98.5,499.84 L99.12,500.31 L99.73,499.97 L100.34,501.36 L100.96,501.07 L101.57,504.01 L102.19,502.7 L102.8,503.99 L103.41,504.62 L104.03,503.5 L104.64,503.56 L105.26,505.2 L105.87,505.79 L106.48,506.49 L107.1,504.67 L107.71,505.56" fill="none" stroke="#1d4c82" stroke-width="1.25" stroke-linejoin="round"/>
<path d="M58.59,471.14 L59.21,473.16 L59.82,473.28 L60.43,474.62 L61.05,472.2 L61.66,474.66 L62.28,473.69 L62.89,473.9 L63.5,473.75 L64.12,474.94 L64.73,475.54 L65.35,475.81 L65.96,477.19 L66.57,477.1 L67.19,477.59 L67.8,476.34 L68.42,477.54 L69.03,479.39 L69.64,480.44 L70.26,479.98 L70.87,478.04 L71.49,481.2 L72.1,480.89 L72.71,480.08 L73.33,482.46 L73.94,481.07 L74.56,480.81 L75.17,481.3 L75.78,484.16 L76.4,482.5 L77.01,484.85 L77.63,483.84 L78.24,483.96 L78.85,485.28 L79.47,485.19 L80.08,485.46 L80.7,485.78 L81.31,487.91 L81.92,486.56 L82.54,487.75 L83.15,489.32 L83.77,490.87 L84.38,489.16 L84.99,488.59 L85.61,489.2 L86.22,490.79 L86.84,491.56 L87.45,493.52 L88.06,495.47 L88.68,493.91 L89.29,494.67 L89.91,496.26 L90.52,496.16 L91.13,499.22 L91.75,500.78 L92.36,501.21 L92.98,499.79 L93.59,501.49 L94.2,503.14 L94.82,503.55 L95.43,504.19 L96.05,501.98 L96.66,501.48 L97.27,504.8 L97.89,503.85 L98.5,505.47 L99.12,504 L99.73,505.98 L100.34,505.11 L100.96,507.58 L101.57,506.73 L102.19,507.33 L102.8,508.82 L103.41,506.78 L104.03,508.13 L104.64,507.85 L105.26,509.98 L105.87,510.38 L106.48,508.86 L107.1,510.02 L107.71,509.09" fill="none" stroke="#cf1540" stroke-width="1.25" stroke-linejoin="round"/>
<rect x="41.4" y="466.5" width="66.4" height="66.2" fill="none" stroke="#2b2b2b" stroke-width="1.15"/>
<line x1="39.2" y1="469.3" x2="41.4" y2="469.3" stroke="#2b2b2b" stroke-width="0.9"/>
<text x="35.4" y="471.4" font-size="6" text-anchor="end" fill="#2a2a2a" stroke="#2a2a2a" stroke-width="0.14">50K</text>
<line x1="39.2" y1="487.3" x2="41.4" y2="487.3" stroke="#2b2b2b" stroke-width="0.9"/>
<text x="35.4" y="489.4" font-size="6" text-anchor="end" fill="#2a2a2a" stroke="#2a2a2a" stroke-width="0.14">40K</text>
<line x1="39.2" y1="505.4" x2="41.4" y2="505.4" stroke="#2b2b2b" stroke-width="0.9"/>
<text x="35.4" y="507.5" font-size="6" text-anchor="end" fill="#2a2a2a" stroke="#2a2a2a" stroke-width="0.14">30K</text>
<line x1="39.2" y1="523.4" x2="41.4" y2="523.4" stroke="#2b2b2b" stroke-width="0.9"/>
<text x="35.4" y="525.5" font-size="6" text-anchor="end" fill="#2a2a2a" stroke="#2a2a2a" stroke-width="0.14">20K</text>
<line x1="40.2" y1="519.79" x2="41.4" y2="519.79" stroke="#2b2b2b" stroke-width="0.6"/>
<line x1="40.2" y1="516.19" x2="41.4" y2="516.19" stroke="#2b2b2b" stroke-width="0.6"/>
<line x1="40.2" y1="512.58" x2="41.4" y2="512.58" stroke="#2b2b2b" stroke-width="0.6"/>
<line x1="40.2" y1="508.97" x2="41.4" y2="508.97" stroke="#2b2b2b" stroke-width="0.6"/>
<line x1="40.2" y1="501.76" x2="41.4" y2="501.76" stroke="#2b2b2b" stroke-width="0.6"/>
<line x1="40.2" y1="498.15" x2="41.4" y2="498.15" stroke="#2b2b2b" stroke-width="0.6"/>
<line x1="40.2" y1="494.55" x2="41.4" y2="494.55" stroke="#2b2b2b" stroke-width="0.6"/>
<line x1="40.2" y1="490.94" x2="41.4" y2="490.94" stroke="#2b2b2b" stroke-width="0.6"/>
<line x1="40.2" y1="483.73" x2="41.4" y2="483.73" stroke="#2b2b2b" stroke-width="0.6"/>
<line x1="40.2" y1="480.12" x2="41.4" y2="480.12" stroke="#2b2b2b" stroke-width="0.6"/>
<line x1="40.2" y1="476.51" x2="41.4" y2="476.51" stroke="#2b2b2b" stroke-width="0.6"/>
<line x1="40.2" y1="472.91" x2="41.4" y2="472.91" stroke="#2b2b2b" stroke-width="0.6"/>
<line x1="40.2" y1="527.01" x2="41.4" y2="527.01" stroke="#2b2b2b" stroke-width="0.6"/>
<line x1="40.2" y1="530.61" x2="41.4" y2="530.61" stroke="#2b2b2b" stroke-width="0.6"/>
<line x1="41.4" y1="532.7" x2="41.4" y2="534.9" stroke="#2b2b2b" stroke-width="0.9"/>
<line x1="43.86" y1="532.7" x2="43.86" y2="534" stroke="#2b2b2b" stroke-width="0.6"/>
<line x1="46.31" y1="532.7" x2="46.31" y2="534" stroke="#2b2b2b" stroke-width="0.6"/>
<line x1="48.77" y1="532.7" x2="48.77" y2="534" stroke="#2b2b2b" stroke-width="0.6"/>
<line x1="51.22" y1="532.7" x2="51.22" y2="534" stroke="#2b2b2b" stroke-width="0.6"/>
<line x1="53.68" y1="532.7" x2="53.68" y2="534.9" stroke="#2b2b2b" stroke-width="0.9"/>
<line x1="56.14" y1="532.7" x2="56.14" y2="534" stroke="#2b2b2b" stroke-width="0.6"/>
<line x1="58.59" y1="532.7" x2="58.59" y2="534" stroke="#2b2b2b" stroke-width="0.6"/>
<line x1="61.05" y1="532.7" x2="61.05" y2="534" stroke="#2b2b2b" stroke-width="0.6"/>
<line x1="63.5" y1="532.7" x2="63.5" y2="534" stroke="#2b2b2b" stroke-width="0.6"/>
<line x1="65.96" y1="532.7" x2="65.96" y2="534.9" stroke="#2b2b2b" stroke-width="0.9"/>
<line x1="68.42" y1="532.7" x2="68.42" y2="534" stroke="#2b2b2b" stroke-width="0.6"/>
<line x1="70.87" y1="532.7" x2="70.87" y2="534" stroke="#2b2b2b" stroke-width="0.6"/>
<line x1="73.33" y1="532.7" x2="73.33" y2="534" stroke="#2b2b2b" stroke-width="0.6"/>
<line x1="75.78" y1="532.7" x2="75.78" y2="534" stroke="#2b2b2b" stroke-width="0.6"/>
<line x1="78.24" y1="532.7" x2="78.24" y2="534.9" stroke="#2b2b2b" stroke-width="0.9"/>
<line x1="80.7" y1="532.7" x2="80.7" y2="534" stroke="#2b2b2b" stroke-width="0.6"/>
<line x1="83.15" y1="532.7" x2="83.15" y2="534" stroke="#2b2b2b" stroke-width="0.6"/>
<line x1="85.61" y1="532.7" x2="85.61" y2="534" stroke="#2b2b2b" stroke-width="0.6"/>
<line x1="88.06" y1="532.7" x2="88.06" y2="534" stroke="#2b2b2b" stroke-width="0.6"/>
<line x1="90.52" y1="532.7" x2="90.52" y2="534.9" stroke="#2b2b2b" stroke-width="0.9"/>
<line x1="92.98" y1="532.7" x2="92.98" y2="534" stroke="#2b2b2b" stroke-width="0.6"/>
<line x1="95.43" y1="532.7" x2="95.43" y2="534" stroke="#2b2b2b" stroke-width="0.6"/>
<line x1="97.89" y1="532.7" x2="97.89" y2="534" stroke="#2b2b2b" stroke-width="0.6"/>
<line x1="100.34" y1="532.7" x2="100.34" y2="534" stroke="#2b2b2b" stroke-width="0.6"/>
<line x1="102.8" y1="532.7" x2="102.8" y2="534.9" stroke="#2b2b2b" stroke-width="0.9"/>
<line x1="105.26" y1="532.7" x2="105.26" y2="534" stroke="#2b2b2b" stroke-width="0.6"/>
<line x1="107.71" y1="532.7" x2="107.71" y2="534" stroke="#2b2b2b" stroke-width="0.6"/>
<text x="0" y="0" font-size="6.6" text-anchor="end" fill="#2a2a2a" stroke="#2a2a2a" stroke-width="0.14" transform="translate(44.3,539) rotate(-45)">0</text>
<text x="0" y="0" font-size="6.6" text-anchor="end" fill="#2a2a2a" stroke="#2a2a2a" stroke-width="0.14" transform="translate(56.58,539) rotate(-45)">100</text>
<text x="0" y="0" font-size="6.6" text-anchor="end" fill="#2a2a2a" stroke="#2a2a2a" stroke-width="0.14" transform="translate(68.86,539) rotate(-45)">200</text>
<text x="0" y="0" font-size="6.6" text-anchor="end" fill="#2a2a2a" stroke="#2a2a2a" stroke-width="0.14" transform="translate(81.14,539) rotate(-45)">300</text>
<text x="0" y="0" font-size="6.6" text-anchor="end" fill="#2a2a2a" stroke="#2a2a2a" stroke-width="0.14" transform="translate(93.42,539) rotate(-45)">400</text>
<text x="0" y="0" font-size="6.6" text-anchor="end" fill="#2a2a2a" stroke="#2a2a2a" stroke-width="0.14" transform="translate(105.7,539) rotate(-45)">500</text>
<text x="111" y="540.7" font-size="5.8" text-anchor="start" fill="#2a2a2a" stroke="#2a2a2a" stroke-width="0.14">(s)</text>
<text x="74.6" y="461.9" font-size="5.9" text-anchor="middle" fill="#222" stroke="#222" stroke-width="0.14">0.025 U/mL Thrombin</text>
<text x="0" y="0" font-size="7" font-weight="bold" text-anchor="middle" fill="#222" textLength="24" lengthAdjust="spacingAndGlyphs" transform="translate(18.6,494.7) rotate(-90)">Fluo-4 AM</text>
<path d="M142.9,515.88 L143.51,515.07 L144.13,514.55 L144.74,513.93 L145.36,515.1 L145.97,515.72 L146.58,516.34 L147.2,516.79 L147.81,516.72 L148.43,517.82 L149.04,518.08 L149.65,518.93 L150.27,519.49 L150.88,519.91 L151.5,520.01 L152.11,520.72 L152.72,521.98 L153.34,522.44 L153.95,523.13" fill="none" stroke="#1d4c82" stroke-width="1.15" stroke-linejoin="round"/>
<path d="M142.9,516.85 L143.51,516.12 L144.13,515.92 L144.74,516.44 L145.36,516.14 L145.97,516.51 L146.58,517.44 L147.2,516.86 L147.81,517.67 L148.43,518.28 L149.04,518.71 L149.65,519.03 L150.27,520.02 L150.88,520.05 L151.5,520.3 L152.11,521.11 L152.72,521.4 L153.34,522.06 L153.95,522.4" fill="none" stroke="#cf1540" stroke-width="1.15" stroke-linejoin="round"/>
<path d="M160.09,469.36 L160.71,469.23 L161.32,469.6 L161.93,469.72 L162.55,471.86 L163.16,470.76 L163.78,472.05 L164.39,472.23 L165,472.63 L165.62,472.6 L166.23,474.92 L166.85,475.61 L167.46,475.13 L168.07,475.78 L168.69,475.84 L169.3,477.39 L169.92,476.41 L170.53,479.35 L171.14,478.36 L171.76,479.53 L172.37,481.24 L172.99,480.12 L173.6,482.08 L174.21,482.41 L174.83,482.61 L175.44,483.54 L176.06,484.14 L176.67,484.94 L177.28,483.23 L177.9,485.46 L178.51,486.17 L179.13,486.98 L179.74,485.09 L180.35,486.06 L180.97,485.85 L181.58,485.72 L182.2,487.47 L182.81,488.57 L183.42,489.23 L184.04,490.13 L184.65,489.74 L185.27,488.91 L185.88,490.44 L186.49,490.44 L187.11,490.41 L187.72,490.95 L188.34,491.92 L188.95,492.89 L189.56,494.84 L190.18,494.86 L190.79,493.82 L191.41,495.15 L192.02,495.14 L192.63,496.75 L193.25,496.56 L193.86,497.96 L194.48,496.99 L195.09,497.04 L195.7,499.78 L196.32,498.91 L196.93,500.75 L197.55,499.04 L198.16,501.28 L198.77,502.34 L199.39,500.7 L200,501.49 L200.62,503.84 L201.23,503.45 L201.84,502.63 L202.46,504.77 L203.07,503.93 L203.69,505.45 L204.3,505.75 L204.91,506.33 L205.53,507.86 L206.14,507.61 L206.76,507.52 L207.37,507.57 L207.98,508.19 L208.6,509.81 L209.21,509.29" fill="none" stroke="#1d4c82" stroke-width="1.25" stroke-linejoin="round"/>
<path d="M160.09,480.97 L160.71,480.55 L161.32,482.5 L161.93,480.34 L162.55,480.52 L163.16,480.28 L163.78,482.65 L164.39,483.68 L165,484.61 L165.62,484.68 L166.23,485.44 L166.85,483.89 L167.46,484.72 L168.07,483.98 L168.69,484.31 L169.3,485.96 L169.92,487.27 L170.53,487.41 L171.14,488.74 L171.76,487.59 L172.37,489.01 L172.99,489.85 L173.6,488.21 L174.21,489.49 L174.83,488.65 L175.44,488.69 L176.06,489.99 L176.67,491.9 L177.28,493.03 L177.9,493.37 L178.51,492.35 L179.13,493.12 L179.74,494.3 L180.35,495.87 L180.97,495.69 L181.58,495.95 L182.2,497.39 L182.81,497.64 L183.42,497.99 L184.04,498.14 L184.65,498.36 L185.27,498.63 L185.88,498.27 L186.49,500.25 L187.11,501.76 L187.72,501.94 L188.34,502.67 L188.95,502.2 L189.56,502.8 L190.18,503.84 L190.79,505.19 L191.41,504 L192.02,504.5 L192.63,505.05 L193.25,505.37 L193.86,505.42 L194.48,508.29 L195.09,508.97 L195.7,508.72 L196.32,508.4 L196.93,509.33 L197.55,509.98 L198.16,511.15 L198.77,512.05 L199.39,510.83 L200,510.4 L200.62,511.98 L201.23,512.73 L201.84,514.18 L202.46,513.4 L203.07,514.61 L203.69,513.95 L204.3,515.07 L204.91,515.04 L205.53,514.11 L206.14,515.78 L206.76,515.79 L207.37,516.69 L207.98,516.68 L208.6,515.79 L209.21,516.94" fill="none" stroke="#cf1540" stroke-width="1.25" stroke-linejoin="round"/>
<rect x="142.9" y="466.5" width="66.4" height="66.2" fill="none" stroke="#2b2b2b" stroke-width="1.15"/>
<line x1="140.7" y1="478.1" x2="142.9" y2="478.1" stroke="#2b2b2b" stroke-width="0.9"/>
<text x="136.9" y="480.2" font-size="6" text-anchor="end" fill="#2a2a2a" stroke="#2a2a2a" stroke-width="0.14">50K</text>
<line x1="140.7" y1="493.6" x2="142.9" y2="493.6" stroke="#2b2b2b" stroke-width="0.9"/>
<text x="136.9" y="495.7" font-size="6" text-anchor="end" fill="#2a2a2a" stroke="#2a2a2a" stroke-width="0.14">40K</text>
<line x1="140.7" y1="509.3" x2="142.9" y2="509.3" stroke="#2b2b2b" stroke-width="0.9"/>
<text x="136.9" y="511.4" font-size="6" text-anchor="end" fill="#2a2a2a" stroke="#2a2a2a" stroke-width="0.14">30K</text>
<line x1="140.7" y1="525" x2="142.9" y2="525" stroke="#2b2b2b" stroke-width="0.9"/>
<text x="136.9" y="527.1" font-size="6" text-anchor="end" fill="#2a2a2a" stroke="#2a2a2a" stroke-width="0.14">20K</text>
<line x1="141.7" y1="521.87" x2="142.9" y2="521.87" stroke="#2b2b2b" stroke-width="0.6"/>
<line x1="141.7" y1="518.75" x2="142.9" y2="518.75" stroke="#2b2b2b" stroke-width="0.6"/>
<line x1="141.7" y1="515.62" x2="142.9" y2="515.62" stroke="#2b2b2b" stroke-width="0.6"/>
<line x1="141.7" y1="512.49" x2="142.9" y2="512.49" stroke="#2b2b2b" stroke-width="0.6"/>
<line x1="141.7" y1="506.24" x2="142.9" y2="506.24" stroke="#2b2b2b" stroke-width="0.6"/>
<line x1="141.7" y1="503.11" x2="142.9" y2="503.11" stroke="#2b2b2b" stroke-width="0.6"/>
<line x1="141.7" y1="499.99" x2="142.9" y2="499.99" stroke="#2b2b2b" stroke-width="0.6"/>
<line x1="141.7" y1="496.86" x2="142.9" y2="496.86" stroke="#2b2b2b" stroke-width="0.6"/>
<line x1="141.7" y1="490.61" x2="142.9" y2="490.61" stroke="#2b2b2b" stroke-width="0.6"/>
<line x1="141.7" y1="487.48" x2="142.9" y2="487.48" stroke="#2b2b2b" stroke-width="0.6"/>
<line x1="141.7" y1="484.35" x2="142.9" y2="484.35" stroke="#2b2b2b" stroke-width="0.6"/>
<line x1="141.7" y1="481.23" x2="142.9" y2="481.23" stroke="#2b2b2b" stroke-width="0.6"/>
<line x1="141.7" y1="474.97" x2="142.9" y2="474.97" stroke="#2b2b2b" stroke-width="0.6"/>
<line x1="141.7" y1="471.85" x2="142.9" y2="471.85" stroke="#2b2b2b" stroke-width="0.6"/>
<line x1="141.7" y1="468.72" x2="142.9" y2="468.72" stroke="#2b2b2b" stroke-width="0.6"/>
<line x1="141.7" y1="528.13" x2="142.9" y2="528.13" stroke="#2b2b2b" stroke-width="0.6"/>
<line x1="141.7" y1="531.25" x2="142.9" y2="531.25" stroke="#2b2b2b" stroke-width="0.6"/>
<line x1="142.9" y1="532.7" x2="142.9" y2="534.9" stroke="#2b2b2b" stroke-width="0.9"/>
<line x1="145.36" y1="532.7" x2="145.36" y2="534" stroke="#2b2b2b" stroke-width="0.6"/>
<line x1="147.81" y1="532.7" x2="147.81" y2="534" stroke="#2b2b2b" stroke-width="0.6"/>
<line x1="150.27" y1="532.7" x2="150.27" y2="534" stroke="#2b2b2b" stroke-width="0.6"/>
<line x1="152.72" y1="532.7" x2="152.72" y2="534" stroke="#2b2b2b" stroke-width="0.6"/>
<line x1="155.18" y1="532.7" x2="155.18" y2="534.9" stroke="#2b2b2b" stroke-width="0.9"/>
<line x1="157.64" y1="532.7" x2="157.64" y2="534" stroke="#2b2b2b" stroke-width="0.6"/>
<line x1="160.09" y1="532.7" x2="160.09" y2="534" stroke="#2b2b2b" stroke-width="0.6"/>
<line x1="162.55" y1="532.7" x2="162.55" y2="534" stroke="#2b2b2b" stroke-width="0.6"/>
<line x1="165" y1="532.7" x2="165" y2="534" stroke="#2b2b2b" stroke-width="0.6"/>
<line x1="167.46" y1="532.7" x2="167.46" y2="534.9" stroke="#2b2b2b" stroke-width="0.9"/>
<line x1="169.92" y1="532.7" x2="169.92" y2="534" stroke="#2b2b2b" stroke-width="0.6"/>
<line x1="172.37" y1="532.7" x2="172.37" y2="534" stroke="#2b2b2b" stroke-width="0.6"/>
<line x1="174.83" y1="532.7" x2="174.83" y2="534" stroke="#2b2b2b" stroke-width="0.6"/>
<line x1="177.28" y1="532.7" x2="177.28" y2="534" stroke="#2b2b2b" stroke-width="0.6"/>
<line x1="179.74" y1="532.7" x2="179.74" y2="534.9" stroke="#2b2b2b" stroke-width="0.9"/>
<line x1="182.2" y1="532.7" x2="182.2" y2="534" stroke="#2b2b2b" stroke-width="0.6"/>
<line x1="184.65" y1="532.7" x2="184.65" y2="534" stroke="#2b2b2b" stroke-width="0.6"/>
<line x1="187.11" y1="532.7" x2="187.11" y2="534" stroke="#2b2b2b" stroke-width="0.6"/>
<line x1="189.56" y1="532.7" x2="189.56" y2="534" stroke="#2b2b2b" stroke-width="0.6"/>
<line x1="192.02" y1="532.7" x2="192.02" y2="534.9" stroke="#2b2b2b" stroke-width="0.9"/>
<line x1="194.48" y1="532.7" x2="194.48" y2="534" stroke="#2b2b2b" stroke-width="0.6"/>
<line x1="196.93" y1="532.7" x2="196.93" y2="534" stroke="#2b2b2b" stroke-width="0.6"/>
<line x1="199.39" y1="532.7" x2="199.39" y2="534" stroke="#2b2b2b" stroke-width="0.6"/>
<line x1="201.84" y1="532.7" x2="201.84" y2="534" stroke="#2b2b2b" stroke-width="0.6"/>
<line x1="204.3" y1="532.7" x2="204.3" y2="534.9" stroke="#2b2b2b" stroke-width="0.9"/>
<line x1="206.76" y1="532.7" x2="206.76" y2="534" stroke="#2b2b2b" stroke-width="0.6"/>
<line x1="209.21" y1="532.7" x2="209.21" y2="534" stroke="#2b2b2b" stroke-width="0.6"/>
<text x="0" y="0" font-size="6.6" text-anchor="end" fill="#2a2a2a" stroke="#2a2a2a" stroke-width="0.14" transform="translate(145.8,539) rotate(-45)">0</text>
<text x="0" y="0" font-size="6.6" text-anchor="end" fill="#2a2a2a" stroke="#2a2a2a" stroke-width="0.14" transform="translate(158.08,539) rotate(-45)">100</text>
<text x="0" y="0" font-size="6.6" text-anchor="end" fill="#2a2a2a" stroke="#2a2a2a" stroke-width="0.14" transform="translate(170.36,539) rotate(-45)">200</text>
<text x="0" y="0" font-size="6.6" text-anchor="end" fill="#2a2a2a" stroke="#2a2a2a" stroke-width="0.14" transform="translate(182.64,539) rotate(-45)">300</text>
<text x="0" y="0" font-size="6.6" text-anchor="end" fill="#2a2a2a" stroke="#2a2a2a" stroke-width="0.14" transform="translate(194.92,539) rotate(-45)">400</text>
<text x="0" y="0" font-size="6.6" text-anchor="end" fill="#2a2a2a" stroke="#2a2a2a" stroke-width="0.14" transform="translate(207.2,539) rotate(-45)">500</text>
<text x="212.5" y="540.7" font-size="5.8" text-anchor="start" fill="#2a2a2a" stroke="#2a2a2a" stroke-width="0.14">(s)</text>
<text x="176.1" y="461.9" font-size="5.9" text-anchor="middle" fill="#222" stroke="#222" stroke-width="0.14">0.05 U/mL Thrombin</text>
<path d="M244.2,523.92 L244.81,523.48 L245.43,523.42 L246.04,523.14 L246.66,523.67 L247.27,523.82 L247.88,523.43 L248.5,523.4 L249.11,523.71 L249.73,523.44 L250.34,523.63 L250.95,523.34 L251.57,523.86 L252.18,523.89 L252.8,523.3 L253.41,523.63 L254.02,523.8 L254.64,523.36 L255.25,523.4" fill="none" stroke="#1d4c82" stroke-width="1.15" stroke-linejoin="round"/>
<path d="M244.2,521.7 L244.81,521.77 L245.43,521.52 L246.04,520.83 L246.66,520.88 L247.27,519.98 L247.88,519.49 L248.5,520.32 L249.11,520.11 L249.73,520.38 L250.34,520.49 L250.95,520.39 L251.57,520.49 L252.18,521.4 L252.8,521.55 L253.41,521.95 L254.02,522.2 L254.64,523.41 L255.25,523.22" fill="none" stroke="#cf1540" stroke-width="1.15" stroke-linejoin="round"/>
<path d="M261.39,469.38 L262.01,468.48 L262.62,468.74 L263.23,469.34 L263.85,470.23 L264.46,470.68 L265.08,473.33 L265.69,472.92 L266.3,474.16 L266.92,473.74 L267.53,474.78 L268.15,475.17 L268.76,475.73 L269.37,476.23 L269.99,476.18 L270.6,476.22 L271.22,478.2 L271.83,478.02 L272.44,478.2 L273.06,479.88 L273.67,481.38 L274.29,481.28 L274.9,481.04 L275.51,482 L276.13,483.49 L276.74,483.03 L277.36,484.27 L277.97,483.66 L278.58,485.67 L279.2,485.57 L279.81,486.49 L280.43,485.7 L281.04,487.98 L281.65,487.03 L282.27,488.23 L282.88,488.96 L283.5,489.86 L284.11,489.71 L284.72,488.94 L285.34,488.89 L285.95,489.34 L286.57,490.57 L287.18,492.09 L287.79,492.14 L288.41,492.12 L289.02,493.29 L289.64,492.23 L290.25,494.46 L290.86,494.98 L291.48,495.5 L292.09,496.03 L292.71,496.73 L293.32,496.8 L293.93,496.81 L294.55,495.77 L295.16,496.78 L295.78,497.15 L296.39,498.23 L297,499.25 L297.62,498.87 L298.23,498.7 L298.85,500.52 L299.46,499.94 L300.07,501.17 L300.69,500.63 L301.3,501.63 L301.92,502.69 L302.53,503.29 L303.14,502.19 L303.76,502.84 L304.37,504.42 L304.99,503.15 L305.6,504.67 L306.21,505.36 L306.83,506.52 L307.44,506.4 L308.06,506.07 L308.67,505.49 L309.28,507.1 L309.9,507.34 L310.51,508.73" fill="none" stroke="#1d4c82" stroke-width="1.25" stroke-linejoin="round"/>
<path d="M261.39,476.98 L262.01,476.3 L262.62,475.41 L263.23,476.99 L263.85,477.13 L264.46,477.82 L265.08,477.35 L265.69,477.6 L266.3,478.11 L266.92,477.56 L267.53,478.32 L268.15,479.62 L268.76,480.09 L269.37,480.03 L269.99,480.25 L270.6,481.82 L271.22,481.18 L271.83,482.28 L272.44,482.14 L273.06,484.14 L273.67,484.47 L274.29,485.66 L274.9,485.37 L275.51,486.07 L276.13,486.41 L276.74,487.18 L277.36,486.23 L277.97,486.89 L278.58,488.13 L279.2,488.46 L279.81,489.68 L280.43,488.54 L281.04,488.72 L281.65,489.95 L282.27,491.64 L282.88,490.51 L283.5,492.39 L284.11,493.62 L284.72,493.43 L285.34,493.86 L285.95,493.2 L286.57,495.11 L287.18,496.17 L287.79,495.9 L288.41,497.17 L289.02,496.37 L289.64,496.96 L290.25,496.56 L290.86,496.69 L291.48,498.79 L292.09,498.36 L292.71,499.32 L293.32,498.85 L293.93,501.21 L294.55,501.27 L295.16,500.4 L295.78,502.79 L296.39,503.16 L297,503.62 L297.62,503.98 L298.23,502.93 L298.85,504.98 L299.46,504.34 L300.07,505.9 L300.69,505.2 L301.3,507.16 L301.92,508.14 L302.53,506.62 L303.14,508.97 L303.76,508.42 L304.37,509.71 L304.99,509.51 L305.6,510.46 L306.21,510.34 L306.83,510.56 L307.44,510.81 L308.06,512.77 L308.67,511.93 L309.28,513.52 L309.9,513.44 L310.51,513.28" fill="none" stroke="#cf1540" stroke-width="1.25" stroke-linejoin="round"/>
<rect x="244.2" y="466.5" width="66.4" height="66.2" fill="none" stroke="#2b2b2b" stroke-width="1.15"/>
<line x1="242" y1="469.6" x2="244.2" y2="469.6" stroke="#2b2b2b" stroke-width="0.9"/>
<text x="238.2" y="471.7" font-size="6" text-anchor="end" fill="#2a2a2a" stroke="#2a2a2a" stroke-width="0.14">60K</text>
<line x1="242" y1="482.3" x2="244.2" y2="482.3" stroke="#2b2b2b" stroke-width="0.9"/>
<text x="238.2" y="484.4" font-size="6" text-anchor="end" fill="#2a2a2a" stroke="#2a2a2a" stroke-width="0.14">50K</text>
<line x1="242" y1="495" x2="244.2" y2="495" stroke="#2b2b2b" stroke-width="0.9"/>
<text x="238.2" y="497.1" font-size="6" text-anchor="end" fill="#2a2a2a" stroke="#2a2a2a" stroke-width="0.14">40K</text>
<line x1="242" y1="507.7" x2="244.2" y2="507.7" stroke="#2b2b2b" stroke-width="0.9"/>
<text x="238.2" y="509.8" font-size="6" text-anchor="end" fill="#2a2a2a" stroke="#2a2a2a" stroke-width="0.14">30K</text>
<line x1="242" y1="520.4" x2="244.2" y2="520.4" stroke="#2b2b2b" stroke-width="0.9"/>
<text x="238.2" y="522.5" font-size="6" text-anchor="end" fill="#2a2a2a" stroke="#2a2a2a" stroke-width="0.14">20K</text>
<line x1="243" y1="517.86" x2="244.2" y2="517.86" stroke="#2b2b2b" stroke-width="0.6"/>
<line x1="243" y1="515.32" x2="244.2" y2="515.32" stroke="#2b2b2b" stroke-width="0.6"/>
<line x1="243" y1="512.78" x2="244.2" y2="512.78" stroke="#2b2b2b" stroke-width="0.6"/>
<line x1="243" y1="510.24" x2="244.2" y2="510.24" stroke="#2b2b2b" stroke-width="0.6"/>
<line x1="243" y1="505.16" x2="244.2" y2="505.16" stroke="#2b2b2b" stroke-width="0.6"/>
<line x1="243" y1="502.62" x2="244.2" y2="502.62" stroke="#2b2b2b" stroke-width="0.6"/>
<line x1="243" y1="500.08" x2="244.2" y2="500.08" stroke="#2b2b2b" stroke-width="0.6"/>
<line x1="243" y1="497.54" x2="244.2" y2="497.54" stroke="#2b2b2b" stroke-width="0.6"/>
<line x1="243" y1="492.46" x2="244.2" y2="492.46" stroke="#2b2b2b" stroke-width="0.6"/>
<line x1="243" y1="489.92" x2="244.2" y2="489.92" stroke="#2b2b2b" stroke-width="0.6"/>
<line x1="243" y1="487.38" x2="244.2" y2="487.38" stroke="#2b2b2b" stroke-width="0.6"/>
<line x1="243" y1="484.84" x2="244.2" y2="484.84" stroke="#2b2b2b" stroke-width="0.6"/>
<line x1="243" y1="479.76" x2="244.2" y2="479.76" stroke="#2b2b2b" stroke-width="0.6"/>
<line x1="243" y1="477.22" x2="244.2" y2="477.22" stroke="#2b2b2b" stroke-width="0.6"/>
<line x1="243" y1="474.68" x2="244.2" y2="474.68" stroke="#2b2b2b" stroke-width="0.6"/>
<line x1="243" y1="472.14" x2="244.2" y2="472.14" stroke="#2b2b2b" stroke-width="0.6"/>
<line x1="243" y1="467.06" x2="244.2" y2="467.06" stroke="#2b2b2b" stroke-width="0.6"/>
<line x1="243" y1="522.94" x2="244.2" y2="522.94" stroke="#2b2b2b" stroke-width="0.6"/>
<line x1="243" y1="525.48" x2="244.2" y2="525.48" stroke="#2b2b2b" stroke-width="0.6"/>
<line x1="243" y1="528.02" x2="244.2" y2="528.02" stroke="#2b2b2b" stroke-width="0.6"/>
<line x1="243" y1="530.56" x2="244.2" y2="530.56" stroke="#2b2b2b" stroke-width="0.6"/>
<line x1="244.2" y1="532.7" x2="244.2" y2="534.9" stroke="#2b2b2b" stroke-width="0.9"/>
<line x1="246.66" y1="532.7" x2="246.66" y2="534" stroke="#2b2b2b" stroke-width="0.6"/>
<line x1="249.11" y1="532.7" x2="249.11" y2="534" stroke="#2b2b2b" stroke-width="0.6"/>
<line x1="251.57" y1="532.7" x2="251.57" y2="534" stroke="#2b2b2b" stroke-width="0.6"/>
<line x1="254.02" y1="532.7" x2="254.02" y2="534" stroke="#2b2b2b" stroke-width="0.6"/>
<line x1="256.48" y1="532.7" x2="256.48" y2="534.9" stroke="#2b2b2b" stroke-width="0.9"/>
<line x1="258.94" y1="532.7" x2="258.94" y2="534" stroke="#2b2b2b" stroke-width="0.6"/>
<line x1="261.39" y1="532.7" x2="261.39" y2="534" stroke="#2b2b2b" stroke-width="0.6"/>
<line x1="263.85" y1="532.7" x2="263.85" y2="534" stroke="#2b2b2b" stroke-width="0.6"/>
<line x1="266.3" y1="532.7" x2="266.3" y2="534" stroke="#2b2b2b" stroke-width="0.6"/>
<line x1="268.76" y1="532.7" x2="268.76" y2="534.9" stroke="#2b2b2b" stroke-width="0.9"/>
<line x1="271.22" y1="532.7" x2="271.22" y2="534" stroke="#2b2b2b" stroke-width="0.6"/>
<line x1="273.67" y1="532.7" x2="273.67" y2="534" stroke="#2b2b2b" stroke-width="0.6"/>
<line x1="276.13" y1="532.7" x2="276.13" y2="534" stroke="#2b2b2b" stroke-width="0.6"/>
<line x1="278.58" y1="532.7" x2="278.58" y2="534" stroke="#2b2b2b" stroke-width="0.6"/>
<line x1="281.04" y1="532.7" x2="281.04" y2="534.9" stroke="#2b2b2b" stroke-width="0.9"/>
<line x1="283.5" y1="532.7" x2="283.5" y2="534" stroke="#2b2b2b" stroke-width="0.6"/>
<line x1="285.95" y1="532.7" x2="285.95" y2="534" stroke="#2b2b2b" stroke-width="0.6"/>
<line x1="288.41" y1="532.7" x2="288.41" y2="534" stroke="#2b2b2b" stroke-width="0.6"/>
<line x1="290.86" y1="532.7" x2="290.86" y2="534" stroke="#2b2b2b" stroke-width="0.6"/>
<line x1="293.32" y1="532.7" x2="293.32" y2="534.9" stroke="#2b2b2b" stroke-width="0.9"/>
<line x1="295.78" y1="532.7" x2="295.78" y2="534" stroke="#2b2b2b" stroke-width="0.6"/>
<line x1="298.23" y1="532.7" x2="298.23" y2="534" stroke="#2b2b2b" stroke-width="0.6"/>
<line x1="300.69" y1="532.7" x2="300.69" y2="534" stroke="#2b2b2b" stroke-width="0.6"/>
<line x1="303.14" y1="532.7" x2="303.14" y2="534" stroke="#2b2b2b" stroke-width="0.6"/>
<line x1="305.6" y1="532.7" x2="305.6" y2="534.9" stroke="#2b2b2b" stroke-width="0.9"/>
<line x1="308.06" y1="532.7" x2="308.06" y2="534" stroke="#2b2b2b" stroke-width="0.6"/>
<line x1="310.51" y1="532.7" x2="310.51" y2="534" stroke="#2b2b2b" stroke-width="0.6"/>
<text x="0" y="0" font-size="6.6" text-anchor="end" fill="#2a2a2a" stroke="#2a2a2a" stroke-width="0.14" transform="translate(247.1,539) rotate(-45)">0</text>
<text x="0" y="0" font-size="6.6" text-anchor="end" fill="#2a2a2a" stroke="#2a2a2a" stroke-width="0.14" transform="translate(259.38,539) rotate(-45)">100</text>
<text x="0" y="0" font-size="6.6" text-anchor="end" fill="#2a2a2a" stroke="#2a2a2a" stroke-width="0.14" transform="translate(271.66,539) rotate(-45)">200</text>
<text x="0" y="0" font-size="6.6" text-anchor="end" fill="#2a2a2a" stroke="#2a2a2a" stroke-width="0.14" transform="translate(283.94,539) rotate(-45)">300</text>
<text x="0" y="0" font-size="6.6" text-anchor="end" fill="#2a2a2a" stroke="#2a2a2a" stroke-width="0.14" transform="translate(296.22,539) rotate(-45)">400</text>
<text x="0" y="0" font-size="6.6" text-anchor="end" fill="#2a2a2a" stroke="#2a2a2a" stroke-width="0.14" transform="translate(308.5,539) rotate(-45)">500</text>
<text x="313.8" y="540.7" font-size="5.8" text-anchor="start" fill="#2a2a2a" stroke="#2a2a2a" stroke-width="0.14">(s)</text>
<text x="277.4" y="461.9" font-size="5.9" text-anchor="middle" fill="#222" stroke="#222" stroke-width="0.14">0.1 U/mL Thrombin</text>
<path d="M41.4,614.33 L42.01,615.46 L42.63,614.68 L43.24,615.27 L43.86,614.2 L44.47,615.27 L45.08,614.28 L45.7,614.27 L46.31,613.99 L46.93,613.93 L47.54,615.14 L48.15,615.45 L48.77,615.16 L49.38,615.84 L50,616.19 L50.61,616.48 L51.22,615.81 L51.84,615.77 L52.45,616.02" fill="none" stroke="#1d4c82" stroke-width="1.15" stroke-linejoin="round"/>
<path d="M41.4,615.38 L42.01,615.2 L42.63,614.76 L43.24,615.69 L43.86,616.06 L44.47,615.05 L45.08,615.45 L45.7,615.46 L46.31,614.8 L46.93,615.72 L47.54,615.06 L48.15,615.62 L48.77,616.49 L49.38,615.65 L50,616.06 L50.61,617 L51.22,616.3 L51.84,616.35 L52.45,616.55" fill="none" stroke="#cf1540" stroke-width="1.15" stroke-linejoin="round"/>
<path d="M57.98,580.62 L58.59,580.88 L59.21,577.92 L59.82,575.2 L60.43,573.34 L61.05,572.76 L61.66,572.11 L62.28,572.47 L62.89,571.64 L63.5,572.49 L64.12,570.35 L64.73,569.72 L65.35,570.28 L65.96,569.71 L66.57,567.96 L67.19,568.15 L67.8,566.6 L68.42,566.22 L69.03,566.62 L69.64,569.33 L70.26,570.11 L70.87,569.61 L71.49,569.28 L72.1,568.06 L72.71,567.37 L73.33,568.15 L73.94,568.13 L74.56,568.39 L75.17,570.35 L75.78,569.19 L76.4,570.02 L77.01,569.57 L77.63,570.9 L78.24,569.05 L78.85,567.94 L79.47,570.73 L80.08,569.84 L80.7,571.71 L81.31,571.23 L81.92,571.94 L82.54,569.89 L83.15,570.01 L83.77,569.64 L84.38,572.05 L84.99,571.11 L85.61,571.12 L86.22,571.95 L86.84,570.94 L87.45,571.86 L88.06,573.45 L88.68,572.53 L89.29,573.28 L89.91,574.57 L90.52,573.68 L91.13,575.59 L91.75,574.87 L92.36,574.49 L92.98,576.48 L93.59,574.93 L94.2,576.65 L94.82,575.33 L95.43,576.23 L96.05,577.71 L96.66,574.92 L97.27,577.6 L97.89,578.12 L98.5,577.22 L99.12,578.06 L99.73,577.46 L100.34,577.67 L100.96,577.54 L101.57,577.79 L102.19,578.87 L102.8,579.6 L103.41,578.29 L104.03,579.04 L104.64,579.08 L105.26,577.91 L105.87,580.9 L106.48,580.89 L107.1,580.07 L107.71,581.79" fill="none" stroke="#1d4c82" stroke-width="1.25" stroke-linejoin="round"/>
<path d="M57.98,589.08 L58.59,586.99 L59.21,585.12 L59.82,583.87 L60.43,581.98 L61.05,580.72 L61.66,579.16 L62.28,579.79 L62.89,579.92 L63.5,579.12 L64.12,576.78 L64.73,578.45 L65.35,577.41 L65.96,576.57 L66.57,575.58 L67.19,575.4 L67.8,574.08 L68.42,573.51 L69.03,574.67 L69.64,576.27 L70.26,574.4 L70.87,574.04 L71.49,575.33 L72.1,574.55 L72.71,574.1 L73.33,573.8 L73.94,576.25 L74.56,576.95 L75.17,575.15 L75.78,576.57 L76.4,576.96 L77.01,577.87 L77.63,575.69 L78.24,576.99 L78.85,577.78 L79.47,576.65 L80.08,578.37 L80.7,576.59 L81.31,578.74 L81.92,576.41 L82.54,578.91 L83.15,579.68 L83.77,578.97 L84.38,577.94 L84.99,578.82 L85.61,578.48 L86.22,580.18 L86.84,578.68 L87.45,580.74 L88.06,580.74 L88.68,579.58 L89.29,580.88 L89.91,582.55 L90.52,580.89 L91.13,582.82 L91.75,582.39 L92.36,582.71 L92.98,582.47 L93.59,583.94 L94.2,581.89 L94.82,582.04 L95.43,583.27 L96.05,584.71 L96.66,585.06 L97.27,585.87 L97.89,585.85 L98.5,585.85 L99.12,585.24 L99.73,587.61 L100.34,585.61 L100.96,585.52 L101.57,587.03 L102.19,587.64 L102.8,589.65 L103.41,590.63 L104.03,592.23 L104.64,593.16 L105.26,592.05 L105.87,594.33 L106.48,593.95 L107.1,594.33 L107.71,596.43" fill="none" stroke="#cf1540" stroke-width="1.25" stroke-linejoin="round"/>
<rect x="41.4" y="563.9" width="66.4" height="66.2" fill="none" stroke="#2b2b2b" stroke-width="1.15"/>
<line x1="39.2" y1="576.2" x2="41.4" y2="576.2" stroke="#2b2b2b" stroke-width="0.9"/>
<text x="35.4" y="578.3" font-size="6" text-anchor="end" fill="#2a2a2a" stroke="#2a2a2a" stroke-width="0.14">40K</text>
<line x1="39.2" y1="596.3" x2="41.4" y2="596.3" stroke="#2b2b2b" stroke-width="0.9"/>
<text x="35.4" y="598.4" font-size="6" text-anchor="end" fill="#2a2a2a" stroke="#2a2a2a" stroke-width="0.14">30K</text>
<line x1="39.2" y1="616.6" x2="41.4" y2="616.6" stroke="#2b2b2b" stroke-width="0.9"/>
<text x="35.4" y="618.7" font-size="6" text-anchor="end" fill="#2a2a2a" stroke="#2a2a2a" stroke-width="0.14">20K</text>
<line x1="40.2" y1="612.56" x2="41.4" y2="612.56" stroke="#2b2b2b" stroke-width="0.6"/>
<line x1="40.2" y1="608.52" x2="41.4" y2="608.52" stroke="#2b2b2b" stroke-width="0.6"/>
<line x1="40.2" y1="604.48" x2="41.4" y2="604.48" stroke="#2b2b2b" stroke-width="0.6"/>
<line x1="40.2" y1="600.44" x2="41.4" y2="600.44" stroke="#2b2b2b" stroke-width="0.6"/>
<line x1="40.2" y1="592.36" x2="41.4" y2="592.36" stroke="#2b2b2b" stroke-width="0.6"/>
<line x1="40.2" y1="588.32" x2="41.4" y2="588.32" stroke="#2b2b2b" stroke-width="0.6"/>
<line x1="40.2" y1="584.28" x2="41.4" y2="584.28" stroke="#2b2b2b" stroke-width="0.6"/>
<line x1="40.2" y1="580.24" x2="41.4" y2="580.24" stroke="#2b2b2b" stroke-width="0.6"/>
<line x1="40.2" y1="572.16" x2="41.4" y2="572.16" stroke="#2b2b2b" stroke-width="0.6"/>
<line x1="40.2" y1="568.12" x2="41.4" y2="568.12" stroke="#2b2b2b" stroke-width="0.6"/>
<line x1="40.2" y1="564.08" x2="41.4" y2="564.08" stroke="#2b2b2b" stroke-width="0.6"/>
<line x1="40.2" y1="620.64" x2="41.4" y2="620.64" stroke="#2b2b2b" stroke-width="0.6"/>
<line x1="40.2" y1="624.68" x2="41.4" y2="624.68" stroke="#2b2b2b" stroke-width="0.6"/>
<line x1="40.2" y1="628.72" x2="41.4" y2="628.72" stroke="#2b2b2b" stroke-width="0.6"/>
<line x1="41.4" y1="630.1" x2="41.4" y2="632.3" stroke="#2b2b2b" stroke-width="0.9"/>
<line x1="43.86" y1="630.1" x2="43.86" y2="631.4" stroke="#2b2b2b" stroke-width="0.6"/>
<line x1="46.31" y1="630.1" x2="46.31" y2="631.4" stroke="#2b2b2b" stroke-width="0.6"/>
<line x1="48.77" y1="630.1" x2="48.77" y2="631.4" stroke="#2b2b2b" stroke-width="0.6"/>
<line x1="51.22" y1="630.1" x2="51.22" y2="631.4" stroke="#2b2b2b" stroke-width="0.6"/>
<line x1="53.68" y1="630.1" x2="53.68" y2="632.3" stroke="#2b2b2b" stroke-width="0.9"/>
<line x1="56.14" y1="630.1" x2="56.14" y2="631.4" stroke="#2b2b2b" stroke-width="0.6"/>
<line x1="58.59" y1="630.1" x2="58.59" y2="631.4" stroke="#2b2b2b" stroke-width="0.6"/>
<line x1="61.05" y1="630.1" x2="61.05" y2="631.4" stroke="#2b2b2b" stroke-width="0.6"/>
<line x1="63.5" y1="630.1" x2="63.5" y2="631.4" stroke="#2b2b2b" stroke-width="0.6"/>
<line x1="65.96" y1="630.1" x2="65.96" y2="632.3" stroke="#2b2b2b" stroke-width="0.9"/>
<line x1="68.42" y1="630.1" x2="68.42" y2="631.4" stroke="#2b2b2b" stroke-width="0.6"/>
<line x1="70.87" y1="630.1" x2="70.87" y2="631.4" stroke="#2b2b2b" stroke-width="0.6"/>
<line x1="73.33" y1="630.1" x2="73.33" y2="631.4" stroke="#2b2b2b" stroke-width="0.6"/>
<line x1="75.78" y1="630.1" x2="75.78" y2="631.4" stroke="#2b2b2b" stroke-width="0.6"/>
<line x1="78.24" y1="630.1" x2="78.24" y2="632.3" stroke="#2b2b2b" stroke-width="0.9"/>
<line x1="80.7" y1="630.1" x2="80.7" y2="631.4" stroke="#2b2b2b" stroke-width="0.6"/>
<line x1="83.15" y1="630.1" x2="83.15" y2="631.4" stroke="#2b2b2b" stroke-width="0.6"/>
<line x1="85.61" y1="630.1" x2="85.61" y2="631.4" stroke="#2b2b2b" stroke-width="0.6"/>
<line x1="88.06" y1="630.1" x2="88.06" y2="631.4" stroke="#2b2b2b" stroke-width="0.6"/>
<line x1="90.52" y1="630.1" x2="90.52" y2="632.3" stroke="#2b2b2b" stroke-width="0.9"/>
<line x1="92.98" y1="630.1" x2="92.98" y2="631.4" stroke="#2b2b2b" stroke-width="0.6"/>
<line x1="95.43" y1="630.1" x2="95.43" y2="631.4" stroke="#2b2b2b" stroke-width="0.6"/>
<line x1="97.89" y1="630.1" x2="97.89" y2="631.4" stroke="#2b2b2b" stroke-width="0.6"/>
<line x1="100.34" y1="630.1" x2="100.34" y2="631.4" stroke="#2b2b2b" stroke-width="0.6"/>
<line x1="102.8" y1="630.1" x2="102.8" y2="632.3" stroke="#2b2b2b" stroke-width="0.9"/>
<line x1="105.26" y1="630.1" x2="105.26" y2="631.4" stroke="#2b2b2b" stroke-width="0.6"/>
<line x1="107.71" y1="630.1" x2="107.71" y2="631.4" stroke="#2b2b2b" stroke-width="0.6"/>
<text x="0" y="0" font-size="6.6" text-anchor="end" fill="#2a2a2a" stroke="#2a2a2a" stroke-width="0.14" transform="translate(44.3,636.4) rotate(-45)">0</text>
<text x="0" y="0" font-size="6.6" text-anchor="end" fill="#2a2a2a" stroke="#2a2a2a" stroke-width="0.14" transform="translate(56.58,636.4) rotate(-45)">100</text>
<text x="0" y="0" font-size="6.6" text-anchor="end" fill="#2a2a2a" stroke="#2a2a2a" stroke-width="0.14" transform="translate(68.86,636.4) rotate(-45)">200</text>
<text x="0" y="0" font-size="6.6" text-anchor="end" fill="#2a2a2a" stroke="#2a2a2a" stroke-width="0.14" transform="translate(81.14,636.4) rotate(-45)">300</text>
<text x="0" y="0" font-size="6.6" text-anchor="end" fill="#2a2a2a" stroke="#2a2a2a" stroke-width="0.14" transform="translate(93.42,636.4) rotate(-45)">400</text>
<text x="0" y="0" font-size="6.6" text-anchor="end" fill="#2a2a2a" stroke="#2a2a2a" stroke-width="0.14" transform="translate(105.7,636.4) rotate(-45)">500</text>
<text x="111" y="638.1" font-size="5.8" text-anchor="start" fill="#2a2a2a" stroke="#2a2a2a" stroke-width="0.14">(s)</text>
<text x="74.6" y="559.3" font-size="5.9" text-anchor="middle" fill="#222" stroke="#222" stroke-width="0.14">2 μg/mL Collagen</text>
<text x="0" y="0" font-size="7" font-weight="bold" text-anchor="middle" fill="#222" textLength="24" lengthAdjust="spacingAndGlyphs" transform="translate(18.6,592.1) rotate(-90)">Fluo-4 AM</text>
<path d="M142.9,614.32 L143.51,613.98 L144.13,613.8 L144.74,613.55 L145.36,613.36 L145.97,612.82 L146.58,613.02 L147.2,612.41 L147.81,612.9 L148.43,613.03 L149.04,613.27 L149.65,613.83 L150.27,613.44 L150.88,614.16 L151.5,613.96 L152.11,613.95 L152.72,615.11 L153.34,614.82 L153.95,615.1" fill="none" stroke="#1d4c82" stroke-width="1.15" stroke-linejoin="round"/>
<path d="M142.9,616.49 L143.51,616.57 L144.13,615.97 L144.74,616.34 L145.36,616.48 L145.97,616.07 L146.58,616.01 L147.2,616.24 L147.81,616.05 L148.43,615.55 L149.04,616.45 L149.65,616.69 L150.27,617.06 L150.88,616.97 L151.5,617.24 L152.11,616.25 L152.72,616.97 L153.34,616.37 L153.95,617.43" fill="none" stroke="#cf1540" stroke-width="1.15" stroke-linejoin="round"/>
<path d="M159.48,575.04 L160.09,574.66 L160.71,572.95 L161.32,573.89 L161.93,571.45 L162.55,571.16 L163.16,570.31 L163.78,571.27 L164.39,570.75 L165,570.66 L165.62,570.23 L166.23,568.66 L166.85,568.86 L167.46,567.16 L168.07,567.73 L168.69,568.79 L169.3,567.62 L169.92,567.39 L170.53,568.74 L171.14,567.96 L171.76,569.47 L172.37,568.8 L172.99,568.22 L173.6,567.7 L174.21,566.8 L174.83,567.75 L175.44,569.94 L176.06,569.16 L176.67,569.76 L177.28,568.44 L177.9,568.03 L178.51,570.77 L179.13,569.61 L179.74,571.13 L180.35,572.17 L180.97,571.88 L181.58,572.23 L182.2,573.03 L182.81,573.61 L183.42,573.53 L184.04,573.02 L184.65,574.85 L185.27,574.95 L185.88,575.71 L186.49,574.66 L187.11,576.22 L187.72,575.37 L188.34,577.7 L188.95,575.99 L189.56,577.21 L190.18,576.23 L190.79,576.73 L191.41,577.02 L192.02,579.95 L192.63,578.73 L193.25,579.43 L193.86,578.78 L194.48,579.93 L195.09,581.21 L195.7,580.09 L196.32,579.83 L196.93,582.51 L197.55,583.72 L198.16,583.4 L198.77,582.95 L199.39,584.7 L200,584.11 L200.62,584.41 L201.23,583.98 L201.84,586.24 L202.46,587.12 L203.07,586.46 L203.69,585.87 L204.3,586.55 L204.91,586.53 L205.53,588.34 L206.14,589.83 L206.76,588.44 L207.37,588.54 L207.98,590.82 L208.6,591.51 L209.21,590.06" fill="none" stroke="#1d4c82" stroke-width="1.25" stroke-linejoin="round"/>
<path d="M159.48,584.52 L160.09,584.21 L160.71,584.56 L161.32,583.8 L161.93,582.18 L162.55,579.16 L163.16,578.07 L163.78,579.3 L164.39,579.01 L165,578.56 L165.62,576.65 L166.23,577.36 L166.85,577.63 L167.46,576.78 L168.07,577.81 L168.69,576.14 L169.3,576.61 L169.92,574.22 L170.53,575.24 L171.14,574.1 L171.76,575.72 L172.37,576.82 L172.99,575.04 L173.6,575.21 L174.21,578.22 L174.83,576.11 L175.44,576.38 L176.06,576.62 L176.67,578.18 L177.28,578.41 L177.9,578.9 L178.51,580.6 L179.13,582.38 L179.74,581.09 L180.35,580.3 L180.97,583.15 L181.58,582.39 L182.2,583.19 L182.81,584.07 L183.42,583.72 L184.04,584.31 L184.65,584.26 L185.27,585.72 L185.88,586.35 L186.49,586.38 L187.11,588 L187.72,586.62 L188.34,589.35 L188.95,587.94 L189.56,590.2 L190.18,591.04 L190.79,588.97 L191.41,589.89 L192.02,591.66 L192.63,591.2 L193.25,592.67 L193.86,592.12 L194.48,593.61 L195.09,594.18 L195.7,595.52 L196.32,594.79 L196.93,596.22 L197.55,595.82 L198.16,596.47 L198.77,596.05 L199.39,597.85 L200,597.09 L200.62,599.29 L201.23,597.72 L201.84,600.09 L202.46,599.92 L203.07,601.36 L203.69,599.87 L204.3,601.59 L204.91,602.86 L205.53,601.8 L206.14,601.54 L206.76,602.44 L207.37,603.03 L207.98,603.37 L208.6,603.09 L209.21,605.34" fill="none" stroke="#cf1540" stroke-width="1.25" stroke-linejoin="round"/>
<rect x="142.9" y="563.9" width="66.4" height="66.2" fill="none" stroke="#2b2b2b" stroke-width="1.15"/>
<line x1="140.7" y1="565.3" x2="142.9" y2="565.3" stroke="#2b2b2b" stroke-width="0.9"/>
<text x="136.9" y="567.4" font-size="6" text-anchor="end" fill="#2a2a2a" stroke="#2a2a2a" stroke-width="0.14">50K</text>
<line x1="140.7" y1="583.8" x2="142.9" y2="583.8" stroke="#2b2b2b" stroke-width="0.9"/>
<text x="136.9" y="585.9" font-size="6" text-anchor="end" fill="#2a2a2a" stroke="#2a2a2a" stroke-width="0.14">40K</text>
<line x1="140.7" y1="602.3" x2="142.9" y2="602.3" stroke="#2b2b2b" stroke-width="0.9"/>
<text x="136.9" y="604.4" font-size="6" text-anchor="end" fill="#2a2a2a" stroke="#2a2a2a" stroke-width="0.14">30K</text>
<line x1="140.7" y1="620.8" x2="142.9" y2="620.8" stroke="#2b2b2b" stroke-width="0.9"/>
<text x="136.9" y="622.9" font-size="6" text-anchor="end" fill="#2a2a2a" stroke="#2a2a2a" stroke-width="0.14">20K</text>
<line x1="141.7" y1="617.1" x2="142.9" y2="617.1" stroke="#2b2b2b" stroke-width="0.6"/>
<line x1="141.7" y1="613.4" x2="142.9" y2="613.4" stroke="#2b2b2b" stroke-width="0.6"/>
<line x1="141.7" y1="609.7" x2="142.9" y2="609.7" stroke="#2b2b2b" stroke-width="0.6"/>
<line x1="141.7" y1="606" x2="142.9" y2="606" stroke="#2b2b2b" stroke-width="0.6"/>
<line x1="141.7" y1="598.6" x2="142.9" y2="598.6" stroke="#2b2b2b" stroke-width="0.6"/>
<line x1="141.7" y1="594.9" x2="142.9" y2="594.9" stroke="#2b2b2b" stroke-width="0.6"/>
<line x1="141.7" y1="591.2" x2="142.9" y2="591.2" stroke="#2b2b2b" stroke-width="0.6"/>
<line x1="141.7" y1="587.5" x2="142.9" y2="587.5" stroke="#2b2b2b" stroke-width="0.6"/>
<line x1="141.7" y1="580.1" x2="142.9" y2="580.1" stroke="#2b2b2b" stroke-width="0.6"/>
<line x1="141.7" y1="576.4" x2="142.9" y2="576.4" stroke="#2b2b2b" stroke-width="0.6"/>
<line x1="141.7" y1="572.7" x2="142.9" y2="572.7" stroke="#2b2b2b" stroke-width="0.6"/>
<line x1="141.7" y1="569" x2="142.9" y2="569" stroke="#2b2b2b" stroke-width="0.6"/>
<line x1="141.7" y1="624.5" x2="142.9" y2="624.5" stroke="#2b2b2b" stroke-width="0.6"/>
<line x1="141.7" y1="628.2" x2="142.9" y2="628.2" stroke="#2b2b2b" stroke-width="0.6"/>
<line x1="142.9" y1="630.1" x2="142.9" y2="632.3" stroke="#2b2b2b" stroke-width="0.9"/>
<line x1="145.36" y1="630.1" x2="145.36" y2="631.4" stroke="#2b2b2b" stroke-width="0.6"/>
<line x1="147.81" y1="630.1" x2="147.81" y2="631.4" stroke="#2b2b2b" stroke-width="0.6"/>
<line x1="150.27" y1="630.1" x2="150.27" y2="631.4" stroke="#2b2b2b" stroke-width="0.6"/>
<line x1="152.72" y1="630.1" x2="152.72" y2="631.4" stroke="#2b2b2b" stroke-width="0.6"/>
<line x1="155.18" y1="630.1" x2="155.18" y2="632.3" stroke="#2b2b2b" stroke-width="0.9"/>
<line x1="157.64" y1="630.1" x2="157.64" y2="631.4" stroke="#2b2b2b" stroke-width="0.6"/>
<line x1="160.09" y1="630.1" x2="160.09" y2="631.4" stroke="#2b2b2b" stroke-width="0.6"/>
<line x1="162.55" y1="630.1" x2="162.55" y2="631.4" stroke="#2b2b2b" stroke-width="0.6"/>
<line x1="165" y1="630.1" x2="165" y2="631.4" stroke="#2b2b2b" stroke-width="0.6"/>
<line x1="167.46" y1="630.1" x2="167.46" y2="632.3" stroke="#2b2b2b" stroke-width="0.9"/>
<line x1="169.92" y1="630.1" x2="169.92" y2="631.4" stroke="#2b2b2b" stroke-width="0.6"/>
<line x1="172.37" y1="630.1" x2="172.37" y2="631.4" stroke="#2b2b2b" stroke-width="0.6"/>
<line x1="174.83" y1="630.1" x2="174.83" y2="631.4" stroke="#2b2b2b" stroke-width="0.6"/>
<line x1="177.28" y1="630.1" x2="177.28" y2="631.4" stroke="#2b2b2b" stroke-width="0.6"/>
<line x1="179.74" y1="630.1" x2="179.74" y2="632.3" stroke="#2b2b2b" stroke-width="0.9"/>
<line x1="182.2" y1="630.1" x2="182.2" y2="631.4" stroke="#2b2b2b" stroke-width="0.6"/>
<line x1="184.65" y1="630.1" x2="184.65" y2="631.4" stroke="#2b2b2b" stroke-width="0.6"/>
<line x1="187.11" y1="630.1" x2="187.11" y2="631.4" stroke="#2b2b2b" stroke-width="0.6"/>
<line x1="189.56" y1="630.1" x2="189.56" y2="631.4" stroke="#2b2b2b" stroke-width="0.6"/>
<line x1="192.02" y1="630.1" x2="192.02" y2="632.3" stroke="#2b2b2b" stroke-width="0.9"/>
<line x1="194.48" y1="630.1" x2="194.48" y2="631.4" stroke="#2b2b2b" stroke-width="0.6"/>
<line x1="196.93" y1="630.1" x2="196.93" y2="631.4" stroke="#2b2b2b" stroke-width="0.6"/>
<line x1="199.39" y1="630.1" x2="199.39" y2="631.4" stroke="#2b2b2b" stroke-width="0.6"/>
<line x1="201.84" y1="630.1" x2="201.84" y2="631.4" stroke="#2b2b2b" stroke-width="0.6"/>
<line x1="204.3" y1="630.1" x2="204.3" y2="632.3" stroke="#2b2b2b" stroke-width="0.9"/>
<line x1="206.76" y1="630.1" x2="206.76" y2="631.4" stroke="#2b2b2b" stroke-width="0.6"/>
<line x1="209.21" y1="630.1" x2="209.21" y2="631.4" stroke="#2b2b2b" stroke-width="0.6"/>
<text x="0" y="0" font-size="6.6" text-anchor="end" fill="#2a2a2a" stroke="#2a2a2a" stroke-width="0.14" transform="translate(145.8,636.4) rotate(-45)">0</text>
<text x="0" y="0" font-size="6.6" text-anchor="end" fill="#2a2a2a" stroke="#2a2a2a" stroke-width="0.14" transform="translate(158.08,636.4) rotate(-45)">100</text>
<text x="0" y="0" font-size="6.6" text-anchor="end" fill="#2a2a2a" stroke="#2a2a2a" stroke-width="0.14" transform="translate(170.36,636.4) rotate(-45)">200</text>
<text x="0" y="0" font-size="6.6" text-anchor="end" fill="#2a2a2a" stroke="#2a2a2a" stroke-width="0.14" transform="translate(182.64,636.4) rotate(-45)">300</text>
<text x="0" y="0" font-size="6.6" text-anchor="end" fill="#2a2a2a" stroke="#2a2a2a" stroke-width="0.14" transform="translate(194.92,636.4) rotate(-45)">400</text>
<text x="0" y="0" font-size="6.6" text-anchor="end" fill="#2a2a2a" stroke="#2a2a2a" stroke-width="0.14" transform="translate(207.2,636.4) rotate(-45)">500</text>
<text x="212.5" y="638.1" font-size="5.8" text-anchor="start" fill="#2a2a2a" stroke="#2a2a2a" stroke-width="0.14">(s)</text>
<text x="176.1" y="559.3" font-size="5.9" text-anchor="middle" fill="#222" stroke="#222" stroke-width="0.14">4 μg/mL Collagen</text>
<path d="M244.2,613.24 L244.81,612.74 L245.43,612.31 L246.04,612.86 L246.66,612.32 L247.27,612.76 L247.88,613.28 L248.5,614.39 L249.11,615.12 L249.73,615.24 L250.34,615.2 L250.95,616.11 L251.57,616.39 L252.18,617.02 L252.8,616.91 L253.41,617.11 L254.02,618.13 L254.64,618.04 L255.25,619.45" fill="none" stroke="#1d4c82" stroke-width="1.15" stroke-linejoin="round"/>
<path d="M244.2,615.85 L244.81,615.99 L245.43,615.39 L246.04,615.82 L246.66,615.61 L247.27,615.68 L247.88,615.56 L248.5,615.09 L249.11,616.13 L249.73,616.14 L250.34,616.54 L250.95,616.64 L251.57,616.06 L252.18,616.97 L252.8,617.12 L253.41,617.63 L254.02,617.64 L254.64,618.22 L255.25,618.94" fill="none" stroke="#cf1540" stroke-width="1.15" stroke-linejoin="round"/>
<path d="M260.78,572.42 L261.39,570.75 L262.01,569.83 L262.62,568.01 L263.23,567.34 L263.85,566.88 L264.46,567.8 L265.08,567.69 L265.69,568.1 L266.3,566.35 L266.92,567.31 L267.53,565.84 L268.15,567.68 L268.76,568.26 L269.37,567.67 L269.99,567.84 L270.6,567.26 L271.22,567.11 L271.83,568.37 L272.44,569.6 L273.06,569.05 L273.67,569.94 L274.29,571.04 L274.9,571.45 L275.51,572.76 L276.13,571.41 L276.74,573.24 L277.36,573.61 L277.97,572.8 L278.58,572.91 L279.2,573.25 L279.81,573.6 L280.43,573.53 L281.04,573.42 L281.65,573.63 L282.27,575.63 L282.88,576.54 L283.5,577.68 L284.11,577.45 L284.72,578.43 L285.34,576.84 L285.95,577.26 L286.57,579.13 L287.18,578.63 L287.79,578.79 L288.41,580.83 L289.02,579.65 L289.64,579.88 L290.25,580.98 L290.86,580.24 L291.48,582.77 L292.09,583.87 L292.71,582.51 L293.32,582.65 L293.93,584.85 L294.55,584.02 L295.16,584.16 L295.78,585.11 L296.39,586.36 L297,585.04 L297.62,584.81 L298.23,586.01 L298.85,587.56 L299.46,587.36 L300.07,587.32 L300.69,587.99 L301.3,587.66 L301.92,589.51 L302.53,588.43 L303.14,588.94 L303.76,591.03 L304.37,591.97 L304.99,590.59 L305.6,591.8 L306.21,590.82 L306.83,590.8 L307.44,592.93 L308.06,592.48 L308.67,594.15 L309.28,594.08 L309.9,595.25 L310.51,594.14" fill="none" stroke="#1d4c82" stroke-width="1.25" stroke-linejoin="round"/>
<path d="M260.78,580 L261.39,579.63 L262.01,580.32 L262.62,578.11 L263.23,577.49 L263.85,577.01 L264.46,577.12 L265.08,576.25 L265.69,575.1 L266.3,575.02 L266.92,575.64 L267.53,573.91 L268.15,574.77 L268.76,575.31 L269.37,575.62 L269.99,575.42 L270.6,574.74 L271.22,576.42 L271.83,576.36 L272.44,577.85 L273.06,579.31 L273.67,577.41 L274.29,578.47 L274.9,579.45 L275.51,579.49 L276.13,581.44 L276.74,580.23 L277.36,581.95 L277.97,580.94 L278.58,583.31 L279.2,583.48 L279.81,584.36 L280.43,584.11 L281.04,586.02 L281.65,586.87 L282.27,586.71 L282.88,587.79 L283.5,586.31 L284.11,588.27 L284.72,588.6 L285.34,588.45 L285.95,589.94 L286.57,588.33 L287.18,590.16 L287.79,590.22 L288.41,591.61 L289.02,592.23 L289.64,591.68 L290.25,591.7 L290.86,591.84 L291.48,591.8 L292.09,592.22 L292.71,594.07 L293.32,596.11 L293.93,596.6 L294.55,595.07 L295.16,594.79 L295.78,596.3 L296.39,598.56 L297,598.77 L297.62,597.88 L298.23,599.58 L298.85,600.18 L299.46,600.22 L300.07,599.83 L300.69,599.99 L301.3,601.39 L301.92,602.21 L302.53,602.37 L303.14,602.93 L303.76,601.99 L304.37,604.61 L304.99,604.82 L305.6,605.4 L306.21,605.44 L306.83,604.84 L307.44,605.21 L308.06,606.2 L308.67,607.52 L309.28,607.57 L309.9,607.36 L310.51,608.39" fill="none" stroke="#cf1540" stroke-width="1.25" stroke-linejoin="round"/>
<rect x="244.2" y="563.9" width="66.4" height="66.2" fill="none" stroke="#2b2b2b" stroke-width="1.15"/>
<line x1="242" y1="571.6" x2="244.2" y2="571.6" stroke="#2b2b2b" stroke-width="0.9"/>
<text x="238.2" y="573.7" font-size="6" text-anchor="end" fill="#2a2a2a" stroke="#2a2a2a" stroke-width="0.14">50K</text>
<line x1="242" y1="588.4" x2="244.2" y2="588.4" stroke="#2b2b2b" stroke-width="0.9"/>
<text x="238.2" y="590.5" font-size="6" text-anchor="end" fill="#2a2a2a" stroke="#2a2a2a" stroke-width="0.14">40K</text>
<line x1="242" y1="605" x2="244.2" y2="605" stroke="#2b2b2b" stroke-width="0.9"/>
<text x="238.2" y="607.1" font-size="6" text-anchor="end" fill="#2a2a2a" stroke="#2a2a2a" stroke-width="0.14">30K</text>
<line x1="242" y1="621.2" x2="244.2" y2="621.2" stroke="#2b2b2b" stroke-width="0.9"/>
<text x="238.2" y="623.3" font-size="6" text-anchor="end" fill="#2a2a2a" stroke="#2a2a2a" stroke-width="0.14">20K</text>
<line x1="243" y1="617.89" x2="244.2" y2="617.89" stroke="#2b2b2b" stroke-width="0.6"/>
<line x1="243" y1="614.59" x2="244.2" y2="614.59" stroke="#2b2b2b" stroke-width="0.6"/>
<line x1="243" y1="611.28" x2="244.2" y2="611.28" stroke="#2b2b2b" stroke-width="0.6"/>
<line x1="243" y1="607.97" x2="244.2" y2="607.97" stroke="#2b2b2b" stroke-width="0.6"/>
<line x1="243" y1="601.36" x2="244.2" y2="601.36" stroke="#2b2b2b" stroke-width="0.6"/>
<line x1="243" y1="598.05" x2="244.2" y2="598.05" stroke="#2b2b2b" stroke-width="0.6"/>
<line x1="243" y1="594.75" x2="244.2" y2="594.75" stroke="#2b2b2b" stroke-width="0.6"/>
<line x1="243" y1="591.44" x2="244.2" y2="591.44" stroke="#2b2b2b" stroke-width="0.6"/>
<line x1="243" y1="584.83" x2="244.2" y2="584.83" stroke="#2b2b2b" stroke-width="0.6"/>
<line x1="243" y1="581.52" x2="244.2" y2="581.52" stroke="#2b2b2b" stroke-width="0.6"/>
<line x1="243" y1="578.21" x2="244.2" y2="578.21" stroke="#2b2b2b" stroke-width="0.6"/>
<line x1="243" y1="574.91" x2="244.2" y2="574.91" stroke="#2b2b2b" stroke-width="0.6"/>
<line x1="243" y1="568.29" x2="244.2" y2="568.29" stroke="#2b2b2b" stroke-width="0.6"/>
<line x1="243" y1="564.99" x2="244.2" y2="564.99" stroke="#2b2b2b" stroke-width="0.6"/>
<line x1="243" y1="624.51" x2="244.2" y2="624.51" stroke="#2b2b2b" stroke-width="0.6"/>
<line x1="243" y1="627.81" x2="244.2" y2="627.81" stroke="#2b2b2b" stroke-width="0.6"/>
<line x1="244.2" y1="630.1" x2="244.2" y2="632.3" stroke="#2b2b2b" stroke-width="0.9"/>
<line x1="246.66" y1="630.1" x2="246.66" y2="631.4" stroke="#2b2b2b" stroke-width="0.6"/>
<line x1="249.11" y1="630.1" x2="249.11" y2="631.4" stroke="#2b2b2b" stroke-width="0.6"/>
<line x1="251.57" y1="630.1" x2="251.57" y2="631.4" stroke="#2b2b2b" stroke-width="0.6"/>
<line x1="254.02" y1="630.1" x2="254.02" y2="631.4" stroke="#2b2b2b" stroke-width="0.6"/>
<line x1="256.48" y1="630.1" x2="256.48" y2="632.3" stroke="#2b2b2b" stroke-width="0.9"/>
<line x1="258.94" y1="630.1" x2="258.94" y2="631.4" stroke="#2b2b2b" stroke-width="0.6"/>
<line x1="261.39" y1="630.1" x2="261.39" y2="631.4" stroke="#2b2b2b" stroke-width="0.6"/>
<line x1="263.85" y1="630.1" x2="263.85" y2="631.4" stroke="#2b2b2b" stroke-width="0.6"/>
<line x1="266.3" y1="630.1" x2="266.3" y2="631.4" stroke="#2b2b2b" stroke-width="0.6"/>
<line x1="268.76" y1="630.1" x2="268.76" y2="632.3" stroke="#2b2b2b" stroke-width="0.9"/>
<line x1="271.22" y1="630.1" x2="271.22" y2="631.4" stroke="#2b2b2b" stroke-width="0.6"/>
<line x1="273.67" y1="630.1" x2="273.67" y2="631.4" stroke="#2b2b2b" stroke-width="0.6"/>
<line x1="276.13" y1="630.1" x2="276.13" y2="631.4" stroke="#2b2b2b" stroke-width="0.6"/>
<line x1="278.58" y1="630.1" x2="278.58" y2="631.4" stroke="#2b2b2b" stroke-width="0.6"/>
<line x1="281.04" y1="630.1" x2="281.04" y2="632.3" stroke="#2b2b2b" stroke-width="0.9"/>
<line x1="283.5" y1="630.1" x2="283.5" y2="631.4" stroke="#2b2b2b" stroke-width="0.6"/>
<line x1="285.95" y1="630.1" x2="285.95" y2="631.4" stroke="#2b2b2b" stroke-width="0.6"/>
<line x1="288.41" y1="630.1" x2="288.41" y2="631.4" stroke="#2b2b2b" stroke-width="0.6"/>
<line x1="290.86" y1="630.1" x2="290.86" y2="631.4" stroke="#2b2b2b" stroke-width="0.6"/>
<line x1="293.32" y1="630.1" x2="293.32" y2="632.3" stroke="#2b2b2b" stroke-width="0.9"/>
<line x1="295.78" y1="630.1" x2="295.78" y2="631.4" stroke="#2b2b2b" stroke-width="0.6"/>
<line x1="298.23" y1="630.1" x2="298.23" y2="631.4" stroke="#2b2b2b" stroke-width="0.6"/>
<line x1="300.69" y1="630.1" x2="300.69" y2="631.4" stroke="#2b2b2b" stroke-width="0.6"/>
<line x1="303.14" y1="630.1" x2="303.14" y2="631.4" stroke="#2b2b2b" stroke-width="0.6"/>
<line x1="305.6" y1="630.1" x2="305.6" y2="632.3" stroke="#2b2b2b" stroke-width="0.9"/>
<line x1="308.06" y1="630.1" x2="308.06" y2="631.4" stroke="#2b2b2b" stroke-width="0.6"/>
<line x1="310.51" y1="630.1" x2="310.51" y2="631.4" stroke="#2b2b2b" stroke-width="0.6"/>
<text x="0" y="0" font-size="6.6" text-anchor="end" fill="#2a2a2a" stroke="#2a2a2a" stroke-width="0.14" transform="translate(247.1,636.4) rotate(-45)">0</text>
<text x="0" y="0" font-size="6.6" text-anchor="end" fill="#2a2a2a" stroke="#2a2a2a" stroke-width="0.14" transform="translate(259.38,636.4) rotate(-45)">100</text>
<text x="0" y="0" font-size="6.6" text-anchor="end" fill="#2a2a2a" stroke="#2a2a2a" stroke-width="0.14" transform="translate(271.66,636.4) rotate(-45)">200</text>
<text x="0" y="0" font-size="6.6" text-anchor="end" fill="#2a2a2a" stroke="#2a2a2a" stroke-width="0.14" transform="translate(283.94,636.4) rotate(-45)">300</text>
<text x="0" y="0" font-size="6.6" text-anchor="end" fill="#2a2a2a" stroke="#2a2a2a" stroke-width="0.14" transform="translate(296.22,636.4) rotate(-45)">400</text>
<text x="0" y="0" font-size="6.6" text-anchor="end" fill="#2a2a2a" stroke="#2a2a2a" stroke-width="0.14" transform="translate(308.5,636.4) rotate(-45)">500</text>
<text x="313.8" y="638.1" font-size="5.8" text-anchor="start" fill="#2a2a2a" stroke="#2a2a2a" stroke-width="0.14">(s)</text>
<text x="277.4" y="559.3" font-size="5.9" text-anchor="middle" fill="#222" stroke="#222" stroke-width="0.14">8 μg/mL Collagen</text>
<text x="6.2" y="456.7" font-size="11" text-anchor="start" fill="#111" font-weight="bold">L</text>
<line x1="41.5" y1="450.6" x2="55.4" y2="450.6" stroke="#1f4e8c" stroke-width="1.1"/>
<text x="58.2" y="452.6" font-size="6.2" fill="#333" font-style="italic">Actn1<tspan font-size="3.7" dy="-2.5">fl/fl</tspan></text>
<line x1="85.4" y1="450.6" x2="99.3" y2="450.6" stroke="#d1173f" stroke-width="1.1"/>
<text x="101.6" y="452.6" font-size="6.2" fill="#333">PF4-<tspan font-style="italic">Actn1</tspan><tspan font-size="3.7" dy="-2.5">−/−</tspan></text>
<rect x="0.5" y="0.5" width="519" height="652" fill="none" stroke="#4a4a4a" stroke-width="1.2"/>
</svg>
</body></html>
